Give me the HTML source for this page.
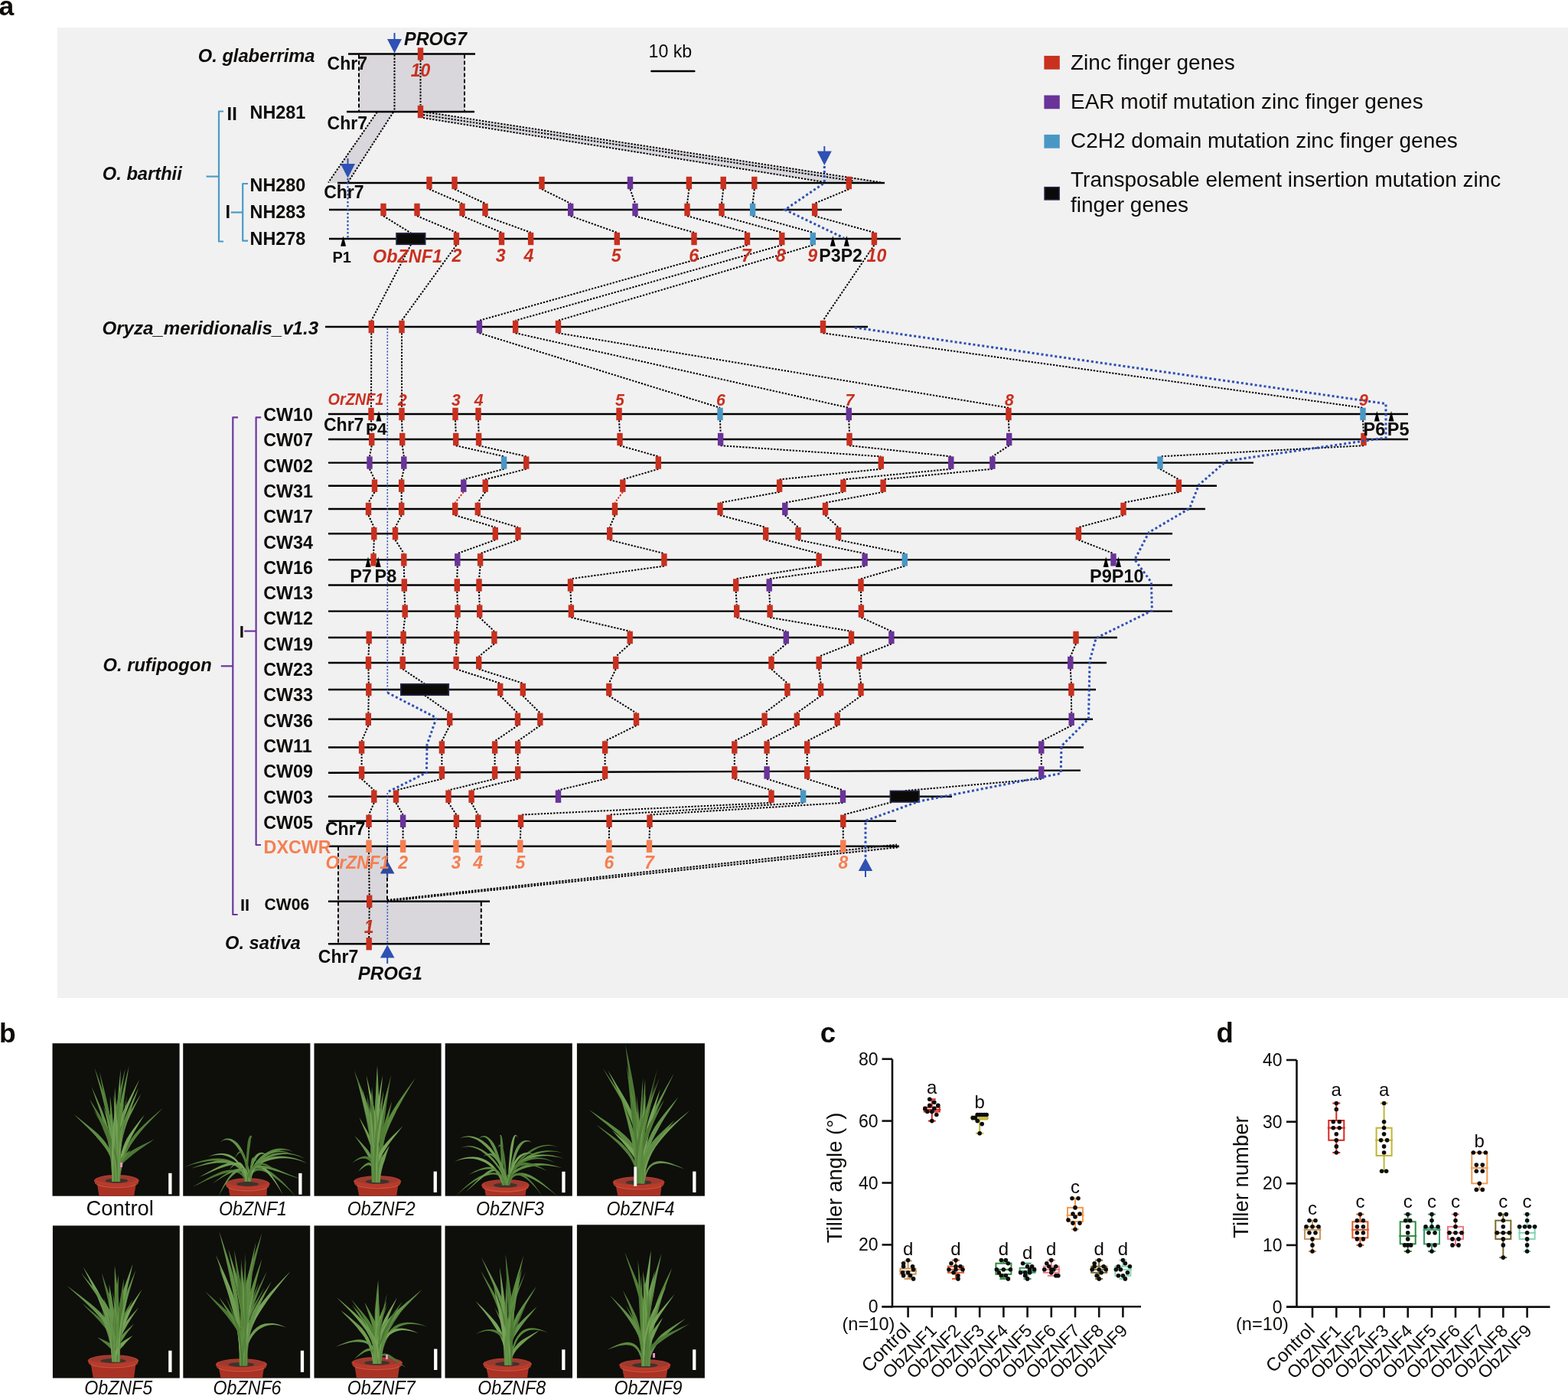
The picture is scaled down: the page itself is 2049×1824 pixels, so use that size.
<!DOCTYPE html>
<html><head><meta charset="utf-8"><title>Figure</title>
<style>
html,body{margin:0;padding:0;background:#fff;}
svg{display:block;}
text{font-family:"Liberation Sans",Arial,sans-serif;}
</style></head>
<body>
<svg width="2049" height="1824" viewBox="0 0 2049 1824">
<rect width="2049" height="1824" fill="#fff"/>
<rect x="75" y="36" width="1974" height="1268" fill="#f1f1f1"/>
<rect x="469" y="71.5" width="138" height="74" fill="#d9d7db"/>
<polygon points="492.7,146 514,146 454.5,239 429,239" fill="#d9d7db"/>
<polygon points="553,146 1150,238 1075,238 553,154" fill="#d9d7db"/>
<rect x="442" y="1106.5" width="64" height="71" fill="#d9d7db"/>
<rect x="442" y="1178.5" width="187" height="54" fill="#d9d7db"/>
<polygon points="506,1176 1172,1103.5 1175,1107 506,1177.5" fill="#d9d7db"/>
<line x1="469" y1="71.5" x2="469" y2="145" stroke="#000" stroke-width="2" stroke-dasharray="5 3"/>
<line x1="607" y1="71.5" x2="607" y2="145" stroke="#000" stroke-width="2" stroke-dasharray="5 3"/>
<line x1="515.5" y1="71.5" x2="515.5" y2="145" stroke="#000" stroke-width="2" stroke-dasharray="2.3 1.8"/>
<line x1="549.5" y1="78.5" x2="549.5" y2="137.5" stroke="#000" stroke-width="2" stroke-dasharray="2.3 1.8"/>
<line x1="442" y1="1106.5" x2="442" y2="1232" stroke="#000" stroke-width="2" stroke-dasharray="5 3"/>
<line x1="506" y1="1106.5" x2="506" y2="1177" stroke="#000" stroke-width="2" stroke-dasharray="5 3"/>
<line x1="628.8" y1="1179" x2="628.8" y2="1232" stroke="#000" stroke-width="2" stroke-dasharray="5 3"/>
<line x1="492.7" y1="146.5" x2="429" y2="238.5" stroke="#000" stroke-width="2" stroke-dasharray="2.3 1.8"/>
<line x1="514" y1="146.5" x2="454.5" y2="238.5" stroke="#000" stroke-width="2" stroke-dasharray="2.3 1.8"/>
<line x1="553" y1="146" x2="1152" y2="238.5" stroke="#000" stroke-width="2" stroke-dasharray="2.3 1.8"/>
<line x1="553" y1="150" x2="1115" y2="236.5" stroke="#000" stroke-width="2" stroke-dasharray="2.3 1.8"/>
<line x1="553" y1="154" x2="1075" y2="237.5" stroke="#000" stroke-width="2" stroke-dasharray="2.3 1.8"/>
<line x1="506" y1="1176" x2="1172" y2="1103.5" stroke="#000" stroke-width="2" stroke-dasharray="2.3 1.8"/>
<line x1="506" y1="1177.5" x2="1175" y2="1107" stroke="#000" stroke-width="2" stroke-dasharray="2.3 1.8"/>
<line x1="561" y1="247.2" x2="604" y2="265.8" stroke="#000" stroke-width="2" stroke-dasharray="2.3 1.8"/>
<line x1="594" y1="247.2" x2="634" y2="265.8" stroke="#000" stroke-width="2" stroke-dasharray="2.3 1.8"/>
<line x1="708" y1="247.2" x2="745.7" y2="265.8" stroke="#000" stroke-width="2" stroke-dasharray="2.3 1.8"/>
<line x1="823.5" y1="247.2" x2="830" y2="265.8" stroke="#000" stroke-width="2" stroke-dasharray="2.3 1.8"/>
<line x1="900.4" y1="247.2" x2="898" y2="265.8" stroke="#000" stroke-width="2" stroke-dasharray="2.3 1.8"/>
<line x1="945.2" y1="247.2" x2="943" y2="265.8" stroke="#000" stroke-width="2" stroke-dasharray="2.3 1.8"/>
<line x1="985.8" y1="247.2" x2="983.6" y2="265.8" stroke="#000" stroke-width="2" stroke-dasharray="2.3 1.8"/>
<line x1="1109.3" y1="247.2" x2="1064.6" y2="265.8" stroke="#000" stroke-width="2" stroke-dasharray="2.3 1.8"/>
<line x1="501" y1="282.2" x2="537" y2="304.5" stroke="#000" stroke-width="2" stroke-dasharray="2.3 1.8"/>
<line x1="545" y1="282.2" x2="596.4" y2="303.8" stroke="#000" stroke-width="2" stroke-dasharray="2.3 1.8"/>
<line x1="604" y1="282.2" x2="655.5" y2="303.8" stroke="#000" stroke-width="2" stroke-dasharray="2.3 1.8"/>
<line x1="634" y1="282.2" x2="693.6" y2="303.8" stroke="#000" stroke-width="2" stroke-dasharray="2.3 1.8"/>
<line x1="745.7" y1="282.2" x2="806.3" y2="303.8" stroke="#000" stroke-width="2" stroke-dasharray="2.3 1.8"/>
<line x1="830" y1="282.2" x2="907" y2="303.8" stroke="#000" stroke-width="2" stroke-dasharray="2.3 1.8"/>
<line x1="898" y1="282.2" x2="976.5" y2="303.8" stroke="#000" stroke-width="2" stroke-dasharray="2.3 1.8"/>
<line x1="943" y1="282.2" x2="1021.8" y2="303.8" stroke="#000" stroke-width="2" stroke-dasharray="2.3 1.8"/>
<line x1="983.6" y1="282.2" x2="1062.3" y2="303.8" stroke="#000" stroke-width="2" stroke-dasharray="2.3 1.8"/>
<line x1="1064.6" y1="282.2" x2="1142.4" y2="303.8" stroke="#000" stroke-width="2" stroke-dasharray="2.3 1.8"/>
<line x1="537" y1="319.5" x2="485.3" y2="418.8" stroke="#000" stroke-width="2" stroke-dasharray="2.3 1.8"/>
<line x1="596.4" y1="320.2" x2="525" y2="418.8" stroke="#000" stroke-width="2" stroke-dasharray="2.3 1.8"/>
<line x1="976.5" y1="320.2" x2="626.4" y2="418.8" stroke="#000" stroke-width="2" stroke-dasharray="2.3 1.8"/>
<line x1="1021.8" y1="320.2" x2="673.6" y2="418.8" stroke="#000" stroke-width="2" stroke-dasharray="2.3 1.8"/>
<line x1="1062.3" y1="320.2" x2="729.5" y2="418.8" stroke="#000" stroke-width="2" stroke-dasharray="2.3 1.8"/>
<line x1="1142.4" y1="320.2" x2="1075.5" y2="418.8" stroke="#000" stroke-width="2" stroke-dasharray="2.3 1.8"/>
<line x1="485.3" y1="435.2" x2="485" y2="532.8" stroke="#000" stroke-width="2" stroke-dasharray="2.3 1.8"/>
<line x1="525" y1="435.2" x2="525" y2="532.8" stroke="#000" stroke-width="2" stroke-dasharray="2.3 1.8"/>
<line x1="626.4" y1="435.2" x2="941" y2="532.8" stroke="#000" stroke-width="2" stroke-dasharray="2.3 1.8"/>
<line x1="673.6" y1="435.2" x2="1109.3" y2="532.8" stroke="#000" stroke-width="2" stroke-dasharray="2.3 1.8"/>
<line x1="729.5" y1="435.2" x2="1318" y2="532.8" stroke="#000" stroke-width="2" stroke-dasharray="2.3 1.8"/>
<line x1="1075.5" y1="435.2" x2="1781" y2="532.8" stroke="#000" stroke-width="2" stroke-dasharray="2.3 1.8"/>
<line x1="485" y1="549.2" x2="485.7" y2="565.8" stroke="#000" stroke-width="2" stroke-dasharray="2.3 1.8"/>
<line x1="525" y1="549.2" x2="525.7" y2="565.8" stroke="#000" stroke-width="2" stroke-dasharray="2.3 1.8"/>
<line x1="595" y1="549.2" x2="595.7" y2="565.8" stroke="#000" stroke-width="2" stroke-dasharray="2.3 1.8"/>
<line x1="625" y1="549.2" x2="625.6" y2="565.8" stroke="#000" stroke-width="2" stroke-dasharray="2.3 1.8"/>
<line x1="809" y1="549.2" x2="810" y2="565.8" stroke="#000" stroke-width="2" stroke-dasharray="2.3 1.8"/>
<line x1="941" y1="549.2" x2="941.6" y2="565.8" stroke="#000" stroke-width="2" stroke-dasharray="2.3 1.8"/>
<line x1="1109.3" y1="549.2" x2="1110" y2="565.8" stroke="#000" stroke-width="2" stroke-dasharray="2.3 1.8"/>
<line x1="1318" y1="549.2" x2="1318.7" y2="565.8" stroke="#000" stroke-width="2" stroke-dasharray="2.3 1.8"/>
<line x1="1781" y1="549.2" x2="1782" y2="565.8" stroke="#000" stroke-width="2" stroke-dasharray="2.3 1.8"/>
<line x1="485.7" y1="582.2" x2="483" y2="596.4" stroke="#000" stroke-width="2" stroke-dasharray="2.3 1.8"/>
<line x1="525.7" y1="582.2" x2="527.8" y2="596.4" stroke="#000" stroke-width="2" stroke-dasharray="2.3 1.8"/>
<line x1="595.7" y1="582.2" x2="658.6" y2="596.4" stroke="#000" stroke-width="2" stroke-dasharray="2.3 1.8"/>
<line x1="625.6" y1="582.2" x2="687.7" y2="596.4" stroke="#000" stroke-width="2" stroke-dasharray="2.3 1.8"/>
<line x1="810" y1="582.2" x2="860.3" y2="596.4" stroke="#000" stroke-width="2" stroke-dasharray="2.3 1.8"/>
<line x1="941.6" y1="582.2" x2="1151.3" y2="596.4" stroke="#000" stroke-width="2" stroke-dasharray="2.3 1.8"/>
<line x1="1110" y1="582.2" x2="1242.8" y2="596.4" stroke="#000" stroke-width="2" stroke-dasharray="2.3 1.8"/>
<line x1="1318.7" y1="582.2" x2="1296.9" y2="596.4" stroke="#000" stroke-width="2" stroke-dasharray="2.3 1.8"/>
<line x1="1782" y1="582.2" x2="1516" y2="596.4" stroke="#000" stroke-width="2" stroke-dasharray="2.3 1.8"/>
<line x1="483" y1="612.8" x2="489.5" y2="626.5" stroke="#000" stroke-width="2" stroke-dasharray="2.3 1.8"/>
<line x1="527.8" y1="612.8" x2="524.7" y2="626.5" stroke="#000" stroke-width="2" stroke-dasharray="2.3 1.8"/>
<line x1="658.6" y1="612.8" x2="605.8" y2="626.5" stroke="#000" stroke-width="2" stroke-dasharray="2.3 1.8"/>
<line x1="687.7" y1="612.8" x2="634.2" y2="626.5" stroke="#000" stroke-width="2" stroke-dasharray="2.3 1.8"/>
<line x1="860.3" y1="612.8" x2="813.8" y2="626.5" stroke="#000" stroke-width="2" stroke-dasharray="2.3 1.8"/>
<line x1="1151.3" y1="612.8" x2="1018.6" y2="626.5" stroke="#000" stroke-width="2" stroke-dasharray="2.3 1.8"/>
<line x1="1242.8" y1="612.8" x2="1101.9" y2="626.5" stroke="#000" stroke-width="2" stroke-dasharray="2.3 1.8"/>
<line x1="1296.9" y1="612.8" x2="1154.1" y2="626.5" stroke="#000" stroke-width="2" stroke-dasharray="2.3 1.8"/>
<line x1="1516" y1="612.8" x2="1540.4" y2="626.5" stroke="#000" stroke-width="2" stroke-dasharray="2.3 1.8"/>
<line x1="489.5" y1="642.9" x2="481.5" y2="656.8" stroke="#000" stroke-width="2" stroke-dasharray="2.3 1.8"/>
<line x1="524.7" y1="642.9" x2="524.7" y2="656.8" stroke="#000" stroke-width="2" stroke-dasharray="2.3 1.8"/>
<line x1="605.8" y1="642.9" x2="594.7" y2="656.8" stroke="#c9301f" stroke-width="2" stroke-dasharray="2.3 1.8"/>
<line x1="634.2" y1="642.9" x2="624.3" y2="656.8" stroke="#000" stroke-width="2" stroke-dasharray="2.3 1.8"/>
<line x1="813.8" y1="642.9" x2="803.5" y2="656.8" stroke="#c9301f" stroke-width="2" stroke-dasharray="2.3 1.8"/>
<line x1="1018.6" y1="642.9" x2="941" y2="656.8" stroke="#000" stroke-width="2" stroke-dasharray="2.3 1.8"/>
<line x1="1101.9" y1="642.9" x2="1025.8" y2="656.8" stroke="#000" stroke-width="2" stroke-dasharray="2.3 1.8"/>
<line x1="1154.1" y1="642.9" x2="1078.5" y2="656.8" stroke="#000" stroke-width="2" stroke-dasharray="2.3 1.8"/>
<line x1="1540.4" y1="642.9" x2="1468" y2="656.8" stroke="#000" stroke-width="2" stroke-dasharray="2.3 1.8"/>
<line x1="481.5" y1="673.2" x2="488.8" y2="689" stroke="#000" stroke-width="2" stroke-dasharray="2.3 1.8"/>
<line x1="524.7" y1="673.2" x2="516.5" y2="689" stroke="#000" stroke-width="2" stroke-dasharray="2.3 1.8"/>
<line x1="594.7" y1="673.2" x2="647.3" y2="689" stroke="#000" stroke-width="2" stroke-dasharray="2.3 1.8"/>
<line x1="624.3" y1="673.2" x2="677" y2="689" stroke="#000" stroke-width="2" stroke-dasharray="2.3 1.8"/>
<line x1="803.5" y1="673.2" x2="796.7" y2="689" stroke="#000" stroke-width="2" stroke-dasharray="2.3 1.8"/>
<line x1="941" y1="673.2" x2="1000.7" y2="689" stroke="#000" stroke-width="2" stroke-dasharray="2.3 1.8"/>
<line x1="1025.8" y1="673.2" x2="1043" y2="689" stroke="#000" stroke-width="2" stroke-dasharray="2.3 1.8"/>
<line x1="1078.5" y1="673.2" x2="1095.6" y2="689" stroke="#000" stroke-width="2" stroke-dasharray="2.3 1.8"/>
<line x1="1468" y1="673.2" x2="1409.4" y2="689" stroke="#000" stroke-width="2" stroke-dasharray="2.3 1.8"/>
<line x1="488.8" y1="705.4" x2="488.1" y2="723.2" stroke="#000" stroke-width="2" stroke-dasharray="2.3 1.8"/>
<line x1="516.5" y1="705.4" x2="527.8" y2="723.2" stroke="#000" stroke-width="2" stroke-dasharray="2.3 1.8"/>
<line x1="647.3" y1="705.4" x2="597.8" y2="723.2" stroke="#000" stroke-width="2" stroke-dasharray="2.3 1.8"/>
<line x1="677" y1="705.4" x2="627.6" y2="723.2" stroke="#000" stroke-width="2" stroke-dasharray="2.3 1.8"/>
<line x1="796.7" y1="705.4" x2="867.9" y2="723.2" stroke="#000" stroke-width="2" stroke-dasharray="2.3 1.8"/>
<line x1="1000.7" y1="705.4" x2="1070.2" y2="723.2" stroke="#000" stroke-width="2" stroke-dasharray="2.3 1.8"/>
<line x1="1043" y1="705.4" x2="1130.1" y2="723.2" stroke="#000" stroke-width="2" stroke-dasharray="2.3 1.8"/>
<line x1="1095.6" y1="705.4" x2="1182.3" y2="723.2" stroke="#000" stroke-width="2" stroke-dasharray="2.3 1.8"/>
<line x1="1409.4" y1="705.4" x2="1455" y2="723.2" stroke="#000" stroke-width="2" stroke-dasharray="2.3 1.8"/>
<line x1="527.8" y1="739.6" x2="528.3" y2="756.3" stroke="#000" stroke-width="2" stroke-dasharray="2.3 1.8"/>
<line x1="597.8" y1="739.6" x2="597.3" y2="756.3" stroke="#000" stroke-width="2" stroke-dasharray="2.3 1.8"/>
<line x1="627.6" y1="739.6" x2="626" y2="756.3" stroke="#000" stroke-width="2" stroke-dasharray="2.3 1.8"/>
<line x1="867.9" y1="739.6" x2="745.5" y2="756.3" stroke="#000" stroke-width="2" stroke-dasharray="2.3 1.8"/>
<line x1="1070.2" y1="739.6" x2="961.7" y2="756.3" stroke="#000" stroke-width="2" stroke-dasharray="2.3 1.8"/>
<line x1="1130.1" y1="739.6" x2="1005.2" y2="756.3" stroke="#000" stroke-width="2" stroke-dasharray="2.3 1.8"/>
<line x1="1182.3" y1="739.6" x2="1125" y2="756.3" stroke="#000" stroke-width="2" stroke-dasharray="2.3 1.8"/>
<line x1="528.3" y1="772.7" x2="529.2" y2="790.4" stroke="#000" stroke-width="2" stroke-dasharray="2.3 1.8"/>
<line x1="597.3" y1="772.7" x2="598" y2="790.4" stroke="#000" stroke-width="2" stroke-dasharray="2.3 1.8"/>
<line x1="626" y1="772.7" x2="626.7" y2="790.4" stroke="#000" stroke-width="2" stroke-dasharray="2.3 1.8"/>
<line x1="745.5" y1="772.7" x2="746.4" y2="790.4" stroke="#000" stroke-width="2" stroke-dasharray="2.3 1.8"/>
<line x1="961.7" y1="772.7" x2="962.7" y2="790.4" stroke="#000" stroke-width="2" stroke-dasharray="2.3 1.8"/>
<line x1="1005.2" y1="772.7" x2="1006.1" y2="790.4" stroke="#000" stroke-width="2" stroke-dasharray="2.3 1.8"/>
<line x1="1125" y1="772.7" x2="1125.4" y2="790.4" stroke="#000" stroke-width="2" stroke-dasharray="2.3 1.8"/>
<line x1="529.2" y1="806.8" x2="527.1" y2="824.8" stroke="#000" stroke-width="2" stroke-dasharray="2.3 1.8"/>
<line x1="598" y1="806.8" x2="596.8" y2="824.8" stroke="#000" stroke-width="2" stroke-dasharray="2.3 1.8"/>
<line x1="626.7" y1="806.8" x2="645.9" y2="824.8" stroke="#000" stroke-width="2" stroke-dasharray="2.3 1.8"/>
<line x1="746.4" y1="806.8" x2="823.2" y2="824.8" stroke="#000" stroke-width="2" stroke-dasharray="2.3 1.8"/>
<line x1="962.7" y1="806.8" x2="1027.3" y2="824.8" stroke="#000" stroke-width="2" stroke-dasharray="2.3 1.8"/>
<line x1="1006.1" y1="806.8" x2="1112.5" y2="824.8" stroke="#000" stroke-width="2" stroke-dasharray="2.3 1.8"/>
<line x1="1125.4" y1="806.8" x2="1164.9" y2="824.8" stroke="#000" stroke-width="2" stroke-dasharray="2.3 1.8"/>
<line x1="482.2" y1="841.2" x2="481.5" y2="857.8" stroke="#000" stroke-width="2" stroke-dasharray="2.3 1.8"/>
<line x1="527.1" y1="841.2" x2="526.2" y2="857.8" stroke="#000" stroke-width="2" stroke-dasharray="2.3 1.8"/>
<line x1="596.8" y1="841.2" x2="596.1" y2="857.8" stroke="#000" stroke-width="2" stroke-dasharray="2.3 1.8"/>
<line x1="645.9" y1="841.2" x2="625.7" y2="857.8" stroke="#000" stroke-width="2" stroke-dasharray="2.3 1.8"/>
<line x1="823.2" y1="841.2" x2="804.7" y2="857.8" stroke="#000" stroke-width="2" stroke-dasharray="2.3 1.8"/>
<line x1="1027.3" y1="841.2" x2="1008" y2="857.8" stroke="#000" stroke-width="2" stroke-dasharray="2.3 1.8"/>
<line x1="1112.5" y1="841.2" x2="1070.2" y2="857.8" stroke="#000" stroke-width="2" stroke-dasharray="2.3 1.8"/>
<line x1="1164.9" y1="841.2" x2="1122.8" y2="857.8" stroke="#000" stroke-width="2" stroke-dasharray="2.3 1.8"/>
<line x1="1406" y1="841.2" x2="1398.8" y2="857.8" stroke="#000" stroke-width="2" stroke-dasharray="2.3 1.8"/>
<line x1="481.5" y1="874.2" x2="481.8" y2="892.8" stroke="#000" stroke-width="2" stroke-dasharray="2.3 1.8"/>
<line x1="526.2" y1="874.2" x2="555" y2="893.5" stroke="#000" stroke-width="2" stroke-dasharray="2.3 1.8"/>
<line x1="596.1" y1="874.2" x2="653.7" y2="892.8" stroke="#000" stroke-width="2" stroke-dasharray="2.3 1.8"/>
<line x1="625.7" y1="874.2" x2="683.3" y2="892.8" stroke="#000" stroke-width="2" stroke-dasharray="2.3 1.8"/>
<line x1="804.7" y1="874.2" x2="795.8" y2="892.8" stroke="#000" stroke-width="2" stroke-dasharray="2.3 1.8"/>
<line x1="1008" y1="874.2" x2="1028.9" y2="892.8" stroke="#000" stroke-width="2" stroke-dasharray="2.3 1.8"/>
<line x1="1070.2" y1="874.2" x2="1072.6" y2="892.8" stroke="#000" stroke-width="2" stroke-dasharray="2.3 1.8"/>
<line x1="1122.8" y1="874.2" x2="1125" y2="892.8" stroke="#000" stroke-width="2" stroke-dasharray="2.3 1.8"/>
<line x1="1398.8" y1="874.2" x2="1399.9" y2="892.8" stroke="#000" stroke-width="2" stroke-dasharray="2.3 1.8"/>
<line x1="481.8" y1="909.2" x2="481.3" y2="931.6" stroke="#000" stroke-width="2" stroke-dasharray="2.3 1.8"/>
<line x1="555" y1="908.5" x2="587.7" y2="931.6" stroke="#000" stroke-width="2" stroke-dasharray="2.3 1.8"/>
<line x1="653.7" y1="909.2" x2="676.5" y2="931.6" stroke="#000" stroke-width="2" stroke-dasharray="2.3 1.8"/>
<line x1="683.3" y1="909.2" x2="705.8" y2="931.6" stroke="#000" stroke-width="2" stroke-dasharray="2.3 1.8"/>
<line x1="795.8" y1="909.2" x2="831.5" y2="931.6" stroke="#000" stroke-width="2" stroke-dasharray="2.3 1.8"/>
<line x1="1028.9" y1="909.2" x2="999.1" y2="931.6" stroke="#000" stroke-width="2" stroke-dasharray="2.3 1.8"/>
<line x1="1072.6" y1="909.2" x2="1041.3" y2="931.6" stroke="#000" stroke-width="2" stroke-dasharray="2.3 1.8"/>
<line x1="1125" y1="909.2" x2="1094.2" y2="931.6" stroke="#000" stroke-width="2" stroke-dasharray="2.3 1.8"/>
<line x1="1399.9" y1="909.2" x2="1400.2" y2="931.6" stroke="#000" stroke-width="2" stroke-dasharray="2.3 1.8"/>
<line x1="481.3" y1="948" x2="472.6" y2="968.3" stroke="#000" stroke-width="2" stroke-dasharray="2.3 1.8"/>
<line x1="587.7" y1="948" x2="577.4" y2="968.3" stroke="#000" stroke-width="2" stroke-dasharray="2.3 1.8"/>
<line x1="676.5" y1="948" x2="646.6" y2="968.3" stroke="#000" stroke-width="2" stroke-dasharray="2.3 1.8"/>
<line x1="705.8" y1="948" x2="676.7" y2="968.3" stroke="#000" stroke-width="2" stroke-dasharray="2.3 1.8"/>
<line x1="831.5" y1="948" x2="790.6" y2="968.3" stroke="#000" stroke-width="2" stroke-dasharray="2.3 1.8"/>
<line x1="999.1" y1="948" x2="959.8" y2="968.3" stroke="#000" stroke-width="2" stroke-dasharray="2.3 1.8"/>
<line x1="1041.3" y1="948" x2="1002.1" y2="968.3" stroke="#000" stroke-width="2" stroke-dasharray="2.3 1.8"/>
<line x1="1094.2" y1="948" x2="1054.7" y2="968.3" stroke="#000" stroke-width="2" stroke-dasharray="2.3 1.8"/>
<line x1="1400.2" y1="948" x2="1360.8" y2="968.3" stroke="#000" stroke-width="2" stroke-dasharray="2.3 1.8"/>
<line x1="472.6" y1="984.7" x2="472.6" y2="1001.3" stroke="#000" stroke-width="2" stroke-dasharray="2.3 1.8"/>
<line x1="577.4" y1="984.7" x2="577.4" y2="1001.3" stroke="#000" stroke-width="2" stroke-dasharray="2.3 1.8"/>
<line x1="646.6" y1="984.7" x2="646.6" y2="1001.3" stroke="#000" stroke-width="2" stroke-dasharray="2.3 1.8"/>
<line x1="676.7" y1="984.7" x2="676.7" y2="1001.3" stroke="#000" stroke-width="2" stroke-dasharray="2.3 1.8"/>
<line x1="790.6" y1="984.7" x2="790.6" y2="1001.3" stroke="#000" stroke-width="2" stroke-dasharray="2.3 1.8"/>
<line x1="959.8" y1="984.7" x2="959.8" y2="1001.3" stroke="#000" stroke-width="2" stroke-dasharray="2.3 1.8"/>
<line x1="1002.1" y1="984.7" x2="1002.1" y2="1001.3" stroke="#000" stroke-width="2" stroke-dasharray="2.3 1.8"/>
<line x1="1054.7" y1="984.7" x2="1054.7" y2="1001.3" stroke="#000" stroke-width="2" stroke-dasharray="2.3 1.8"/>
<line x1="1360.8" y1="984.7" x2="1360.8" y2="1001.3" stroke="#000" stroke-width="2" stroke-dasharray="2.3 1.8"/>
<line x1="472.6" y1="1017.7" x2="488.8" y2="1032.5" stroke="#000" stroke-width="2" stroke-dasharray="2.3 1.8"/>
<line x1="577.4" y1="1017.7" x2="517.5" y2="1032.5" stroke="#000" stroke-width="2" stroke-dasharray="2.3 1.8"/>
<line x1="646.6" y1="1017.7" x2="586" y2="1032.5" stroke="#000" stroke-width="2" stroke-dasharray="2.3 1.8"/>
<line x1="676.7" y1="1017.7" x2="616.1" y2="1032.5" stroke="#000" stroke-width="2" stroke-dasharray="2.3 1.8"/>
<line x1="790.6" y1="1017.7" x2="729.5" y2="1032.5" stroke="#000" stroke-width="2" stroke-dasharray="2.3 1.8"/>
<line x1="959.8" y1="1017.7" x2="1008" y2="1032.5" stroke="#000" stroke-width="2" stroke-dasharray="2.3 1.8"/>
<line x1="1002.1" y1="1017.7" x2="1049.6" y2="1032.5" stroke="#000" stroke-width="2" stroke-dasharray="2.3 1.8"/>
<line x1="1054.7" y1="1017.7" x2="1101.5" y2="1032.5" stroke="#000" stroke-width="2" stroke-dasharray="2.3 1.8"/>
<line x1="1360.8" y1="1017.7" x2="1182" y2="1033.2" stroke="#000" stroke-width="2" stroke-dasharray="2.3 1.8"/>
<line x1="488.8" y1="1048.9" x2="482" y2="1064.6" stroke="#000" stroke-width="2" stroke-dasharray="2.3 1.8"/>
<line x1="517.5" y1="1048.9" x2="526.6" y2="1064.6" stroke="#000" stroke-width="2" stroke-dasharray="2.3 1.8"/>
<line x1="586" y1="1048.9" x2="596.4" y2="1064.6" stroke="#000" stroke-width="2" stroke-dasharray="2.3 1.8"/>
<line x1="616.1" y1="1048.9" x2="624.8" y2="1064.6" stroke="#000" stroke-width="2" stroke-dasharray="2.3 1.8"/>
<line x1="1008" y1="1048.9" x2="680.5" y2="1064.6" stroke="#000" stroke-width="2" stroke-dasharray="2.3 1.8"/>
<line x1="1049.6" y1="1048.9" x2="796.1" y2="1064.6" stroke="#000" stroke-width="2" stroke-dasharray="2.3 1.8"/>
<line x1="1101.5" y1="1048.9" x2="849" y2="1064.6" stroke="#000" stroke-width="2" stroke-dasharray="2.3 1.8"/>
<line x1="1165" y1="1048.2" x2="1101.8" y2="1064.6" stroke="#000" stroke-width="2" stroke-dasharray="2.3 1.8"/>
<line x1="482" y1="1081" x2="482" y2="1097.5" stroke="#000" stroke-width="2" stroke-dasharray="2.3 1.8"/>
<line x1="526.6" y1="1081" x2="526.6" y2="1097.5" stroke="#000" stroke-width="2" stroke-dasharray="2.3 1.8"/>
<line x1="596.4" y1="1081" x2="595.9" y2="1097.5" stroke="#000" stroke-width="2" stroke-dasharray="2.3 1.8"/>
<line x1="624.8" y1="1081" x2="624.6" y2="1097.5" stroke="#000" stroke-width="2" stroke-dasharray="2.3 1.8"/>
<line x1="680.5" y1="1081" x2="679.8" y2="1097.5" stroke="#000" stroke-width="2" stroke-dasharray="2.3 1.8"/>
<line x1="796.1" y1="1081" x2="795.9" y2="1097.5" stroke="#000" stroke-width="2" stroke-dasharray="2.3 1.8"/>
<line x1="849" y1="1081" x2="848.5" y2="1097.5" stroke="#000" stroke-width="2" stroke-dasharray="2.3 1.8"/>
<line x1="1101.8" y1="1081" x2="1101.8" y2="1097.5" stroke="#000" stroke-width="2" stroke-dasharray="2.3 1.8"/>
<line x1="482" y1="1113.9" x2="482.7" y2="1169.6" stroke="#000" stroke-width="2" stroke-dasharray="2.3 1.8"/>
<line x1="482.7" y1="1186" x2="482.2" y2="1225" stroke="#000" stroke-width="2" stroke-dasharray="2.3 1.8"/>
<line x1="455" y1="70.5" x2="621" y2="70.5" stroke="#000" stroke-width="2.4"/>
<line x1="453" y1="146" x2="620" y2="146" stroke="#000" stroke-width="2.4"/>
<line x1="441" y1="239" x2="1156" y2="239" stroke="#000" stroke-width="2.4"/>
<line x1="430" y1="274" x2="1100" y2="274" stroke="#000" stroke-width="2.4"/>
<line x1="430" y1="312" x2="1177" y2="312" stroke="#000" stroke-width="2.4"/>
<line x1="425" y1="427" x2="1134" y2="427" stroke="#000" stroke-width="2.4"/>
<line x1="429" y1="541" x2="1840" y2="541" stroke="#000" stroke-width="2.4"/>
<line x1="429" y1="574" x2="1840" y2="574" stroke="#000" stroke-width="2.4"/>
<line x1="429" y1="604.6" x2="1638" y2="604.6" stroke="#000" stroke-width="2.4"/>
<line x1="429" y1="634.7" x2="1590" y2="634.7" stroke="#000" stroke-width="2.4"/>
<line x1="429" y1="665" x2="1575" y2="665" stroke="#000" stroke-width="2.4"/>
<line x1="429" y1="697.2" x2="1532" y2="697.2" stroke="#000" stroke-width="2.4"/>
<line x1="429" y1="731.4" x2="1529" y2="731.4" stroke="#000" stroke-width="2.4"/>
<line x1="429" y1="764.5" x2="1532" y2="764.5" stroke="#000" stroke-width="2.4"/>
<line x1="429" y1="798.6" x2="1532" y2="798.6" stroke="#000" stroke-width="2.4"/>
<line x1="429" y1="833" x2="1460" y2="833" stroke="#000" stroke-width="2.4"/>
<line x1="429" y1="866" x2="1446" y2="866" stroke="#000" stroke-width="2.4"/>
<line x1="429" y1="901" x2="1432" y2="901" stroke="#000" stroke-width="2.4"/>
<line x1="429" y1="939.8" x2="1428" y2="939.8" stroke="#000" stroke-width="2.4"/>
<line x1="429" y1="976.5" x2="1416" y2="976.5" stroke="#000" stroke-width="2.4"/>
<line x1="429" y1="1009.8" x2="1412" y2="1006.6" stroke="#000" stroke-width="2.4"/>
<line x1="429" y1="1040.7" x2="1244" y2="1040.7" stroke="#000" stroke-width="2.4"/>
<line x1="429" y1="1072.8" x2="1171" y2="1072.8" stroke="#000" stroke-width="2.4"/>
<line x1="429" y1="1105.7" x2="1175" y2="1105.7" stroke="#000" stroke-width="2.4"/>
<line x1="429" y1="1177.8" x2="640" y2="1177.8" stroke="#000" stroke-width="2.4"/>
<line x1="429" y1="1233.2" x2="640" y2="1233.2" stroke="#000" stroke-width="2.4"/>
<rect x="545.8" y="62.3" width="7.4" height="16.4" fill="#c9301f"/>
<rect x="545.8" y="137.8" width="7.4" height="16.4" fill="#c9301f"/>
<rect x="557.3" y="230.8" width="7.4" height="16.4" fill="#c9301f"/>
<rect x="590.3" y="230.8" width="7.4" height="16.4" fill="#c9301f"/>
<rect x="704.3" y="230.8" width="7.4" height="16.4" fill="#c9301f"/>
<rect x="819.8" y="230.8" width="7.4" height="16.4" fill="#6a3399"/>
<rect x="896.7" y="230.8" width="7.4" height="16.4" fill="#c9301f"/>
<rect x="941.5" y="230.8" width="7.4" height="16.4" fill="#c9301f"/>
<rect x="982.1" y="230.8" width="7.4" height="16.4" fill="#c9301f"/>
<rect x="1105.6" y="230.8" width="7.4" height="16.4" fill="#c9301f"/>
<rect x="497.3" y="265.8" width="7.4" height="16.4" fill="#c9301f"/>
<rect x="541.3" y="265.8" width="7.4" height="16.4" fill="#c9301f"/>
<rect x="600.3" y="265.8" width="7.4" height="16.4" fill="#c9301f"/>
<rect x="630.3" y="265.8" width="7.4" height="16.4" fill="#c9301f"/>
<rect x="742" y="265.8" width="7.4" height="16.4" fill="#6a3399"/>
<rect x="826.3" y="265.8" width="7.4" height="16.4" fill="#6a3399"/>
<rect x="894.3" y="265.8" width="7.4" height="16.4" fill="#c9301f"/>
<rect x="939.3" y="265.8" width="7.4" height="16.4" fill="#c9301f"/>
<rect x="979.9" y="265.8" width="7.4" height="16.4" fill="#4a97c5"/>
<rect x="1060.9" y="265.8" width="7.4" height="16.4" fill="#c9301f"/>
<rect x="592.7" y="303.8" width="7.4" height="16.4" fill="#c9301f"/>
<rect x="651.8" y="303.8" width="7.4" height="16.4" fill="#c9301f"/>
<rect x="689.9" y="303.8" width="7.4" height="16.4" fill="#c9301f"/>
<rect x="802.6" y="303.8" width="7.4" height="16.4" fill="#c9301f"/>
<rect x="903.3" y="303.8" width="7.4" height="16.4" fill="#c9301f"/>
<rect x="972.8" y="303.8" width="7.4" height="16.4" fill="#c9301f"/>
<rect x="1018.1" y="303.8" width="7.4" height="16.4" fill="#c9301f"/>
<rect x="1058.6" y="303.8" width="7.4" height="16.4" fill="#4a97c5"/>
<rect x="1138.7" y="303.8" width="7.4" height="16.4" fill="#c9301f"/>
<rect x="481.6" y="418.8" width="7.4" height="16.4" fill="#c9301f"/>
<rect x="521.3" y="418.8" width="7.4" height="16.4" fill="#c9301f"/>
<rect x="622.7" y="418.8" width="7.4" height="16.4" fill="#6a3399"/>
<rect x="669.9" y="418.8" width="7.4" height="16.4" fill="#c9301f"/>
<rect x="725.8" y="418.8" width="7.4" height="16.4" fill="#c9301f"/>
<rect x="1071.8" y="418.8" width="7.4" height="16.4" fill="#c9301f"/>
<rect x="481.3" y="532.8" width="7.4" height="16.4" fill="#c9301f"/>
<rect x="521.3" y="532.8" width="7.4" height="16.4" fill="#c9301f"/>
<rect x="591.3" y="532.8" width="7.4" height="16.4" fill="#c9301f"/>
<rect x="621.3" y="532.8" width="7.4" height="16.4" fill="#c9301f"/>
<rect x="805.3" y="532.8" width="7.4" height="16.4" fill="#c9301f"/>
<rect x="937.3" y="532.8" width="7.4" height="16.4" fill="#4a97c5"/>
<rect x="1105.6" y="532.8" width="7.4" height="16.4" fill="#6a3399"/>
<rect x="1314.3" y="532.8" width="7.4" height="16.4" fill="#c9301f"/>
<rect x="1777.3" y="532.8" width="7.4" height="16.4" fill="#4a97c5"/>
<rect x="482" y="565.8" width="7.4" height="16.4" fill="#c9301f"/>
<rect x="522" y="565.8" width="7.4" height="16.4" fill="#c9301f"/>
<rect x="592" y="565.8" width="7.4" height="16.4" fill="#c9301f"/>
<rect x="621.9" y="565.8" width="7.4" height="16.4" fill="#c9301f"/>
<rect x="806.3" y="565.8" width="7.4" height="16.4" fill="#c9301f"/>
<rect x="937.9" y="565.8" width="7.4" height="16.4" fill="#6a3399"/>
<rect x="1106.3" y="565.8" width="7.4" height="16.4" fill="#c9301f"/>
<rect x="1315" y="565.8" width="7.4" height="16.4" fill="#6a3399"/>
<rect x="1778.3" y="565.8" width="7.4" height="16.4" fill="#c9301f"/>
<rect x="479.3" y="596.4" width="7.4" height="16.4" fill="#6a3399"/>
<rect x="524.1" y="596.4" width="7.4" height="16.4" fill="#6a3399"/>
<rect x="654.9" y="596.4" width="7.4" height="16.4" fill="#4a97c5"/>
<rect x="684" y="596.4" width="7.4" height="16.4" fill="#c9301f"/>
<rect x="856.6" y="596.4" width="7.4" height="16.4" fill="#c9301f"/>
<rect x="1147.6" y="596.4" width="7.4" height="16.4" fill="#c9301f"/>
<rect x="1239.1" y="596.4" width="7.4" height="16.4" fill="#6a3399"/>
<rect x="1293.2" y="596.4" width="7.4" height="16.4" fill="#6a3399"/>
<rect x="1512.3" y="596.4" width="7.4" height="16.4" fill="#4a97c5"/>
<rect x="485.8" y="626.5" width="7.4" height="16.4" fill="#c9301f"/>
<rect x="521" y="626.5" width="7.4" height="16.4" fill="#c9301f"/>
<rect x="602.1" y="626.5" width="7.4" height="16.4" fill="#6a3399"/>
<rect x="630.5" y="626.5" width="7.4" height="16.4" fill="#c9301f"/>
<rect x="810.1" y="626.5" width="7.4" height="16.4" fill="#c9301f"/>
<rect x="1014.9" y="626.5" width="7.4" height="16.4" fill="#c9301f"/>
<rect x="1098.2" y="626.5" width="7.4" height="16.4" fill="#c9301f"/>
<rect x="1150.4" y="626.5" width="7.4" height="16.4" fill="#c9301f"/>
<rect x="1536.7" y="626.5" width="7.4" height="16.4" fill="#c9301f"/>
<rect x="477.8" y="656.8" width="7.4" height="16.4" fill="#c9301f"/>
<rect x="521" y="656.8" width="7.4" height="16.4" fill="#c9301f"/>
<rect x="591" y="656.8" width="7.4" height="16.4" fill="#c9301f"/>
<rect x="620.6" y="656.8" width="7.4" height="16.4" fill="#c9301f"/>
<rect x="799.8" y="656.8" width="7.4" height="16.4" fill="#c9301f"/>
<rect x="937.3" y="656.8" width="7.4" height="16.4" fill="#c9301f"/>
<rect x="1022.1" y="656.8" width="7.4" height="16.4" fill="#6a3399"/>
<rect x="1074.8" y="656.8" width="7.4" height="16.4" fill="#c9301f"/>
<rect x="1464.3" y="656.8" width="7.4" height="16.4" fill="#c9301f"/>
<rect x="485.1" y="689" width="7.4" height="16.4" fill="#c9301f"/>
<rect x="512.8" y="689" width="7.4" height="16.4" fill="#c9301f"/>
<rect x="643.6" y="689" width="7.4" height="16.4" fill="#c9301f"/>
<rect x="673.3" y="689" width="7.4" height="16.4" fill="#c9301f"/>
<rect x="793" y="689" width="7.4" height="16.4" fill="#c9301f"/>
<rect x="997" y="689" width="7.4" height="16.4" fill="#c9301f"/>
<rect x="1039.3" y="689" width="7.4" height="16.4" fill="#c9301f"/>
<rect x="1091.9" y="689" width="7.4" height="16.4" fill="#c9301f"/>
<rect x="1405.7" y="689" width="7.4" height="16.4" fill="#c9301f"/>
<rect x="484.4" y="723.2" width="7.4" height="16.4" fill="#c9301f"/>
<rect x="524.1" y="723.2" width="7.4" height="16.4" fill="#c9301f"/>
<rect x="594.1" y="723.2" width="7.4" height="16.4" fill="#6a3399"/>
<rect x="623.9" y="723.2" width="7.4" height="16.4" fill="#c9301f"/>
<rect x="864.2" y="723.2" width="7.4" height="16.4" fill="#c9301f"/>
<rect x="1066.5" y="723.2" width="7.4" height="16.4" fill="#c9301f"/>
<rect x="1126.4" y="723.2" width="7.4" height="16.4" fill="#6a3399"/>
<rect x="1178.6" y="723.2" width="7.4" height="16.4" fill="#4a97c5"/>
<rect x="1451.3" y="723.2" width="7.4" height="16.4" fill="#6a3399"/>
<rect x="524.6" y="756.3" width="7.4" height="16.4" fill="#c9301f"/>
<rect x="593.6" y="756.3" width="7.4" height="16.4" fill="#c9301f"/>
<rect x="622.3" y="756.3" width="7.4" height="16.4" fill="#c9301f"/>
<rect x="741.8" y="756.3" width="7.4" height="16.4" fill="#c9301f"/>
<rect x="958" y="756.3" width="7.4" height="16.4" fill="#c9301f"/>
<rect x="1001.5" y="756.3" width="7.4" height="16.4" fill="#6a3399"/>
<rect x="1121.3" y="756.3" width="7.4" height="16.4" fill="#c9301f"/>
<rect x="525.5" y="790.4" width="7.4" height="16.4" fill="#c9301f"/>
<rect x="594.3" y="790.4" width="7.4" height="16.4" fill="#c9301f"/>
<rect x="623" y="790.4" width="7.4" height="16.4" fill="#c9301f"/>
<rect x="742.7" y="790.4" width="7.4" height="16.4" fill="#c9301f"/>
<rect x="959" y="790.4" width="7.4" height="16.4" fill="#c9301f"/>
<rect x="1002.4" y="790.4" width="7.4" height="16.4" fill="#c9301f"/>
<rect x="1121.7" y="790.4" width="7.4" height="16.4" fill="#c9301f"/>
<rect x="478.5" y="824.8" width="7.4" height="16.4" fill="#c9301f"/>
<rect x="523.4" y="824.8" width="7.4" height="16.4" fill="#c9301f"/>
<rect x="593.1" y="824.8" width="7.4" height="16.4" fill="#c9301f"/>
<rect x="642.2" y="824.8" width="7.4" height="16.4" fill="#c9301f"/>
<rect x="819.5" y="824.8" width="7.4" height="16.4" fill="#c9301f"/>
<rect x="1023.6" y="824.8" width="7.4" height="16.4" fill="#6a3399"/>
<rect x="1108.8" y="824.8" width="7.4" height="16.4" fill="#c9301f"/>
<rect x="1161.2" y="824.8" width="7.4" height="16.4" fill="#6a3399"/>
<rect x="1402.3" y="824.8" width="7.4" height="16.4" fill="#c9301f"/>
<rect x="477.8" y="857.8" width="7.4" height="16.4" fill="#c9301f"/>
<rect x="522.5" y="857.8" width="7.4" height="16.4" fill="#c9301f"/>
<rect x="592.4" y="857.8" width="7.4" height="16.4" fill="#c9301f"/>
<rect x="622" y="857.8" width="7.4" height="16.4" fill="#c9301f"/>
<rect x="801" y="857.8" width="7.4" height="16.4" fill="#c9301f"/>
<rect x="1004.3" y="857.8" width="7.4" height="16.4" fill="#c9301f"/>
<rect x="1066.5" y="857.8" width="7.4" height="16.4" fill="#c9301f"/>
<rect x="1119.1" y="857.8" width="7.4" height="16.4" fill="#c9301f"/>
<rect x="1395.1" y="857.8" width="7.4" height="16.4" fill="#6a3399"/>
<rect x="478.1" y="892.8" width="7.4" height="16.4" fill="#c9301f"/>
<rect x="650" y="892.8" width="7.4" height="16.4" fill="#c9301f"/>
<rect x="679.6" y="892.8" width="7.4" height="16.4" fill="#c9301f"/>
<rect x="792.1" y="892.8" width="7.4" height="16.4" fill="#c9301f"/>
<rect x="1025.2" y="892.8" width="7.4" height="16.4" fill="#c9301f"/>
<rect x="1068.9" y="892.8" width="7.4" height="16.4" fill="#c9301f"/>
<rect x="1121.3" y="892.8" width="7.4" height="16.4" fill="#c9301f"/>
<rect x="1396.2" y="892.8" width="7.4" height="16.4" fill="#c9301f"/>
<rect x="477.6" y="931.6" width="7.4" height="16.4" fill="#c9301f"/>
<rect x="584" y="931.6" width="7.4" height="16.4" fill="#c9301f"/>
<rect x="672.8" y="931.6" width="7.4" height="16.4" fill="#c9301f"/>
<rect x="702.1" y="931.6" width="7.4" height="16.4" fill="#c9301f"/>
<rect x="827.8" y="931.6" width="7.4" height="16.4" fill="#c9301f"/>
<rect x="995.4" y="931.6" width="7.4" height="16.4" fill="#c9301f"/>
<rect x="1037.6" y="931.6" width="7.4" height="16.4" fill="#c9301f"/>
<rect x="1090.5" y="931.6" width="7.4" height="16.4" fill="#c9301f"/>
<rect x="1396.5" y="931.6" width="7.4" height="16.4" fill="#6a3399"/>
<rect x="468.9" y="968.3" width="7.4" height="16.4" fill="#c9301f"/>
<rect x="573.7" y="968.3" width="7.4" height="16.4" fill="#c9301f"/>
<rect x="642.9" y="968.3" width="7.4" height="16.4" fill="#c9301f"/>
<rect x="673" y="968.3" width="7.4" height="16.4" fill="#c9301f"/>
<rect x="786.9" y="968.3" width="7.4" height="16.4" fill="#c9301f"/>
<rect x="956.1" y="968.3" width="7.4" height="16.4" fill="#c9301f"/>
<rect x="998.4" y="968.3" width="7.4" height="16.4" fill="#c9301f"/>
<rect x="1051" y="968.3" width="7.4" height="16.4" fill="#c9301f"/>
<rect x="1357.1" y="968.3" width="7.4" height="16.4" fill="#6a3399"/>
<rect x="468.9" y="1001.3" width="7.4" height="16.4" fill="#c9301f"/>
<rect x="573.7" y="1001.3" width="7.4" height="16.4" fill="#c9301f"/>
<rect x="642.9" y="1001.3" width="7.4" height="16.4" fill="#c9301f"/>
<rect x="673" y="1001.3" width="7.4" height="16.4" fill="#c9301f"/>
<rect x="786.9" y="1001.3" width="7.4" height="16.4" fill="#c9301f"/>
<rect x="956.1" y="1001.3" width="7.4" height="16.4" fill="#c9301f"/>
<rect x="998.4" y="1001.3" width="7.4" height="16.4" fill="#6a3399"/>
<rect x="1051" y="1001.3" width="7.4" height="16.4" fill="#c9301f"/>
<rect x="1357.1" y="1001.3" width="7.4" height="16.4" fill="#6a3399"/>
<rect x="485.1" y="1032.5" width="7.4" height="16.4" fill="#c9301f"/>
<rect x="513.8" y="1032.5" width="7.4" height="16.4" fill="#c9301f"/>
<rect x="582.3" y="1032.5" width="7.4" height="16.4" fill="#c9301f"/>
<rect x="612.4" y="1032.5" width="7.4" height="16.4" fill="#c9301f"/>
<rect x="725.8" y="1032.5" width="7.4" height="16.4" fill="#6a3399"/>
<rect x="1004.3" y="1032.5" width="7.4" height="16.4" fill="#c9301f"/>
<rect x="1045.9" y="1032.5" width="7.4" height="16.4" fill="#4a97c5"/>
<rect x="1097.8" y="1032.5" width="7.4" height="16.4" fill="#6a3399"/>
<rect x="478.3" y="1064.6" width="7.4" height="16.4" fill="#c9301f"/>
<rect x="522.9" y="1064.6" width="7.4" height="16.4" fill="#6a3399"/>
<rect x="592.7" y="1064.6" width="7.4" height="16.4" fill="#c9301f"/>
<rect x="621.1" y="1064.6" width="7.4" height="16.4" fill="#c9301f"/>
<rect x="676.8" y="1064.6" width="7.4" height="16.4" fill="#c9301f"/>
<rect x="792.4" y="1064.6" width="7.4" height="16.4" fill="#c9301f"/>
<rect x="845.3" y="1064.6" width="7.4" height="16.4" fill="#c9301f"/>
<rect x="1098.1" y="1064.6" width="7.4" height="16.4" fill="#c9301f"/>
<rect x="478.3" y="1097.5" width="7.4" height="16.4" fill="#f57f52"/>
<rect x="522.9" y="1097.5" width="7.4" height="16.4" fill="#f57f52"/>
<rect x="592.2" y="1097.5" width="7.4" height="16.4" fill="#f57f52"/>
<rect x="620.9" y="1097.5" width="7.4" height="16.4" fill="#f57f52"/>
<rect x="676.1" y="1097.5" width="7.4" height="16.4" fill="#f57f52"/>
<rect x="792.2" y="1097.5" width="7.4" height="16.4" fill="#f57f52"/>
<rect x="844.8" y="1097.5" width="7.4" height="16.4" fill="#f57f52"/>
<rect x="1098.1" y="1097.5" width="7.4" height="16.4" fill="#f57f52"/>
<rect x="479" y="1169.6" width="7.4" height="16.4" fill="#c9301f"/>
<rect x="478.5" y="1225" width="7.4" height="16.4" fill="#c9301f"/>
<rect x="518" y="304.7" width="37.7" height="14.6" fill="#0c0a08" stroke="#27284a" stroke-width="1.6"/>
<rect x="523.8" y="893.7" width="62.5" height="14.6" fill="#0c0a08" stroke="#27284a" stroke-width="1.6"/>
<rect x="1163.4" y="1033.4" width="37.7" height="14.6" fill="#0c0a08" stroke="#27284a" stroke-width="1.6"/>
<polyline points="454.5,233 454.5,311" fill="none" stroke="#2f50b4" stroke-width="2.2" stroke-dasharray="2.5 2.5"/>
<polyline points="1077.3,217 1077.3,239 1025.8,274 1102.8,311" fill="none" stroke="#2f50b4" stroke-width="3" stroke-dasharray="3 3"/>
<polyline points="1117,428 1811,527.5 1811,572 1602.6,602.3 1566.5,633.6 1554.5,664.3 1501.3,695.6 1482.8,731.2 1504.4,760.6 1505.4,797.8 1432.2,833.8 1424,863.7 1422.5,939.3 1387,974.9 1386.2,1010.5 1201,1047 1131,1072.4 1131,1121" fill="none" stroke="#2f50b4" stroke-width="3" stroke-dasharray="3 3"/>
<polyline points="506.3,429 506.3,905" fill="none" stroke="#2f50b4" stroke-width="1.6" stroke-dasharray="2 2.2"/>
<polyline points="506.3,905 570.3,937.9 558,973 557.4,1009.5 505.7,1035.3" fill="none" stroke="#2f50b4" stroke-width="3" stroke-dasharray="3 3"/>
<polyline points="506.3,1036 506.3,1124" fill="none" stroke="#2f50b4" stroke-width="1.6" stroke-dasharray="2 2.2"/>
<polyline points="506.3,1179 506.3,1234" fill="none" stroke="#2f50b4" stroke-width="1.6" stroke-dasharray="2 2.2"/>
<polygon points="506,51 525,51 515.5,69.5" fill="#2f50b4"/><line x1="515.5" y1="43" x2="515.5" y2="52" stroke="#2f50b4" stroke-width="2"/>
<polygon points="445,214 464,214 454.5,232.5" fill="#2f50b4"/><line x1="454.5" y1="207" x2="454.5" y2="215" stroke="#2f50b4" stroke-width="2"/>
<polygon points="1067.8,197.5 1086.8,197.5 1077.3,216" fill="#2f50b4"/><line x1="1077.3" y1="191" x2="1077.3" y2="198.5" stroke="#2f50b4" stroke-width="2"/>
<polygon points="496.9,1251.5 515.5,1251.5 506.2,1234.5" fill="#2f50b4"/><line x1="506.2" y1="1250.5" x2="506.2" y2="1259" stroke="#2f50b4" stroke-width="2"/>
<polygon points="496.9,1141.5 515.5,1141.5 506.2,1124.5" fill="#2d4aa0"/><line x1="506.2" y1="1140.5" x2="506.2" y2="1146" stroke="#2d4aa0" stroke-width="2"/>
<polygon points="1121.8,1138 1140.2,1138 1131,1121" fill="#2f50b4"/><line x1="1131" y1="1137" x2="1131" y2="1146" stroke="#2f50b4" stroke-width="2"/>
<polygon points="445.1,321.8 452.1,321.8 448.6,308.5" fill="#000"/>
<polygon points="1084.8,321.8 1091.8,321.8 1088.3,308" fill="#000"/>
<polygon points="1102.8,321.8 1109.8,321.8 1106.3,308" fill="#000"/>
<polygon points="491.5,550.5 498.5,550.5 495,537" fill="#000"/>
<polygon points="1795.8,550.5 1802.8,550.5 1799.3,537" fill="#000"/>
<polygon points="1814.5,550.5 1821.5,550.5 1818,537" fill="#000"/>
<polygon points="477.5,741 484.5,741 481,727.5" fill="#000"/>
<polygon points="490.7,741 497.7,741 494.2,727.5" fill="#000"/>
<polygon points="1441.7,741 1448.7,741 1445.2,727.5" fill="#000"/>
<polygon points="1458,741 1465,741 1461.5,727.5" fill="#000"/>
<path d="M292,145.5 H286 V315.5 H292" fill="none" stroke="#4a9cc6" stroke-width="2.2" stroke-linejoin="round"/>
<line x1="269.6" y1="230.6" x2="286" y2="230.6" stroke="#4a9cc6" stroke-width="2.2"/>
<path d="M324,240 H317.2 V314.7 H324" fill="none" stroke="#4a9cc6" stroke-width="2.2" stroke-linejoin="round"/>
<line x1="301.8" y1="277.5" x2="317.2" y2="277.5" stroke="#4a9cc6" stroke-width="2.2"/>
<path d="M311,545.3 H304.3 V1195 H310.6" fill="none" stroke="#6b36a0" stroke-width="2.2" stroke-linejoin="round"/>
<line x1="288.8" y1="870.3" x2="304.3" y2="870.3" stroke="#6b36a0" stroke-width="2.2"/>
<path d="M341.2,545.3 H334.6 V1104 H341" fill="none" stroke="#6b36a0" stroke-width="2.2" stroke-linejoin="round"/>
<line x1="319.2" y1="824.6" x2="334.6" y2="824.6" stroke="#6b36a0" stroke-width="2.2"/>
<text x="-1.5" y="20.2" font-size="35.5" font-weight="bold" fill="#0d0b09">a</text>
<text x="258.8" y="80.5" font-size="23.7" font-weight="bold" font-style="italic" fill="#0d0b09">O. glaberrima</text>
<text x="133.8" y="234.6" font-size="23.7" font-weight="bold" font-style="italic" fill="#0d0b09">O. barthii</text>
<text x="133.5" y="436.8" font-size="24.1" font-weight="bold" font-style="italic" fill="#0d0b09">Oryza_meridionalis_v1.3</text>
<text x="134.6" y="877" font-size="23.7" font-weight="bold" font-style="italic" fill="#0d0b09">O. rufipogon</text>
<text x="392.8" y="1239.6" font-size="23.7" font-weight="bold" font-style="italic" text-anchor="end" fill="#0d0b09">O. sativa</text>
<text x="528" y="58.6" font-size="23.45" font-weight="bold" font-style="italic" fill="#0d0b09">PROG7</text>
<text x="467.8" y="1279.5" font-size="24.0" font-weight="bold" font-style="italic" fill="#0d0b09">PROG1</text>
<text x="427.6" y="91.4" font-size="23" font-weight="bold" fill="#0d0b09">Chr7</text>
<text x="427.6" y="168.7" font-size="23" font-weight="bold" fill="#0d0b09">Chr7</text>
<text x="423.2" y="259" font-size="23" font-weight="bold" fill="#0d0b09">Chr7</text>
<text x="423" y="563" font-size="23" font-weight="bold" fill="#0d0b09">Chr7</text>
<text x="425" y="1091" font-size="23" font-weight="bold" fill="#0d0b09">Chr7</text>
<text x="415.8" y="1257.7" font-size="23" font-weight="bold" fill="#0d0b09">Chr7</text>
<text x="326.5" y="154.8" font-size="23.4" font-weight="bold" fill="#0d0b09">NH281</text>
<text x="326.5" y="249.7" font-size="23.4" font-weight="bold" fill="#0d0b09">NH280</text>
<text x="326.5" y="285" font-size="23.4" font-weight="bold" fill="#0d0b09">NH283</text>
<text x="326.5" y="319.6" font-size="23.4" font-weight="bold" fill="#0d0b09">NH278</text>
<text x="296.6" y="157" font-size="23.7" font-weight="bold" fill="#0d0b09">II</text>
<text x="294.5" y="285" font-size="23.7" font-weight="bold" fill="#0d0b09">I</text>
<text x="344.2" y="550" font-size="23.3" font-weight="bold" fill="#0d0b09">CW10</text>
<text x="344.2" y="583.3" font-size="23.3" font-weight="bold" fill="#0d0b09">CW07</text>
<text x="344.2" y="616.6" font-size="23.3" font-weight="bold" fill="#0d0b09">CW02</text>
<text x="344.2" y="649.9" font-size="23.3" font-weight="bold" fill="#0d0b09">CW31</text>
<text x="344.2" y="683.2" font-size="23.3" font-weight="bold" fill="#0d0b09">CW17</text>
<text x="344.2" y="716.5" font-size="23.3" font-weight="bold" fill="#0d0b09">CW34</text>
<text x="344.2" y="749.8" font-size="23.3" font-weight="bold" fill="#0d0b09">CW16</text>
<text x="344.2" y="783.1" font-size="23.3" font-weight="bold" fill="#0d0b09">CW13</text>
<text x="344.2" y="816.4" font-size="23.3" font-weight="bold" fill="#0d0b09">CW12</text>
<text x="344.2" y="849.7" font-size="23.3" font-weight="bold" fill="#0d0b09">CW19</text>
<text x="344.2" y="883" font-size="23.3" font-weight="bold" fill="#0d0b09">CW23</text>
<text x="344.2" y="916.3" font-size="23.3" font-weight="bold" fill="#0d0b09">CW33</text>
<text x="344.2" y="949.6" font-size="23.3" font-weight="bold" fill="#0d0b09">CW36</text>
<text x="344.2" y="982.9" font-size="23.3" font-weight="bold" fill="#0d0b09">CW11</text>
<text x="344.2" y="1016.2" font-size="23.3" font-weight="bold" fill="#0d0b09">CW09</text>
<text x="344.2" y="1049.5" font-size="23.3" font-weight="bold" fill="#0d0b09">CW03</text>
<text x="344.2" y="1082.8" font-size="23.3" font-weight="bold" fill="#0d0b09">CW05</text>
<text x="344.6" y="1114.6" font-size="23.3" font-weight="bold" fill="#f57f52">DXCWR</text>
<text x="345.6" y="1188.8" font-size="21.8" font-weight="bold" fill="#0d0b09" textLength="58.5" lengthAdjust="spacingAndGlyphs">CW06</text>
<text x="312.8" y="832.9" font-size="22.5" font-weight="bold" fill="#0d0b09">I</text>
<text x="314" y="1189.5" font-size="22" font-weight="bold" fill="#0d0b09">II</text>
<text x="434.5" y="342.5" font-size="20" font-weight="bold" fill="#0d0b09">P1</text>
<text x="1070.3" y="341.6" font-size="23.2" font-weight="bold" fill="#0d0b09">P3P2</text>
<text x="478" y="568.4" font-size="22.5" font-weight="bold" fill="#0d0b09">P4</text>
<text x="1781.5" y="568.7" font-size="23.5" font-weight="bold" fill="#0d0b09">P6</text>
<text x="1812.8" y="568.7" font-size="23.5" font-weight="bold" fill="#0d0b09">P5</text>
<text x="457.2" y="761" font-size="23.5" font-weight="bold" fill="#0d0b09">P7</text>
<text x="489.5" y="761" font-size="23.5" font-weight="bold" fill="#0d0b09">P8</text>
<text x="1424" y="761" font-size="23.5" font-weight="bold" fill="#0d0b09">P9P10</text>
<text x="487" y="342.5" font-size="23.4" font-weight="bold" font-style="italic" fill="#c9301f">ObZNF1</text>
<text x="597" y="342" font-size="23.2" font-weight="bold" font-style="italic" text-anchor="middle" fill="#c9301f">2</text>
<text x="654.3" y="342" font-size="23.2" font-weight="bold" font-style="italic" text-anchor="middle" fill="#c9301f">3</text>
<text x="691" y="342" font-size="23.2" font-weight="bold" font-style="italic" text-anchor="middle" fill="#c9301f">4</text>
<text x="805.3" y="342" font-size="23.2" font-weight="bold" font-style="italic" text-anchor="middle" fill="#c9301f">5</text>
<text x="906.6" y="342" font-size="23.2" font-weight="bold" font-style="italic" text-anchor="middle" fill="#c9301f">6</text>
<text x="975.3" y="342" font-size="23.2" font-weight="bold" font-style="italic" text-anchor="middle" fill="#c9301f">7</text>
<text x="1020.3" y="342" font-size="23.2" font-weight="bold" font-style="italic" text-anchor="middle" fill="#c9301f">8</text>
<text x="1061.6" y="342" font-size="23.2" font-weight="bold" font-style="italic" text-anchor="middle" fill="#c9301f">9</text>
<text x="1132.5" y="342" font-size="23.2" font-weight="bold" font-style="italic" fill="#c9301f">10</text>
<text x="549.5" y="100" font-size="23" font-weight="bold" font-style="italic" text-anchor="middle" fill="#c9301f">10</text>
<text x="428.5" y="528.8" font-size="21.8" font-weight="bold" font-style="italic" fill="#c9301f" textLength="72.8" lengthAdjust="spacingAndGlyphs">OrZNF1</text>
<text x="526" y="529.6" font-size="21.2" font-weight="bold" font-style="italic" text-anchor="middle" fill="#c9301f">2</text>
<text x="595.8" y="529.6" font-size="21.2" font-weight="bold" font-style="italic" text-anchor="middle" fill="#c9301f">3</text>
<text x="625.7" y="529.6" font-size="21.2" font-weight="bold" font-style="italic" text-anchor="middle" fill="#c9301f">4</text>
<text x="810" y="529.6" font-size="21.2" font-weight="bold" font-style="italic" text-anchor="middle" fill="#c9301f">5</text>
<text x="942" y="529.6" font-size="21.2" font-weight="bold" font-style="italic" text-anchor="middle" fill="#c9301f">6</text>
<text x="1110.3" y="529.6" font-size="21.2" font-weight="bold" font-style="italic" text-anchor="middle" fill="#c9301f">7</text>
<text x="1319" y="529.6" font-size="21.2" font-weight="bold" font-style="italic" text-anchor="middle" fill="#c9301f">8</text>
<text x="1782" y="529.6" font-size="21.2" font-weight="bold" font-style="italic" text-anchor="middle" fill="#c9301f">9</text>
<text x="425.6" y="1135" font-size="23" font-weight="bold" font-style="italic" fill="#f57f52" textLength="83.4" lengthAdjust="spacingAndGlyphs">OrZNF1</text>
<text x="526.6" y="1135.3" font-size="23" font-weight="bold" font-style="italic" text-anchor="middle" fill="#f57f52">2</text>
<text x="595.9" y="1135.3" font-size="23" font-weight="bold" font-style="italic" text-anchor="middle" fill="#f57f52">3</text>
<text x="624.6" y="1135.3" font-size="23" font-weight="bold" font-style="italic" text-anchor="middle" fill="#f57f52">4</text>
<text x="679.8" y="1135.3" font-size="23" font-weight="bold" font-style="italic" text-anchor="middle" fill="#f57f52">5</text>
<text x="795.9" y="1135.3" font-size="23" font-weight="bold" font-style="italic" text-anchor="middle" fill="#f57f52">6</text>
<text x="848.5" y="1135.3" font-size="23" font-weight="bold" font-style="italic" text-anchor="middle" fill="#f57f52">7</text>
<text x="1101.8" y="1135.3" font-size="23" font-weight="bold" font-style="italic" text-anchor="middle" fill="#f57f52">8</text>
<text x="482.2" y="1218.5" font-size="23" font-weight="bold" font-style="italic" text-anchor="middle" fill="#c9301f">1</text>
<text x="847.5" y="75" font-size="23.2" fill="#0d0b09">10 kb</text>
<line x1="851.4" y1="93" x2="907.3" y2="93" stroke="#000" stroke-width="2.6" stroke-linecap="round"/>
<rect x="1364.4" y="72.9" width="20.4" height="17.8" fill="#c9301f"/>
<text x="1399" y="91.3" font-size="28" fill="#0d0b09">Zinc finger genes</text>
<rect x="1364.4" y="124.5" width="20.4" height="17.8" fill="#6a3399"/>
<text x="1399" y="142.4" font-size="28" fill="#0d0b09">EAR motif mutation zinc finger genes</text>
<rect x="1364.4" y="175.9" width="20.4" height="17.8" fill="#4a97c5"/>
<text x="1399" y="193.4" font-size="28" fill="#0d0b09">C2H2 domain mutation zinc finger genes</text>
<rect x="1365" y="244.6" width="19.2" height="16.4" fill="#0c0a08" stroke="#2a2a55" stroke-width="1.4"/>
<text x="1399" y="243.5" font-size="28" fill="#0d0b09">Transposable element insertion mutation zinc</text>
<text x="1399" y="277" font-size="28" fill="#0d0b09">finger genes</text>
<defs>
<clipPath id="cp0"><rect x="68.5" y="1363.2" width="166.1" height="199.5"/></clipPath>
<clipPath id="cp1"><rect x="239.2" y="1363.2" width="166.2" height="199.5"/></clipPath>
<clipPath id="cp2"><rect x="410.5" y="1363.2" width="166.1" height="199.5"/></clipPath>
<clipPath id="cp3"><rect x="581.7" y="1363.2" width="166.1" height="199.5"/></clipPath>
<clipPath id="cp4"><rect x="753.9" y="1363.2" width="167" height="199.5"/></clipPath>
<clipPath id="cp5"><rect x="68.9" y="1601.4" width="165.9" height="199.2"/></clipPath>
<clipPath id="cp6"><rect x="239.3" y="1601.4" width="165.9" height="199.2"/></clipPath>
<clipPath id="cp7"><rect x="410.5" y="1601.4" width="166.2" height="199.2"/></clipPath>
<clipPath id="cp8"><rect x="581.5" y="1601.6" width="166.5" height="199"/></clipPath>
<clipPath id="cp9"><rect x="753.9" y="1600.3" width="167" height="200.3"/></clipPath>
</defs>
<rect x="68.5" y="1363.2" width="166.1" height="199.5" fill="#0e0e0b"/>
<g clip-path="url(#cp0)">
<path d="M126.5,1544.5 L129.5,1562.7 L175.1,1562.7 L178.2,1544.5 Z" fill="#aa3224"/>
<ellipse cx="152.3" cy="1542.5" rx="29.3" ry="7.5" fill="#bb3b2b"/>
<ellipse cx="152.3" cy="1541.1" rx="25.8" ry="5" fill="#9d3a30"/>
<ellipse cx="152.3" cy="1542.7" rx="14.7" ry="3" fill="#3f332b"/>
<path d="M151,1544 L150.8,1528.5 L150.3,1514.3 L149.5,1501.4 L148.5,1489.4 L147.2,1478.4 L145.7,1468.1 L143.9,1458.3 L141.8,1449.1 L139.2,1440.1 L136.4,1431.4 L133.4,1422.7 L130.3,1413.8 L127,1404.6 L123.5,1394.9 L123.5,1394.9 L126.1,1404.8 L128.7,1414.3 L131.2,1423.4 L133.5,1432.3 L135.6,1441.1 L137.6,1450.1 L139.7,1459.2 L141.7,1468.8 L143.5,1478.9 L145.1,1489.8 L146.4,1501.6 L147.5,1514.5 L148.3,1528.6 L148.8,1544Z" fill="#5a8a3c"/>
<path d="M153.9,1544 L154.2,1528.8 L154.5,1514.9 L154.8,1502.1 L155.2,1490.4 L155.6,1479.6 L156,1469.5 L156.5,1460 L156.9,1451 L156.9,1442.2 L157.1,1433.5 L157.2,1424.8 L157.3,1415.9 L157.5,1406.7 L157.6,1397 L157.6,1397 L156.6,1406.6 L155.7,1415.8 L154.9,1424.6 L154.1,1433.3 L153.4,1442 L152.7,1450.8 L152.4,1459.9 L152.2,1469.4 L152,1479.5 L151.9,1490.4 L151.8,1502.1 L151.8,1514.8 L151.8,1528.7 L151.8,1544Z" fill="#6e9d50"/>
<path d="M153.1,1544 L153.4,1528.3 L154,1514 L154.7,1501 L155.6,1489 L156.6,1477.9 L157.9,1467.6 L159.2,1457.8 L160.6,1448.5 L161.7,1439.4 L162.9,1430.5 L164.2,1421.5 L165.6,1412.3 L167.1,1402.7 L168.5,1392.7 L168.5,1392.7 L166.1,1402.5 L163.8,1411.9 L161.6,1421 L159.6,1429.9 L157.7,1438.8 L155.9,1447.8 L154.5,1457.2 L153.5,1467.1 L152.6,1477.5 L151.8,1488.7 L151.3,1500.8 L150.8,1513.9 L150.6,1528.3 L150.6,1544Z" fill="#5f8e44"/>
<path d="M148.8,1544 L148.9,1528.7 L149.3,1514.7 L149.9,1501.9 L150.8,1490.2 L151.8,1479.3 L153,1469.2 L154.4,1459.7 L155.8,1450.6 L157,1441.8 L158.2,1433 L159.5,1424.2 L160.9,1415.2 L162.3,1405.8 L163.6,1396 L163.6,1396 L161.2,1405.6 L159,1414.8 L156.8,1423.6 L154.7,1432.3 L152.7,1441 L150.9,1449.9 L149.5,1459.1 L148.4,1468.7 L147.5,1478.9 L146.8,1489.9 L146.3,1501.7 L146,1514.6 L146,1528.6 L146.2,1544Z" fill="#527f38"/>
<path d="M148.6,1544 L148.9,1530.2 L149.7,1517.6 L150.9,1506.1 L152.6,1495.5 L154.6,1485.8 L157,1476.8 L159.7,1468.3 L162.6,1460.1 L165.5,1452 L168.5,1444.1 L171.8,1436 L175.2,1427.8 L178.7,1419.3 L182.3,1410.3 L182.3,1410.3 L177.8,1418.8 L173.5,1427 L169.3,1434.9 L165.4,1442.7 L161.6,1450.5 L158.1,1458.4 L155.1,1466.8 L152.7,1475.6 L150.5,1484.9 L148.8,1494.9 L147.4,1505.6 L146.5,1517.3 L146,1530.1 L146.1,1544Z" fill="#77a458"/>
<path d="M148.7,1544 L148.3,1531 L147.7,1519.2 L146.8,1508.4 L145.7,1498.5 L144.3,1489.2 L142.7,1480.6 L140.8,1472.5 L138.6,1464.8 L135.9,1457.4 L133.1,1450.1 L130,1442.9 L126.7,1435.5 L123.3,1428 L119.6,1420 L119.6,1420 L122.4,1428.3 L125.2,1436.2 L127.8,1443.7 L130.3,1451.1 L132.5,1458.5 L134.6,1466 L136.8,1473.5 L138.9,1481.5 L140.7,1489.9 L142.4,1498.9 L143.8,1508.8 L145,1519.5 L145.9,1531.2 L146.5,1544Z" fill="#64934a"/>
<path d="M152.3,1543.9 L152.1,1532.7 L151.5,1522.3 L150.5,1512.8 L149.2,1504 L147.5,1495.9 L145.5,1488.3 L143.1,1481.1 L140.4,1474.3 L137,1467.9 L133.4,1461.7 L129.6,1455.5 L125.6,1449.2 L121.4,1442.8 L116.9,1436 L116.9,1436 L120.3,1443.4 L123.7,1450.3 L126.9,1457 L129.9,1463.5 L132.7,1470 L135.2,1476.5 L137.9,1483.1 L140.5,1489.9 L142.8,1497.1 L144.8,1504.9 L146.5,1513.4 L147.8,1522.7 L148.8,1532.8 L149.4,1544.1Z" fill="#4c7834"/>
<path d="M149.3,1544 L149.2,1532.3 L149.1,1521.6 L149,1511.8 L149,1502.9 L148.9,1494.6 L148.8,1486.9 L148.7,1479.6 L148.4,1472.6 L147.8,1465.9 L147.1,1459.3 L146.4,1452.7 L145.7,1446 L144.8,1439 L143.8,1431.7 L143.8,1431.7 L143.8,1439.1 L143.9,1446.1 L144,1452.9 L144,1459.5 L144,1466.1 L144,1472.8 L144.3,1479.7 L144.7,1487 L145,1494.7 L145.4,1503 L145.8,1511.9 L146.2,1521.7 L146.6,1532.3 L147,1544Z" fill="#5a8a3c"/>
<path d="M154.2,1544 L154.3,1532.9 L154.1,1522.7 L153.8,1513.4 L153.3,1504.9 L152.6,1496.9 L151.7,1489.5 L150.6,1482.5 L149.3,1475.9 L147.4,1469.6 L145.3,1463.4 L143.2,1457.2 L141,1450.9 L138.6,1444.5 L136.1,1437.7 L136.1,1437.7 L137.4,1444.8 L138.8,1451.6 L140.1,1458.1 L141.3,1464.4 L142.5,1470.7 L143.6,1477.1 L144.9,1483.6 L146.3,1490.4 L147.6,1497.6 L148.7,1505.3 L149.6,1513.7 L150.3,1522.9 L150.8,1533 L151.1,1544Z" fill="#6e9d50"/>
<path d="M153.4,1543.9 L153.1,1534.6 L152,1526.1 L150.2,1518.2 L147.9,1510.9 L144.9,1504.2 L141.4,1497.9 L137.4,1491.9 L132.8,1486.4 L127.6,1481.3 L122,1476.3 L116.1,1471.4 L109.9,1466.4 L103.4,1461.2 L96.6,1455.9 L96.6,1455.9 L102.7,1462 L108.6,1467.8 L114.3,1473.3 L119.7,1478.8 L124.6,1484.1 L129.2,1489.5 L133.6,1494.8 L137.7,1500.3 L141.3,1506.1 L144.4,1512.4 L146.9,1519.2 L148.9,1526.7 L150.2,1534.9 L150.9,1544.1Z" fill="#5f8e44"/>
<path d="M156.9,1544.1 L157.8,1534.1 L159.4,1525 L161.5,1516.8 L164.2,1509.2 L167.4,1502.3 L171,1495.9 L175.1,1489.9 L179.6,1484 L184.2,1478.2 L189.3,1472.3 L194.7,1466.5 L200.5,1460.5 L206.7,1454.2 L213,1447.6 L213,1447.6 L206,1453.6 L199.4,1459.3 L193.1,1464.8 L187.2,1470.3 L181.6,1475.8 L176.4,1481.4 L171.8,1487.5 L167.7,1493.9 L164.2,1500.8 L161.2,1508.1 L158.7,1516 L156.8,1524.5 L155.4,1533.8 L154.7,1543.9Z" fill="#527f38"/>
<path d="M155.9,1544.1 L156.6,1534.9 L157.7,1526.7 L159,1519.2 L160.7,1512.3 L162.7,1506 L164.9,1500.1 L167.4,1494.6 L170.1,1489.3 L172.7,1484 L175.5,1478.8 L178.6,1473.5 L181.9,1468 L185.3,1462.4 L188.9,1456.4 L188.9,1456.4 L184.5,1461.8 L180.4,1467 L176.5,1472.1 L172.8,1477 L169.3,1482.1 L166,1487.2 L163.3,1492.7 L160.9,1498.6 L158.9,1504.8 L157.2,1511.4 L155.8,1518.5 L154.7,1526.3 L153.9,1534.7 L153.5,1543.9Z" fill="#77a458"/>
<path d="M149.4,1544 L149.7,1532.1 L150.6,1521.2 L151.8,1511.3 L153.5,1502.3 L155.6,1493.9 L158.1,1486.2 L160.9,1478.9 L163.8,1471.9 L166.8,1465 L170,1458.1 L173.4,1451.2 L177,1444.1 L180.7,1436.8 L184.5,1429 L184.5,1429 L179.9,1436.3 L175.5,1443.3 L171.3,1450 L167.3,1456.7 L163.5,1463.3 L159.9,1470.2 L156.9,1477.4 L154.3,1485 L152.1,1493 L150.2,1501.6 L148.8,1510.9 L147.8,1521 L147.2,1532 L147.2,1544Z" fill="#64934a"/>
<path d="M151.2,1544.1 L151.9,1538.3 L153.1,1533.2 L154.9,1528.6 L157.2,1524.5 L160.1,1520.7 L163.4,1517.2 L167.2,1513.9 L171.3,1510.6 L175.6,1507 L180.3,1503.5 L185.3,1499.9 L190.7,1496.2 L196.3,1492.4 L202,1488.3 L202,1488.3 L195.6,1491.4 L189.6,1494.3 L183.7,1497.2 L178.2,1500.1 L172.9,1503.1 L167.9,1506.1 L163.5,1509.7 L159.7,1513.6 L156.3,1517.7 L153.4,1522.2 L151.2,1527 L149.6,1532.2 L148.6,1537.9 L148.3,1543.9Z" fill="#4c7834"/>
<path d="M150,1544 L150.2,1539.6 L150.7,1535.8 L151.6,1532.3 L152.6,1529.2 L153.9,1526.3 L155.4,1523.7 L157.1,1521.3 L158.9,1518.9 L160.5,1516.4 L162.3,1513.8 L164.3,1511.1 L166.4,1508.4 L168.6,1505.6 L170.7,1502.6 L170.7,1502.6 L167.8,1504.8 L165,1507 L162.3,1509.1 L159.7,1511.3 L157.2,1513.5 L154.8,1515.8 L152.9,1518.5 L151.3,1521.4 L149.9,1524.5 L148.8,1527.9 L147.9,1531.4 L147.4,1535.3 L147.2,1539.5 L147.3,1544Z" fill="#5a8a3c"/>
<path d="M154,1544 L154.5,1531.3 L155.4,1519.7 L156.5,1509.1 L157.9,1499.4 L159.6,1490.5 L161.5,1482.1 L163.7,1474.3 L166,1466.8 L168.1,1459.4 L170.4,1452.1 L172.9,1444.8 L175.6,1437.3 L178.4,1429.4 L181.2,1421.2 L181.2,1421.2 L177.4,1429 L173.9,1436.5 L170.5,1443.8 L167.3,1450.9 L164.3,1458.1 L161.5,1465.4 L159.2,1473.1 L157.3,1481.1 L155.6,1489.7 L154.2,1498.9 L153.1,1508.7 L152.3,1519.5 L151.7,1531.2 L151.5,1544Z" fill="#6e9d50"/>
<path d="M153,1544 L153.2,1531.1 L153.3,1519.3 L153.4,1508.6 L153.4,1498.7 L153.5,1489.5 L153.5,1481 L153.5,1473 L153.3,1465.3 L152.8,1457.9 L152.3,1450.6 L151.8,1443.3 L151.3,1435.8 L150.7,1428.1 L150,1420 L150,1420 L149.8,1428.1 L149.6,1435.9 L149.5,1443.3 L149.4,1450.7 L149.3,1458 L149.2,1465.4 L149.3,1473.1 L149.6,1481.1 L149.9,1489.6 L150.1,1498.7 L150.4,1508.6 L150.5,1519.3 L150.7,1531.1 L150.8,1544Z" fill="#5f8e44"/>
<path d="M148.7,1544 L148.4,1529 L148,1515.4 L147.5,1502.8 L146.8,1491.3 L146,1480.7 L145.1,1470.7 L144,1461.4 L142.7,1452.4 L140.9,1443.8 L139,1435.4 L137,1426.9 L134.8,1418.3 L132.5,1409.4 L130,1400 L130,1400 L131.6,1409.6 L133.1,1418.6 L134.6,1427.4 L136,1435.9 L137.2,1444.5 L138.3,1453.1 L139.7,1462 L141,1471.2 L142.2,1481.1 L143.3,1491.6 L144.3,1503 L145.1,1515.5 L145.8,1529.1 L146.4,1544Z" fill="#527f38"/>
<path d="M150.7,1544 L150.8,1532.9 L151.1,1522.8 L151.6,1513.6 L152.2,1505.1 L153,1497.3 L154,1490 L155.1,1483.2 L156.2,1476.6 L157.2,1470.2 L158.3,1463.9 L159.4,1457.6 L160.6,1451.2 L161.9,1444.5 L163,1437.4 L163,1437.4 L161.2,1444.3 L159.4,1450.9 L157.7,1457.2 L156.1,1463.5 L154.6,1469.7 L153.1,1476.1 L152,1482.7 L151.1,1489.6 L150.3,1497 L149.7,1504.9 L149.3,1513.4 L149,1522.7 L148.9,1532.9 L149,1544Z" fill="#5a8a3c" fill-opacity="0.85"/>
<path d="M155,1544 L155.2,1532.2 L155.3,1521.4 L155.3,1511.6 L155.2,1502.5 L155,1494.2 L154.7,1486.4 L154.4,1479 L153.9,1472 L153.1,1465.2 L152.2,1458.6 L151.3,1451.9 L150.4,1445.2 L149.5,1438.1 L148.5,1430.8 L148.5,1430.8 L148.8,1438.2 L149.1,1445.3 L149.5,1452.1 L149.9,1458.8 L150.3,1465.5 L150.6,1472.3 L151.1,1479.2 L151.7,1486.5 L152.2,1494.3 L152.6,1502.6 L152.9,1511.6 L153.2,1521.5 L153.3,1532.2 L153.3,1544Z" fill="#77a458" fill-opacity="0.85"/>
<path d="M152.6,1544 L152.7,1533.7 L152.5,1524.2 L152,1515.6 L151.4,1507.6 L150.6,1500.3 L149.7,1493.4 L148.6,1486.9 L147.2,1480.8 L145.5,1474.9 L143.6,1469.1 L141.6,1463.4 L139.6,1457.5 L137.4,1451.5 L135.1,1445.1 L135.1,1445.1 L136.7,1451.7 L138.3,1457.9 L139.8,1463.9 L141.2,1469.8 L142.6,1475.6 L143.8,1481.6 L145.2,1487.6 L146.5,1493.9 L147.7,1500.7 L148.7,1507.9 L149.5,1515.8 L150.2,1524.3 L150.6,1533.7 L150.8,1544Z" fill="#6e9d50" fill-opacity="0.85"/>
<path d="M156.5,1544 L156.9,1532.2 L157.4,1521.4 L157.9,1511.5 L158.4,1502.4 L159.1,1494 L159.8,1486.2 L160.6,1478.9 L161.3,1471.9 L162,1465.1 L162.7,1458.4 L163.5,1451.6 L164.3,1444.8 L165.2,1437.6 L166.2,1430.1 L166.2,1430.1 L164.7,1437.5 L163.3,1444.6 L162,1451.4 L160.8,1458.1 L159.7,1464.8 L158.7,1471.6 L158,1478.6 L157.4,1486 L156.8,1493.9 L156.4,1502.3 L156,1511.4 L155.6,1521.3 L155.4,1532.1 L155.1,1544Z" fill="#64934a" fill-opacity="0.85"/>
<path d="M149.2,1544 L149.1,1534.6 L149,1526.1 L149,1518.3 L149,1511.2 L149,1504.6 L149,1498.4 L149,1492.7 L148.9,1487.1 L148.5,1481.8 L148.2,1476.6 L147.8,1471.3 L147.3,1466 L146.9,1460.5 L146.3,1454.7 L146.3,1454.7 L146.2,1460.5 L146.1,1466 L146.1,1471.4 L146,1476.6 L145.9,1481.9 L145.8,1487.2 L145.9,1492.7 L146.1,1498.5 L146.3,1504.6 L146.6,1511.2 L146.8,1518.4 L147,1526.2 L147.3,1534.7 L147.6,1544Z" fill="#5f8e44" fill-opacity="0.85"/>
<path d="M154.7,1544 L154.7,1534.1 L154.3,1525.1 L153.4,1516.9 L152.1,1509.3 L150.5,1502.2 L148.5,1495.6 L146.2,1489.4 L143.5,1483.6 L140.4,1478 L137,1472.6 L133.5,1467.1 L129.8,1461.6 L126,1456 L122,1450 L122,1450 L125.4,1456.3 L128.8,1462.3 L132,1468.1 L135.1,1473.7 L138,1479.3 L140.7,1484.9 L143.3,1490.7 L145.7,1496.6 L147.9,1503 L149.7,1509.8 L151.2,1517.2 L152.2,1525.3 L152.9,1534.2 L153.1,1544Z" fill="#4c7834" fill-opacity="0.85"/>
<path d="M154.1,1544 L154.4,1532.3 L155.1,1521.7 L155.9,1511.9 L157,1503 L158.3,1494.8 L159.8,1487.1 L161.5,1479.9 L163.3,1473 L165,1466.3 L166.9,1459.6 L168.9,1452.9 L171,1446.1 L173.3,1439 L175.5,1431.5 L175.5,1431.5 L172.6,1438.7 L169.9,1445.6 L167.2,1452.3 L164.7,1458.9 L162.4,1465.5 L160.2,1472.2 L158.4,1479.2 L156.9,1486.5 L155.6,1494.3 L154.5,1502.7 L153.6,1511.7 L153,1521.5 L152.6,1532.3 L152.4,1544Z" fill="#527f38" fill-opacity="0.85"/>
<path d="M155.5,1544 L155.8,1533.1 L156.1,1523.1 L156.3,1513.9 L156.6,1505.5 L156.8,1497.8 L157,1490.6 L157.2,1483.8 L157.3,1477.3 L157.2,1471 L157.1,1464.9 L157,1458.7 L156.8,1452.4 L156.8,1445.8 L156.6,1438.9 L156.6,1438.9 L156,1445.8 L155.4,1452.3 L155,1458.6 L154.5,1464.8 L154.1,1471 L153.8,1477.2 L153.7,1483.7 L153.7,1490.5 L153.7,1497.8 L153.7,1505.5 L153.7,1513.9 L153.7,1523 L153.7,1533 L153.6,1544Z" fill="#5a8a3c" fill-opacity="0.85"/>
<path d="M148.4,1544 L148.3,1534.1 L148.3,1525.2 L148.4,1517 L148.6,1509.5 L148.8,1502.5 L149.1,1496.1 L149.5,1490 L149.8,1484.2 L149.8,1478.6 L149.9,1473 L149.9,1467.5 L150,1461.8 L150,1456 L149.8,1449.8 L149.8,1449.8 L149.2,1455.9 L148.7,1461.8 L148.1,1467.4 L147.5,1472.9 L147,1478.4 L146.5,1484 L146.2,1489.9 L146.1,1496 L146,1502.5 L146,1509.4 L146,1517 L146.2,1525.2 L146.4,1534.2 L146.7,1544Z" fill="#77a458" fill-opacity="0.85"/>
<path d="M155.1,1544 L155.4,1535.9 L155.8,1528.6 L156.1,1521.9 L156.5,1515.7 L157,1510 L157.5,1504.8 L158,1499.8 L158.5,1495.1 L158.8,1490.5 L159.1,1486 L159.5,1481.4 L160,1476.8 L160.5,1472 L160.9,1467 L160.9,1467 L159.8,1471.9 L158.9,1476.7 L158,1481.2 L157.2,1485.7 L156.4,1490.2 L155.7,1494.8 L155.2,1499.6 L154.8,1504.6 L154.6,1509.9 L154.3,1515.6 L154.1,1521.8 L153.9,1528.5 L153.8,1535.9 L153.7,1544Z" fill="#6e9d50" fill-opacity="0.85"/>
<path d="M124.8,1542.5 A27.5 5.8 0 0 0 179.9,1542.5" fill="none" stroke="#bb3b2b" stroke-width="3.4"/>
<path d="M124.5,1545 A27.8 6.5 0 0 0 180.2,1545" fill="none" stroke="#d4604c" stroke-width="1.3" stroke-opacity="0.75"/>
<rect x="157" y="1519" width="3" height="6" fill="#e890c8"/>
</g>
<rect x="220.2" y="1532.8" width="4.3" height="27.5" fill="#fff"/>
<rect x="239.2" y="1363.2" width="166.2" height="199.5" fill="#0e0e0b"/>
<g clip-path="url(#cp1)">
<path d="M298.1,1548.8 L300.3,1562.7 L348.5,1562.7 L349.1,1548.8 Z" fill="#aa3224"/>
<ellipse cx="323.6" cy="1546.8" rx="29" ry="7.5" fill="#bb3b2b"/>
<ellipse cx="323.6" cy="1545.4" rx="25.5" ry="5" fill="#9d3a30"/>
<ellipse cx="323.6" cy="1547" rx="14.5" ry="3" fill="#3f332b"/>
<path d="M296.4,1546.8 A27.2 5.8 0 0 0 350.8,1546.8" fill="none" stroke="#bb3b2b" stroke-width="3.4"/>
<path d="M296.1,1549.3 A27.5 6.5 0 0 0 351.1,1549.3" fill="none" stroke="#d4604c" stroke-width="1.3" stroke-opacity="0.75"/>
<path d="M328.2,1543.3 L327.2,1535.7 L325.8,1528.4 L323.9,1521.3 L321.8,1514.7 L319.3,1508.5 L316.6,1502.8 L313.6,1497.8 L310.3,1493.6 L306.5,1490.4 L302.7,1488.3 L298.7,1487.4 L294.9,1487.7 L291.3,1489.4 L288,1492.4 L288,1492.4 L291.7,1490.1 L295.2,1489.2 L298.4,1489.4 L301.5,1490.7 L304.6,1492.9 L307.5,1496.1 L310.6,1499.9 L313.6,1504.5 L316.4,1509.8 L319,1515.7 L321.4,1522.1 L323.4,1529 L325,1536.1 L326.3,1543.5Z" fill="#64934a"/>
<path d="M323,1543.4 L323.4,1536.1 L323.8,1528.7 L324.3,1521.5 L324.8,1514.6 L325.5,1508.1 L326.1,1502.1 L326.9,1496.8 L327.5,1492.3 L327.8,1488.7 L328.2,1486.2 L328.4,1485 L327.7,1484.7 L328.4,1485.6 L329.3,1488.3 L329.3,1488.3 L329.2,1485.4 L328.7,1483.7 L326.8,1483.7 L325.7,1485.4 L324.7,1488.1 L323.8,1491.8 L323.2,1496.4 L322.7,1501.8 L322.3,1507.8 L321.9,1514.4 L321.6,1521.4 L321.3,1528.6 L321.2,1536 L321.1,1543.4Z" fill="#4c7834"/>
<path d="M325.5,1543.7 L327.4,1538.2 L329.8,1532.8 L332.6,1527.7 L335.8,1522.9 L339.4,1518.5 L343.4,1514.5 L347.6,1511.1 L352,1508.2 L356.5,1505.6 L361.2,1503.8 L366.3,1502.7 L371.5,1502.4 L377.1,1503.1 L382.8,1504.7 L382.8,1504.7 L377.3,1502.2 L371.7,1500.9 L366.1,1500.5 L360.6,1501.1 L355.2,1502.6 L350,1504.9 L345.3,1508.1 L340.9,1512 L336.9,1516.4 L333.3,1521.2 L330.2,1526.3 L327.5,1531.8 L325.3,1537.4 L323.6,1543.1Z" fill="#5a8a3c"/>
<path d="M321.6,1543.7 L324.1,1537.9 L327.3,1532.7 L331.1,1528.1 L335.6,1524.1 L340.6,1520.7 L346.1,1518 L352.1,1515.9 L358.4,1514.4 L365,1513.5 L371.9,1513.2 L379.1,1513.7 L386.5,1515.1 L394,1517.2 L401.6,1520.2 L401.6,1520.2 L394.2,1516.6 L386.8,1513.8 L379.4,1512 L372,1510.9 L364.8,1510.7 L357.8,1511.3 L351.2,1512.8 L344.9,1515.2 L339.2,1518.3 L334,1522.1 L329.4,1526.5 L325.5,1531.5 L322.4,1537 L320.1,1543.1Z" fill="#6e9d50"/>
<path d="M322.4,1543.7 L324.8,1537.8 L327.8,1532.3 L331.5,1527.3 L335.8,1522.7 L340.5,1518.8 L345.8,1515.4 L351.4,1512.7 L357.3,1510.6 L363.6,1509 L370.1,1508.1 L376.9,1508.1 L383.9,1509 L391,1510.9 L398.3,1513.7 L398.3,1513.7 L391.2,1510.3 L384.1,1507.9 L377,1506.4 L370,1506 L363.1,1506.4 L356.5,1507.6 L350.2,1509.9 L344.3,1513 L338.9,1516.7 L334.1,1521 L329.8,1525.9 L326.1,1531.2 L323.1,1537 L320.9,1543.1Z" fill="#5f8e44"/>
<path d="M324.2,1543.1 L321.7,1536.2 L318.5,1530.2 L314.5,1525.2 L309.8,1521.1 L304.5,1517.8 L298.6,1515.5 L292.3,1514 L285.5,1513.4 L278.4,1513.8 L271,1514.9 L263.4,1516.7 L255.6,1519 L247.8,1522 L239.8,1525.5 L239.8,1525.5 L248,1522.6 L256,1520.3 L263.8,1518.4 L271.4,1517.2 L278.6,1516.6 L285.4,1516.7 L291.8,1517.2 L297.8,1518.4 L303.3,1520.4 L308.3,1523.2 L312.8,1526.8 L316.7,1531.4 L320,1537 L322.6,1543.7Z" fill="#527f38"/>
<path d="M321.4,1543.2 L319.9,1536.5 L318.1,1530.4 L315.8,1525.1 L313.2,1520.4 L310.3,1516.4 L307,1513.1 L303.3,1510.5 L299.4,1508.6 L295.1,1507.5 L290.7,1507.1 L286.1,1507.3 L281.4,1508.1 L276.6,1509.4 L271.7,1511.2 L271.7,1511.2 L276.8,1509.9 L281.6,1509.2 L286.2,1508.9 L290.5,1509.1 L294.6,1509.9 L298.4,1511.2 L301.9,1512.9 L305.3,1515.1 L308.5,1518 L311.4,1521.6 L314,1526 L316.3,1531 L318.3,1536.9 L319.9,1543.6Z" fill="#77a458"/>
<path d="M322.4,1543.1 L320.3,1536.1 L317.5,1530.2 L314,1525.4 L310,1521.7 L305.5,1518.9 L300.4,1517.1 L294.9,1516 L289.1,1515.9 L283,1516.6 L276.7,1517.9 L270.2,1519.6 L263.5,1521.7 L256.6,1524.1 L249.6,1526.7 L249.6,1526.7 L256.8,1524.8 L263.8,1523 L270.6,1521.5 L277.2,1520.3 L283.4,1519.6 L289.2,1519.4 L294.6,1519.5 L299.6,1520.2 L304.2,1521.6 L308.4,1523.9 L312.2,1527.1 L315.5,1531.4 L318.3,1536.9 L320.7,1543.7Z" fill="#64934a"/>
<path d="M322.1,1543 L320.1,1538 L317.3,1534 L313.9,1531.1 L309.8,1529.3 L305.3,1528.4 L300.4,1528.4 L295.2,1529.2 L289.6,1530.8 L283.9,1533.2 L277.9,1536 L271.7,1539.3 L265.3,1542.9 L258.7,1546.7 L252,1550.8 L252,1550.8 L259.1,1547.4 L265.9,1544.1 L272.5,1541 L278.9,1538.3 L285,1535.9 L290.7,1534.1 L296,1532.6 L300.8,1531.6 L305.1,1531.4 L309.1,1531.9 L312.5,1533.3 L315.6,1535.6 L318.3,1539 L320.5,1543.8Z" fill="#4c7834"/>
<path d="M327.6,1543.2 L326.2,1537.9 L324.3,1533.7 L321.8,1530.5 L318.9,1528.4 L315.5,1527.3 L311.8,1527 L307.9,1527.6 L303.8,1528.9 L299.7,1530.9 L295.4,1533.4 L291.1,1536.3 L286.8,1539.5 L282.5,1542.8 L278.2,1546.3 L278.2,1546.3 L282.8,1543.3 L287.4,1540.3 L291.9,1537.6 L296.4,1535.1 L300.7,1533 L304.8,1531.4 L308.5,1530.2 L312,1529.5 L315.1,1529.5 L318,1530.3 L320.5,1532 L322.8,1534.6 L324.7,1538.5 L326.2,1543.6Z" fill="#5a8a3c"/>
<path d="M326,1543.5 L326.9,1537.6 L328,1532.2 L329.2,1527.3 L330.6,1523 L332.1,1519.1 L333.8,1515.9 L335.5,1513.2 L337.2,1511.1 L338.8,1509.5 L340.5,1508.3 L342.3,1507.7 L344.4,1507.7 L346.7,1508.3 L349.3,1509.6 L349.3,1509.6 L347.1,1507.6 L344.7,1506.4 L342.2,1505.8 L339.7,1506 L337.1,1507 L334.7,1508.8 L332.7,1511.3 L330.9,1514.4 L329.4,1518 L328,1522.1 L326.8,1526.7 L325.7,1531.8 L324.9,1537.3 L324.3,1543.3Z" fill="#6e9d50"/>
<path d="M325.7,1543.6 L327.4,1537.3 L329.6,1531.5 L332.3,1526.3 L335.3,1521.7 L338.6,1517.7 L342.3,1514.2 L346.2,1511.4 L350.3,1509.1 L354.6,1507.2 L359.1,1505.9 L363.9,1505.2 L368.9,1505.1 L374.1,1505.8 L379.5,1507.1 L379.5,1507.1 L374.3,1505.1 L369,1503.8 L363.8,1503.3 L358.7,1503.5 L353.7,1504.4 L348.8,1506 L344.3,1508.6 L340.2,1511.8 L336.5,1515.7 L333.1,1520.1 L330.1,1525.1 L327.6,1530.7 L325.5,1536.7 L323.9,1543.2Z" fill="#5f8e44"/>
<path d="M325.4,1543.7 L327.3,1538 L329.7,1533.8 L332.5,1531.2 L335.5,1529.7 L338.8,1529.4 L342.6,1530 L346.8,1531.6 L351.4,1534 L356.6,1537.1 L362.1,1541 L367.8,1545.6 L373.7,1550.8 L379.8,1556.5 L386,1562.7 L386,1562.7 L380.4,1556 L374.7,1549.7 L369.2,1544 L363.7,1538.9 L358.5,1534.5 L353.4,1530.8 L348.3,1528.2 L343.4,1526.6 L338.8,1526.1 L334.6,1526.9 L330.8,1529 L327.7,1532.4 L325.3,1537.1 L323.5,1543.1Z" fill="#527f38"/>
<path d="M327.8,1543.6 L329.2,1536.9 L330.9,1531.7 L332.9,1528.1 L335,1526 L337.1,1525.1 L339.3,1525.3 L341.8,1526.4 L344.9,1528.5 L348.4,1531.6 L352.2,1535.7 L356.3,1540.7 L360.6,1546.7 L365,1553.5 L369.7,1561 L369.7,1561 L365.7,1553.1 L361.7,1546 L357.8,1539.7 L354.1,1534.2 L350.5,1529.6 L347,1525.9 L343.4,1523.5 L339.9,1522.2 L336.4,1522.3 L333.4,1523.9 L330.9,1526.8 L328.9,1530.9 L327.3,1536.4 L326,1543.2Z" fill="#77a458"/>
<path d="M323.6,1543.2 L322.5,1538.2 L321.1,1534.1 L319.3,1531 L317.1,1528.8 L314.4,1527.6 L311.3,1527.6 L308.1,1528.8 L305,1530.9 L301.9,1534.2 L298.8,1538.2 L295.6,1543.1 L292.3,1548.8 L289,1555.3 L285.6,1562.7 L285.6,1562.7 L289.6,1555.7 L293.4,1549.5 L297.1,1544.1 L300.6,1539.6 L304,1536.1 L307.1,1533.5 L309.7,1531.6 L312,1530.6 L313.9,1530.4 L315.7,1531 L317.5,1532.5 L319.2,1535 L320.7,1538.7 L321.9,1543.6Z" fill="#64934a"/>
<path d="M324.2,1543.4 L323.8,1535.2 L323.2,1528.1 L322.5,1522 L321.7,1516.8 L320.8,1512.5 L319.7,1509.1 L318.4,1506.5 L316.8,1504.7 L314.8,1504 L312.8,1504.4 L311.1,1505.8 L309.6,1507.7 L308.2,1510.4 L306.8,1513.7 L306.8,1513.7 L308.7,1510.7 L310.5,1508.4 L312.1,1506.9 L313.5,1506.3 L314.4,1506.4 L315.1,1506.9 L316.1,1508.1 L317.3,1510.1 L318.5,1513.2 L319.5,1517.3 L320.5,1522.3 L321.4,1528.3 L322.1,1535.4 L322.8,1543.4Z" fill="#4c7834"/>
<path d="M327.9,1543.4 L328.3,1538.5 L328.7,1533.9 L329.1,1529.6 L329.6,1525.7 L330.1,1522.3 L330.7,1519.4 L331.3,1517.1 L331.8,1515.4 L332.1,1514.4 L332,1514.1 L332.1,1513.9 L332.9,1514.5 L334,1516.1 L335.4,1518.6 L335.4,1518.6 L334.7,1515.8 L333.9,1513.8 L333,1512.5 L331.5,1512 L330,1512.8 L329,1514.3 L328.4,1516.3 L327.9,1518.9 L327.5,1522 L327.2,1525.5 L326.9,1529.4 L326.7,1533.7 L326.5,1538.4 L326.3,1543.4Z" fill="#5a8a3c"/>
<path d="M326.7,1543.2 L324.9,1535.5 L322.3,1529.4 L319.1,1524.7 L315.2,1521.5 L310.7,1519.5 L305.8,1518.8 L300.6,1519.1 L295.1,1520.4 L289.5,1522.5 L283.8,1525.2 L277.9,1528.2 L272,1531.4 L266,1534.7 L260,1538 L260,1538 L266.3,1535.4 L272.6,1532.7 L278.8,1530 L284.8,1527.5 L290.6,1525.4 L296.1,1523.8 L301.1,1522.6 L305.7,1522.1 L309.9,1522.5 L313.7,1523.9 L317.2,1526.5 L320.3,1530.5 L322.9,1536.2 L324.9,1543.6Z" fill="#6e9d50"/>
<path d="M321.2,1543.7 L323.4,1537.2 L326.2,1532.4 L329.5,1529.1 L333.3,1527.1 L337.6,1526.1 L342.3,1526 L347.5,1526.8 L353.1,1528.1 L359.2,1529.7 L365.5,1531.6 L372,1533.8 L378.6,1536.1 L385.3,1538.2 L392,1540 L392,1540 L385.5,1537.5 L379,1534.9 L372.6,1532.2 L366.2,1529.5 L360,1527.1 L354,1525 L348.1,1523.6 L342.5,1523.1 L337.2,1523.4 L332.4,1524.7 L328.1,1527.3 L324.5,1531.1 L321.7,1536.4 L319.6,1543.1Z" fill="#5f8e44"/>
<path d="M323.4,1543.6 L324.6,1538.6 L326.1,1534.4 L327.9,1530.8 L330,1527.9 L332.3,1525.6 L334.7,1524 L337.3,1522.9 L340,1522.4 L342.9,1522.1 L346,1522.5 L349.3,1523.5 L352.8,1525 L356.3,1527.2 L360,1530 L360,1530 L356.7,1526.7 L353.3,1524.1 L349.9,1522 L346.5,1520.6 L343.1,1519.8 L339.7,1519.6 L336.5,1520.3 L333.4,1521.7 L330.7,1523.8 L328.3,1526.5 L326.2,1529.8 L324.4,1533.7 L323,1538.2 L322,1543.2Z" fill="#527f38"/>
<path d="M322.8,1543.3 L322.2,1538.2 L321.5,1533.7 L320.5,1529.7 L319.4,1526.4 L318.1,1523.6 L316.6,1521.3 L314.8,1519.6 L312.7,1518.6 L310.4,1518.6 L308.2,1519.3 L306.1,1520.6 L304.1,1522.5 L302,1524.9 L300,1528 L300,1528 L302.5,1525.4 L304.9,1523.4 L307,1522 L309,1521.3 L310.6,1521.2 L311.9,1521.5 L313.2,1522.1 L314.5,1523.2 L315.9,1524.9 L317.2,1527.3 L318.4,1530.4 L319.5,1534.1 L320.5,1538.5 L321.3,1543.5Z" fill="#77a458"/>
</g>
<rect x="390.2" y="1532.9" width="4.3" height="27.8" fill="#fff"/>
<rect x="410.5" y="1363.2" width="166.1" height="199.5" fill="#0e0e0b"/>
<g clip-path="url(#cp2)">
<path d="M465.7,1545.6 L469.3,1562.7 L518.2,1562.7 L520.8,1545.6 Z" fill="#aa3224"/>
<ellipse cx="493.2" cy="1543.6" rx="31" ry="7.5" fill="#bb3b2b"/>
<ellipse cx="493.2" cy="1542.2" rx="27.5" ry="5" fill="#9d3a30"/>
<ellipse cx="493.2" cy="1543.8" rx="15.5" ry="3" fill="#3f332b"/>
<path d="M493.3,1545.1 L493.2,1529.8 L492.8,1515.9 L492,1503.1 L490.8,1491.3 L489.4,1480.3 L487.7,1470.1 L485.7,1460.5 L483.3,1451.3 L480.4,1442.6 L477.2,1434 L473.9,1425.4 L470.3,1416.7 L466.6,1407.7 L462.7,1398.2 L462.7,1398.2 L465.5,1408 L468.4,1417.4 L471.1,1426.4 L473.7,1435.2 L476.1,1443.9 L478.3,1452.7 L480.7,1461.7 L482.9,1471.1 L485,1481.1 L486.7,1491.8 L488.2,1503.4 L489.3,1516.1 L490.1,1529.9 L490.6,1545.1Z" fill="#527f38"/>
<path d="M495.3,1545.1 L495.5,1530.5 L495.4,1517.2 L495.1,1505 L494.6,1493.8 L493.9,1483.4 L493.1,1473.7 L492,1464.6 L490.7,1455.8 L489,1447.5 L487.1,1439.2 L485.1,1431 L483.1,1422.6 L481,1413.9 L478.7,1404.8 L478.7,1404.8 L480,1414.1 L481.3,1422.9 L482.7,1431.5 L483.9,1439.8 L485.1,1448.1 L486.2,1456.6 L487.5,1465.2 L488.9,1474.2 L490,1483.8 L491,1494 L491.8,1505.2 L492.4,1517.3 L492.8,1530.5 L493,1545.1Z" fill="#77a458"/>
<path d="M494.2,1545.1 L494.4,1529.2 L494.7,1514.8 L494.9,1501.5 L495.2,1489.3 L495.4,1478.1 L495.6,1467.6 L495.8,1457.7 L495.8,1448.2 L495.4,1439 L494.9,1430 L494.5,1421 L494.1,1411.7 L493.6,1402.2 L493,1392.1 L493,1392.1 L492.3,1402.2 L491.8,1411.7 L491.3,1421 L490.9,1430 L490.4,1439 L490,1448.2 L490.1,1457.7 L490.2,1467.6 L490.4,1478.1 L490.6,1489.3 L490.8,1501.5 L490.9,1514.8 L491.1,1529.2 L491.2,1545.1Z" fill="#64934a"/>
<path d="M496.1,1545.1 L496.7,1530.5 L497.3,1517.2 L498.1,1505 L499,1493.8 L500,1483.5 L501.1,1473.9 L502.4,1464.8 L503.6,1456.1 L504.6,1447.7 L505.7,1439.3 L507,1431 L508.3,1422.4 L509.7,1413.5 L511.1,1404.2 L511.1,1404.2 L508.7,1413.4 L506.6,1422.1 L504.6,1430.5 L502.7,1438.8 L500.9,1447.1 L499.3,1455.5 L498,1464.2 L497.1,1473.4 L496.2,1483.1 L495.5,1493.6 L494.9,1504.8 L494.4,1517.1 L494.1,1530.4 L493.8,1545.1Z" fill="#4c7834"/>
<path d="M494,1545.2 L494.8,1531 L496.2,1518.1 L498,1506.3 L500.4,1495.5 L503.3,1485.6 L506.6,1476.4 L510.3,1467.7 L514.3,1459.4 L518.3,1451.1 L522.7,1442.9 L527.4,1434.6 L532.4,1426.1 L537.6,1417.3 L543,1408 L543,1408 L536.7,1416.7 L530.7,1425 L525,1433 L519.6,1441 L514.4,1448.9 L509.7,1457 L505.6,1465.6 L502.1,1474.7 L499,1484.3 L496.4,1494.6 L494.3,1505.7 L492.8,1517.7 L491.7,1530.8 L491.3,1545Z" fill="#5a8a3c"/>
<path d="M492.9,1545.1 L492.8,1531.5 L492.5,1519.1 L491.9,1507.7 L491,1497.2 L489.9,1487.5 L488.6,1478.4 L487.1,1469.8 L485.2,1461.6 L482.7,1453.9 L480,1446.3 L477.2,1438.7 L474.2,1430.9 L471,1423 L467.7,1414.6 L467.7,1414.6 L469.8,1423.4 L472,1431.7 L474,1439.6 L476,1447.5 L477.8,1455.2 L479.5,1463.1 L481.4,1471.1 L483.2,1479.4 L484.9,1488.2 L486.4,1497.7 L487.6,1508 L488.6,1519.3 L489.4,1531.6 L489.8,1545.1Z" fill="#6e9d50"/>
<path d="M492.8,1545.1 L493.1,1532.6 L493.5,1521.2 L494,1510.7 L494.6,1501.1 L495.3,1492.3 L496,1484 L496.9,1476.3 L497.7,1468.9 L498.2,1461.6 L498.7,1454.5 L499.3,1447.4 L500,1440 L500.6,1432.5 L501.2,1424.5 L501.2,1424.5 L499.6,1432.3 L498.1,1439.8 L496.6,1447 L495.3,1454.1 L494,1461.1 L492.8,1468.3 L492.1,1475.8 L491.5,1483.7 L491.1,1492 L490.7,1500.9 L490.5,1510.6 L490.3,1521.1 L490.2,1532.5 L490.3,1545.1Z" fill="#5f8e44"/>
<path d="M496.7,1545.2 L497.2,1534.1 L498,1524 L498.8,1514.8 L499.8,1506.4 L500.8,1498.6 L502,1491.4 L503.4,1484.6 L504.6,1478.1 L505.7,1471.8 L506.8,1465.5 L508,1459.1 L509.4,1452.6 L510.8,1445.9 L512.2,1438.8 L512.2,1438.8 L509.7,1445.6 L507.4,1452.1 L505.2,1458.4 L503.2,1464.5 L501.3,1470.7 L499.5,1477.1 L498.2,1483.7 L497.2,1490.7 L496.4,1498.1 L495.6,1506 L495,1514.5 L494.5,1523.8 L494.2,1534 L493.9,1545Z" fill="#527f38"/>
<path d="M490.7,1545.1 L491.2,1537.4 L492.1,1530.5 L493.4,1524.2 L495.1,1518.4 L497.2,1513.2 L499.7,1508.3 L502.4,1503.8 L505.4,1499.3 L508.3,1494.8 L511.6,1490.3 L515.1,1485.8 L518.8,1481.2 L522.6,1476.3 L526.5,1471.2 L526.5,1471.2 L521.8,1475.7 L517.4,1479.9 L513.2,1484.1 L509.1,1488.2 L505.2,1492.4 L501.6,1496.7 L498.5,1501.3 L495.9,1506.3 L493.6,1511.6 L491.6,1517.3 L490.1,1523.4 L489,1530 L488.4,1537.2 L488.3,1545.1Z" fill="#77a458"/>
<path d="M492.3,1545.1 L492.2,1538.5 L491.7,1532.6 L490.9,1527.1 L489.7,1522 L488.3,1517.3 L486.6,1512.9 L484.6,1508.8 L482.3,1504.9 L479.6,1501.3 L476.6,1497.9 L473.5,1494.5 L470.3,1491.1 L466.9,1487.6 L463.3,1483.9 L463.3,1483.9 L466.2,1488.1 L469,1492.1 L471.8,1495.9 L474.3,1499.7 L476.7,1503.4 L478.8,1507.1 L481,1510.7 L483.1,1514.5 L485,1518.6 L486.6,1522.9 L487.9,1527.7 L489,1532.9 L489.8,1538.7 L490.2,1545.1Z" fill="#64934a"/>
<path d="M493.2,1545 L492.6,1537.3 L491.7,1530.6 L490.4,1525 L488.8,1520.4 L486.9,1516.7 L484.6,1513.8 L481.9,1511.8 L478.8,1510.7 L475.7,1510.7 L472.5,1511.4 L469.4,1512.7 L466.2,1514.6 L463.1,1516.9 L460,1519.6 L460,1519.6 L463.5,1517.5 L466.9,1515.8 L470.1,1514.6 L473.1,1513.8 L475.8,1513.7 L478.1,1514.1 L480.2,1514.9 L482.3,1516.2 L484.3,1518.4 L486.2,1521.6 L487.9,1525.8 L489.4,1531.1 L490.5,1537.5 L491.4,1545.2Z" fill="#4c7834"/>
<path d="M491.6,1545 L491.2,1538.5 L490.6,1533 L489.8,1528.6 L488.7,1525 L487.4,1522.3 L485.7,1520.3 L483.5,1519.1 L481.1,1519 L478.8,1519.9 L476.7,1521.3 L474.6,1523.2 L472.5,1525.3 L470.4,1527.8 L468.2,1530.6 L468.2,1530.6 L470.9,1528.4 L473.5,1526.4 L475.9,1524.7 L478.1,1523.5 L480,1522.8 L481.5,1522.6 L482.6,1522.6 L483.6,1523 L484.8,1524.1 L486.1,1526.1 L487.2,1529.2 L488.2,1533.4 L489.1,1538.7 L489.7,1545.2Z" fill="#5a8a3c"/>
<path d="M496.5,1545.2 L497,1540.1 L497.6,1535.5 L498.4,1531.3 L499.2,1527.6 L500.1,1524.1 L501,1520.9 L502.1,1518 L503.1,1515.1 L503.8,1512.2 L504.7,1509.4 L505.6,1506.4 L506.7,1503.4 L507.8,1500.3 L508.9,1497 L508.9,1497 L506.8,1499.8 L504.9,1502.5 L503.1,1505.2 L501.4,1507.9 L499.8,1510.6 L498.3,1513.4 L497.3,1516.4 L496.5,1519.7 L495.8,1523.1 L495.2,1526.8 L494.7,1530.8 L494.3,1535.1 L494,1539.9 L493.8,1545Z" fill="#6e9d50"/>
<path d="M494,1545.1 L494,1536.1 L493.7,1527.9 L493.1,1520.4 L492.2,1513.4 L491,1507 L489.6,1501 L488,1495.3 L486,1490 L483.6,1484.9 L481,1480 L478.3,1475.1 L475.4,1470.2 L472.4,1465 L469.3,1459.7 L469.3,1459.7 L471.6,1465.5 L473.9,1470.9 L476.2,1476.2 L478.3,1481.3 L480.3,1486.4 L482.1,1491.5 L484,1496.7 L485.8,1502.1 L487.5,1507.8 L488.9,1514 L490,1520.8 L490.9,1528.1 L491.5,1536.2 L491.8,1545.1Z" fill="#5f8e44"/>
<path d="M488.8,1545.1 L488.8,1532.1 L488.8,1520.2 L488.9,1509.3 L489,1499.4 L489.1,1490.2 L489.3,1481.6 L489.4,1473.5 L489.4,1465.8 L489,1458.3 L488.5,1450.9 L488,1443.5 L487.5,1436 L486.8,1428.2 L486,1420 L486,1420 L485.5,1428.2 L485.1,1436 L484.7,1443.5 L484.3,1450.9 L483.9,1458.3 L483.5,1465.8 L483.6,1473.5 L483.8,1481.6 L484,1490.2 L484.3,1499.4 L484.6,1509.4 L484.9,1520.3 L485.3,1532.1 L485.8,1545.1Z" fill="#527f38"/>
<path d="M490.5,1545.1 L490.7,1530.6 L491,1517.3 L491.4,1505.2 L492,1494.1 L492.8,1483.8 L493.6,1474.2 L494.6,1465.2 L495.5,1456.6 L496.1,1448.2 L496.9,1439.9 L497.6,1431.6 L498.4,1423.1 L499.3,1414.3 L500,1405 L500,1405 L498.3,1414.1 L496.7,1422.8 L495.2,1431.2 L493.7,1439.5 L492.4,1447.7 L491.1,1456.1 L490.2,1464.8 L489.5,1473.9 L489,1483.5 L488.5,1493.9 L488.2,1505.1 L488.1,1517.3 L488.1,1530.6 L488.2,1545.1Z" fill="#77a458"/>
<path d="M488.7,1545.1 L488.7,1535.6 L489.1,1527 L489.8,1519.2 L490.8,1512 L492.1,1505.3 L493.6,1499.2 L495.3,1493.4 L497.1,1487.9 L498.9,1482.4 L500.8,1477.1 L502.9,1471.7 L505,1466.1 L507.2,1460.4 L509.4,1454.4 L509.4,1454.4 L506.6,1460.2 L504,1465.7 L501.4,1471 L498.9,1476.3 L496.6,1481.6 L494.4,1486.9 L492.5,1492.6 L491,1498.5 L489.7,1504.9 L488.6,1511.6 L487.7,1519 L487.2,1526.9 L487,1535.6 L487.2,1545.1Z" fill="#527f38" fill-opacity="0.85"/>
<path d="M487.7,1545.1 L487.5,1533 L487.3,1522 L487,1511.9 L486.8,1502.7 L486.5,1494.1 L486.2,1486.1 L485.8,1478.6 L485.3,1471.4 L484.6,1464.5 L483.7,1457.7 L482.8,1450.9 L481.8,1443.9 L480.8,1436.7 L479.6,1429.2 L479.6,1429.2 L480.1,1436.8 L480.6,1444 L481.1,1451 L481.5,1457.9 L481.9,1464.7 L482.2,1471.6 L482.8,1478.8 L483.3,1486.3 L483.9,1494.2 L484.3,1502.8 L484.8,1512 L485.2,1522.1 L485.7,1533.1 L486.1,1545.1Z" fill="#5a8a3c" fill-opacity="0.85"/>
<path d="M489.2,1545.1 L489,1533.7 L488.9,1523.3 L488.7,1513.7 L488.5,1505 L488.3,1496.9 L488,1489.4 L487.7,1482.3 L487.3,1475.5 L486.6,1468.9 L485.9,1462.5 L485.1,1456.1 L484.3,1449.5 L483.4,1442.7 L482.4,1435.6 L482.4,1435.6 L482.8,1442.8 L483.2,1449.6 L483.7,1456.2 L484,1462.7 L484.4,1469.1 L484.7,1475.7 L485.1,1482.4 L485.6,1489.5 L486,1497 L486.5,1505.1 L486.8,1513.8 L487.2,1523.3 L487.5,1533.7 L487.8,1545.1Z" fill="#77a458" fill-opacity="0.85"/>
<path d="M494.3,1545.1 L494.4,1536.3 L494.1,1528.2 L493.5,1520.8 L492.6,1513.9 L491.4,1507.6 L490,1501.7 L488.3,1496.2 L486.3,1490.9 L483.9,1485.9 L481.4,1481.1 L478.7,1476.2 L475.9,1471.3 L473,1466.2 L470,1460.9 L470,1460.9 L472.4,1466.5 L474.8,1471.8 L477.1,1477 L479.4,1482 L481.5,1487 L483.4,1492.1 L485.3,1497.2 L487.2,1502.5 L488.8,1508.2 L490.2,1514.4 L491.3,1521 L492.1,1528.3 L492.6,1536.3 L492.7,1545.1Z" fill="#6e9d50" fill-opacity="0.85"/>
<path d="M488.6,1545.1 L488.4,1532.3 L488.1,1520.7 L487.7,1510.1 L487.2,1500.3 L486.5,1491.2 L485.8,1482.8 L484.9,1474.8 L483.9,1467.2 L482.5,1459.9 L481.1,1452.7 L479.5,1445.5 L477.8,1438.2 L476,1430.6 L474.1,1422.6 L474.1,1422.6 L475.4,1430.7 L476.7,1438.4 L477.9,1445.8 L479.1,1453.1 L480.1,1460.3 L481,1467.6 L482.1,1475.2 L483.2,1483 L484.1,1491.4 L484.9,1500.4 L485.6,1510.2 L486.3,1520.8 L486.8,1532.4 L487.1,1545.1Z" fill="#64934a" fill-opacity="0.85"/>
<path d="M489.3,1545.1 L489.2,1533 L488.8,1522 L488.3,1511.9 L487.6,1502.7 L486.7,1494.1 L485.7,1486.1 L484.6,1478.5 L483.2,1471.4 L481.5,1464.4 L479.6,1457.7 L477.7,1450.9 L475.6,1444 L473.4,1436.8 L471.1,1429.3 L471.1,1429.3 L472.9,1437 L474.6,1444.2 L476.2,1451.2 L477.8,1458.1 L479.2,1465 L480.5,1471.9 L481.9,1479 L483.2,1486.5 L484.4,1494.4 L485.4,1502.9 L486.3,1512.1 L487,1522.1 L487.6,1533.1 L487.9,1545.1Z" fill="#5f8e44" fill-opacity="0.85"/>
<path d="M491.8,1545.1 L492,1534 L492.2,1524 L492.5,1514.7 L492.9,1506.3 L493.4,1498.5 L494,1491.2 L494.6,1484.4 L495.2,1477.8 L495.7,1471.5 L496.1,1465.2 L496.7,1459 L497.2,1452.6 L497.8,1445.9 L498.3,1438.9 L498.3,1438.9 L497.2,1445.8 L496.1,1452.4 L495.1,1458.8 L494.1,1465 L493.2,1471.2 L492.3,1477.6 L491.7,1484.1 L491.3,1491 L490.9,1498.3 L490.6,1506.2 L490.4,1514.7 L490.3,1523.9 L490.2,1534 L490.3,1545.1Z" fill="#4c7834" fill-opacity="0.85"/>
<path d="M490.2,1545.1 L490.3,1535.8 L490.4,1527.3 L490.5,1519.6 L490.7,1512.5 L491,1506 L491.3,1499.9 L491.7,1494.1 L492,1488.7 L492.2,1483.4 L492.4,1478.1 L492.6,1472.9 L492.8,1467.6 L493,1462.1 L493.1,1456.2 L493.1,1456.2 L492.4,1462 L491.8,1467.5 L491.2,1472.8 L490.6,1478 L490,1483.2 L489.5,1488.5 L489.2,1494 L489,1499.8 L488.8,1505.9 L488.7,1512.5 L488.6,1519.6 L488.7,1527.3 L488.7,1535.8 L488.9,1545.1Z" fill="#527f38" fill-opacity="0.85"/>
<path d="M494.5,1545.1 L494.7,1533.6 L494.8,1523.1 L494.9,1513.5 L494.8,1504.7 L494.7,1496.6 L494.6,1489 L494.4,1481.8 L494,1475 L493.5,1468.4 L492.9,1461.9 L492.3,1455.4 L491.7,1448.8 L491.1,1442 L490.4,1434.8 L490.4,1434.8 L490.5,1442 L490.7,1448.9 L490.9,1455.5 L491.1,1462 L491.3,1468.5 L491.4,1475.1 L491.8,1481.9 L492.1,1489.1 L492.5,1496.6 L492.8,1504.8 L493,1513.5 L493.1,1523.1 L493.2,1533.6 L493.1,1545.1Z" fill="#5a8a3c" fill-opacity="0.85"/>
<path d="M492.5,1545.1 L492.7,1531.7 L493.1,1519.4 L493.8,1508.2 L494.6,1497.9 L495.6,1488.4 L496.8,1479.5 L498.1,1471.2 L499.4,1463.2 L500.7,1455.5 L502.1,1447.8 L503.5,1440.1 L505.1,1432.2 L506.7,1424.1 L508.3,1415.5 L508.3,1415.5 L506.1,1424 L503.9,1432 L501.9,1439.7 L500,1447.3 L498.2,1454.9 L496.5,1462.7 L495.1,1470.7 L494,1479.2 L493,1488.1 L492.2,1497.7 L491.6,1508 L491.2,1519.3 L490.9,1531.6 L490.9,1545.1Z" fill="#77a458" fill-opacity="0.85"/>
<path d="M464,1543.6 A29.2 5.8 0 0 0 522.5,1543.6" fill="none" stroke="#bb3b2b" stroke-width="3.4"/>
<path d="M463.7,1546.1 A29.5 6.5 0 0 0 522.8,1546.1" fill="none" stroke="#d4604c" stroke-width="1.3" stroke-opacity="0.75"/>
</g>
<rect x="566.6" y="1530.6" width="4.3" height="27.4" fill="#fff"/>
<rect x="581.7" y="1363.2" width="166.1" height="199.5" fill="#0e0e0b"/>
<g clip-path="url(#cp3)">
<path d="M632.7,1550.4 L634.9,1562.7 L686.4,1562.7 L688.2,1550.4 Z" fill="#aa3224"/>
<ellipse cx="660.5" cy="1548.4" rx="31.2" ry="7.5" fill="#bb3b2b"/>
<ellipse cx="660.5" cy="1547" rx="27.8" ry="5" fill="#9d3a30"/>
<ellipse cx="660.5" cy="1548.6" rx="15.6" ry="3" fill="#3f332b"/>
<path d="M631,1548.4 A29.4 5.8 0 0 0 689.9,1548.4" fill="none" stroke="#bb3b2b" stroke-width="3.4"/>
<path d="M630.7,1550.9 A29.8 6.5 0 0 0 690.2,1550.9" fill="none" stroke="#d4604c" stroke-width="1.3" stroke-opacity="0.75"/>
<path d="M665.5,1548 L663.7,1541.3 L661.3,1534.2 L658.3,1527 L654.8,1519.9 L650.7,1512.9 L646.3,1506.2 L641.4,1500.1 L636.2,1494.7 L630.4,1490.3 L624.5,1487 L618.5,1484.9 L612.4,1484.2 L606.4,1485 L600.6,1487.5 L600.6,1487.5 L606.5,1485.8 L612.3,1485.6 L617.9,1486.9 L623.3,1489.3 L628.6,1492.9 L633.7,1497.4 L638.7,1502.5 L643.6,1508.3 L648.1,1514.6 L652.2,1521.3 L655.9,1528.2 L659.1,1535.1 L661.7,1541.9 L663.7,1548.6Z" fill="#6e9d50"/>
<path d="M659.6,1548.2 L658.7,1541.1 L657.5,1533.8 L656.1,1526.5 L654.5,1519.3 L652.6,1512.4 L650.5,1505.9 L648.2,1499.8 L645.6,1494.5 L642.5,1490.2 L639.2,1486.9 L635.8,1484.8 L632.2,1484.1 L628.7,1485 L625.5,1487.5 L625.5,1487.5 L629,1485.8 L632.1,1485.6 L634.8,1486.6 L637.4,1488.8 L639.9,1492.1 L642.3,1496.4 L644.8,1501.4 L647.2,1507.1 L649.5,1513.4 L651.6,1520.1 L653.4,1527.1 L655.1,1534.3 L656.5,1541.4 L657.7,1548.4Z" fill="#5f8e44"/>
<path d="M657.8,1548.3 L657.8,1542.6 L657.7,1536.4 L657.7,1529.7 L657.8,1522.9 L657.8,1516 L657.8,1509.3 L657.7,1503 L657.5,1497.2 L657,1492.1 L656.4,1487.9 L655.7,1484.9 L654.8,1483 L653.3,1482.9 L652.9,1484.7 L652.9,1484.7 L653.9,1483.5 L653.6,1483.8 L653.7,1485.3 L653.9,1488.2 L653.9,1492.3 L653.9,1497.3 L654.1,1503.1 L654.4,1509.4 L654.6,1516.1 L654.9,1522.9 L655.1,1529.8 L655.4,1536.4 L655.6,1542.7 L655.9,1548.3Z" fill="#527f38"/>
<path d="M665,1548.4 L665.6,1542.4 L666.2,1535.9 L666.8,1529 L667.5,1521.9 L668.3,1514.8 L669.2,1508 L670.1,1501.6 L671,1495.9 L671.7,1491 L672.5,1487.3 L673.3,1484.9 L673.9,1484 L674.9,1484.3 L676.6,1486.7 L676.6,1486.7 L675.4,1483.8 L673.7,1482.7 L671.8,1483.8 L670.3,1486.5 L669,1490.4 L667.8,1495.3 L666.9,1501.1 L666.1,1507.6 L665.5,1514.5 L664.9,1521.6 L664.4,1528.8 L664,1535.8 L663.6,1542.3 L663.3,1548.2Z" fill="#77a458"/>
<path d="M666.3,1548.4 L667.4,1540.2 L668.6,1532.6 L670.1,1525.4 L671.7,1518.8 L673.5,1512.9 L675.4,1507.6 L677.5,1503.1 L679.6,1499.3 L681.6,1496.2 L683.7,1493.8 L686,1492.2 L688.5,1491.4 L691.3,1491.4 L694.6,1492.4 L694.6,1492.4 L691.6,1490.6 L688.4,1489.9 L685.2,1490.2 L682.1,1491.6 L679.1,1494 L676.4,1497.3 L674.1,1501.4 L672.1,1506.4 L670.4,1511.9 L668.8,1518.1 L667.4,1524.9 L666.2,1532.2 L665.2,1540 L664.3,1548.2Z" fill="#64934a"/>
<path d="M661.6,1548.5 L663.7,1542.9 L666.5,1537.1 L669.8,1531.2 L673.6,1525.5 L677.9,1520 L682.6,1514.8 L687.7,1510.1 L693,1506 L698.6,1502.4 L704.3,1499.6 L710.4,1497.7 L716.6,1496.9 L723.1,1497.3 L729.7,1499 L729.7,1499 L723.2,1496.7 L716.6,1495.8 L710.1,1496.2 L703.7,1497.7 L697.4,1500.3 L691.5,1503.7 L685.9,1508 L680.8,1513 L676.1,1518.4 L671.8,1524.2 L668.1,1530.2 L664.9,1536.2 L662.2,1542.2 L660.2,1548.1Z" fill="#4c7834"/>
<path d="M664.1,1548.5 L666.4,1541.8 L669.2,1535.6 L672.7,1529.9 L676.6,1524.8 L681,1520.2 L685.7,1516.2 L690.9,1512.9 L696.4,1510 L702.2,1507.7 L708.2,1505.9 L714.6,1504.9 L721.3,1504.6 L728.2,1505.1 L735.4,1506.3 L735.4,1506.3 L728.3,1504.4 L721.4,1503.5 L714.5,1503.3 L707.9,1503.9 L701.4,1505.3 L695.2,1507.4 L689.4,1510.3 L684.1,1514.1 L679.2,1518.4 L674.8,1523.3 L670.9,1528.8 L667.5,1534.7 L664.8,1541.2 L662.6,1548.1Z" fill="#5a8a3c"/>
<path d="M661.9,1548.5 L664.2,1541.2 L667.3,1534.7 L670.9,1529.1 L675,1524.3 L679.6,1520.3 L684.7,1517 L690.2,1514.5 L696,1512.6 L702.2,1511.2 L708.7,1510.4 L715.4,1510.3 L722.4,1510.9 L729.6,1512 L737,1513.7 L737,1513.7 L729.8,1511.4 L722.6,1509.8 L715.5,1508.8 L708.6,1508.4 L701.8,1508.8 L695.3,1509.9 L689.2,1511.9 L683.4,1514.8 L678.2,1518.4 L673.4,1522.7 L669.2,1527.9 L665.6,1533.8 L662.7,1540.6 L660.5,1548.1Z" fill="#6e9d50"/>
<path d="M660.7,1548.7 L663,1543.8 L665.9,1539.4 L669.5,1535.6 L673.6,1532.3 L678.1,1529.5 L683.2,1527.3 L688.6,1525.5 L694.4,1524.2 L700.4,1523.2 L706.8,1522.7 L713.5,1522.7 L720.4,1523.4 L727.4,1524.6 L734.6,1526.3 L734.6,1526.3 L727.6,1523.8 L720.6,1521.9 L713.7,1520.7 L706.9,1520.1 L700.2,1520 L693.7,1520.6 L687.6,1522 L681.9,1524.1 L676.6,1526.7 L671.8,1529.9 L667.6,1533.7 L664,1538 L661.1,1542.7 L658.9,1547.9Z" fill="#5f8e44"/>
<path d="M659,1548.5 L661,1542.7 L663.7,1537.3 L667,1532.4 L670.8,1528.1 L675,1524.3 L679.6,1521.1 L684.5,1518.5 L689.8,1516.5 L695.2,1515 L700.9,1514.3 L706.9,1514.3 L713,1515.1 L719.2,1516.8 L725.6,1519.4 L725.6,1519.4 L719.5,1516.2 L713.3,1514 L707.1,1512.7 L700.9,1512.2 L694.8,1512.6 L688.9,1513.7 L683.3,1515.9 L678.2,1518.8 L673.4,1522.3 L669.1,1526.5 L665.3,1531.2 L662.1,1536.4 L659.5,1542 L657.5,1548.1Z" fill="#527f38"/>
<path d="M658.5,1548 L656.6,1542.1 L654.2,1536.6 L651.3,1531.4 L647.9,1526.7 L644,1522.5 L639.7,1518.8 L635,1515.8 L629.8,1513.4 L624.3,1512.1 L618.6,1511.5 L612.6,1511.7 L606.6,1512.8 L600.4,1514.8 L594.1,1517.7 L594.1,1517.7 L600.6,1515.5 L606.8,1514.2 L612.8,1513.7 L618.4,1514 L623.7,1515 L628.6,1516.7 L633.3,1518.8 L637.8,1521.5 L641.9,1524.7 L645.7,1528.5 L649.1,1532.8 L652.1,1537.7 L654.7,1542.9 L656.8,1548.6Z" fill="#77a458"/>
<path d="M663.4,1548.1 L661.6,1542.6 L659.3,1536.9 L656.4,1531.1 L653,1525.4 L649.2,1519.8 L645,1514.6 L640.4,1509.7 L635.4,1505.4 L630,1502 L624.4,1499.4 L618.7,1497.8 L612.9,1497.2 L607.1,1497.9 L601.4,1499.8 L601.4,1499.8 L607.2,1498.5 L612.9,1498.3 L618.3,1499.3 L623.7,1501.3 L628.8,1504.1 L633.7,1507.7 L638.5,1511.8 L643,1516.3 L647.3,1521.3 L651.2,1526.6 L654.6,1532.1 L657.6,1537.7 L660.1,1543.2 L662,1548.5Z" fill="#64934a"/>
<path d="M662.5,1548.3 L662.3,1541.8 L662,1535.4 L661.5,1529 L661,1522.9 L660.4,1517.1 L659.7,1511.7 L659,1507 L658.1,1502.8 L656.8,1499.6 L655.5,1497.2 L654,1495.7 L652.2,1495.8 L651.1,1497.4 L650.4,1500.2 L650.4,1500.2 L651.8,1497.8 L652.8,1497 L653,1497.3 L653.5,1498.3 L654.1,1500.5 L654.8,1503.7 L655.7,1507.6 L656.7,1512.2 L657.6,1517.5 L658.4,1523.2 L659.1,1529.3 L659.8,1535.5 L660.3,1541.9 L660.8,1548.3Z" fill="#4c7834"/>
<path d="M662.5,1548 L660.6,1542.8 L657.9,1538.6 L654.7,1535.4 L650.8,1533.3 L646.4,1532.3 L641.7,1532.2 L636.5,1533.1 L631.1,1534.9 L625.5,1537.7 L619.8,1541.3 L613.9,1545.7 L607.9,1550.7 L601.8,1556.4 L595.7,1562.7 L595.7,1562.7 L602.2,1556.8 L608.6,1551.5 L614.8,1546.9 L620.8,1543 L626.6,1539.8 L632.1,1537.5 L637.2,1535.7 L641.9,1534.7 L646.2,1534.6 L650.1,1535.4 L653.5,1537.1 L656.6,1539.8 L659.1,1543.6 L661.2,1548.6Z" fill="#5a8a3c"/>
<path d="M658.2,1548.2 L656.7,1540.9 L654.9,1535.4 L652.6,1531.4 L649.7,1528.9 L646.4,1527.8 L642.8,1528.1 L639,1529.5 L635.1,1531.9 L631.2,1535.2 L627,1539 L622.7,1543.2 L618.2,1547.7 L613.6,1552.3 L608.8,1557 L608.8,1557 L614,1552.8 L618.9,1548.5 L623.7,1544.3 L628.3,1540.4 L632.6,1537 L636.6,1534.1 L640.2,1531.9 L643.4,1530.5 L646.2,1530.1 L648.7,1530.8 L651.1,1532.6 L653.3,1536.1 L655.2,1541.3 L656.8,1548.4Z" fill="#6e9d50"/>
<path d="M663.9,1548.6 L665.9,1543.6 L668.4,1539.9 L671.3,1537.4 L674.6,1535.9 L678.2,1535.4 L682.3,1535.7 L686.8,1536.8 L691.7,1538.6 L697,1541 L702.7,1544.2 L708.7,1548 L714.9,1552.4 L721.4,1557.3 L728,1562.7 L728,1562.7 L721.8,1556.8 L715.8,1551.4 L709.8,1546.5 L704,1542.2 L698.4,1538.5 L693,1535.6 L687.7,1533.6 L682.7,1532.6 L678,1532.5 L673.7,1533.4 L669.9,1535.4 L666.7,1538.5 L664.2,1542.7 L662.2,1548Z" fill="#5f8e44"/>
<path d="M665.7,1548.5 L667.2,1543.9 L668.9,1540.4 L670.9,1537.8 L673,1536.2 L675.2,1535.4 L677.7,1535.4 L680.4,1536.2 L683.6,1537.7 L687.1,1539.8 L690.9,1542.8 L695,1546.7 L699.3,1551.3 L703.8,1556.6 L708.5,1562.7 L708.5,1562.7 L704.2,1556.3 L700.1,1550.6 L696.1,1545.6 L692.2,1541.4 L688.5,1538 L684.9,1535.3 L681.4,1533.6 L678,1532.9 L674.8,1533.1 L671.9,1534.3 L669.4,1536.5 L667.4,1539.5 L665.7,1543.4 L664.4,1548.1Z" fill="#527f38"/>
<path d="M664.4,1548.4 L665.6,1542.3 L667,1536.5 L668.7,1531.2 L670.7,1526.4 L672.8,1522.1 L675.2,1518.3 L677.6,1515.1 L680.2,1512.4 L682.7,1510.2 L685.5,1508.6 L688.4,1507.6 L691.5,1507.3 L694.9,1507.6 L698.6,1508.8 L698.6,1508.8 L695.1,1507 L691.6,1506 L688.1,1505.9 L684.7,1506.5 L681.3,1507.9 L678.1,1510.1 L675.3,1513.1 L672.7,1516.7 L670.4,1520.8 L668.4,1525.4 L666.6,1530.5 L665.1,1536 L663.8,1541.9 L662.8,1548.2Z" fill="#77a458"/>
<path d="M663.4,1548.1 L662.6,1542.6 L661.5,1537.2 L660.1,1532 L658.4,1527 L656.6,1522.4 L654.5,1518.3 L652.1,1514.5 L649.5,1511.4 L646.6,1509.2 L643.5,1507.7 L640.3,1507.1 L637.2,1507.5 L634.4,1508.8 L631.7,1511.2 L631.7,1511.2 L634.7,1509.5 L637.5,1508.9 L640.1,1509.1 L642.5,1510 L644.8,1511.7 L647,1513.9 L649.3,1516.7 L651.6,1520 L653.8,1523.8 L655.8,1528.1 L657.6,1532.8 L659.2,1537.8 L660.5,1543 L661.5,1548.5Z" fill="#64934a"/>
<path d="M664.9,1548.5 L666.6,1541.5 L668.6,1535.8 L671,1531.2 L673.7,1527.7 L676.6,1525.2 L679.8,1523.5 L683.1,1522.7 L686.8,1522.3 L690.8,1522.4 L695.1,1523 L699.7,1524.2 L704.6,1525.8 L709.7,1527.8 L715,1530 L715,1530 L710,1527.1 L705.1,1524.5 L700.4,1522.3 L695.7,1520.6 L691.2,1519.4 L686.8,1518.8 L682.5,1519.2 L678.5,1520.6 L674.9,1522.8 L671.6,1525.9 L668.9,1529.9 L666.5,1534.9 L664.6,1541 L663.1,1548.1Z" fill="#4c7834"/>
<path d="M658.7,1548.1 L657.3,1542.2 L655.6,1537.1 L653.4,1533 L650.9,1529.8 L648,1527.4 L644.8,1525.7 L641.2,1524.8 L637.4,1524.7 L633.5,1525.4 L629.5,1526.6 L625.3,1528.2 L621,1530.1 L616.5,1532.4 L612,1535 L612,1535 L616.8,1533 L621.4,1531.2 L625.8,1529.6 L630,1528.5 L633.9,1527.8 L637.6,1527.5 L640.9,1527.6 L643.9,1528.2 L646.7,1529.4 L649.3,1531.4 L651.7,1534.2 L653.8,1537.9 L655.7,1542.6 L657.2,1548.5Z" fill="#5a8a3c"/>
</g>
<rect x="734.3" y="1530.8" width="4.3" height="27.4" fill="#fff"/>
<rect x="753.9" y="1363.2" width="167" height="199.5" fill="#0e0e0b"/>
<g clip-path="url(#cp4)">
<path d="M804.3,1546.7 L807.4,1562.7 L862.9,1562.7 L864.9,1546.7 Z" fill="#aa3224"/>
<ellipse cx="834.6" cy="1544.7" rx="33.8" ry="7.5" fill="#bb3b2b"/>
<ellipse cx="834.6" cy="1543.3" rx="30.3" ry="5" fill="#9d3a30"/>
<ellipse cx="834.6" cy="1544.9" rx="16.9" ry="3" fill="#3f332b"/>
<path d="M835.3,1546.2 L835.1,1527.4 L834.8,1510.3 L834.4,1494.6 L833.9,1480.2 L833.2,1466.8 L832.3,1454.3 L831.4,1442.6 L830.1,1431.3 L828.3,1420.5 L826.4,1409.8 L824.3,1399.2 L822.2,1388.3 L819.8,1377 L817.3,1365.2 L817.3,1365.2 L818.6,1377.2 L819.9,1388.6 L821.2,1399.6 L822.3,1410.4 L823.4,1421.2 L824.4,1432 L825.6,1443.2 L827,1454.8 L828.2,1467.2 L829.3,1480.5 L830.2,1494.8 L831,1510.4 L831.7,1527.5 L832.2,1546.2Z" fill="#4c7834"/>
<path d="M842,1546.2 L841.9,1530.5 L841,1516.2 L839.4,1503 L837.2,1490.9 L834.4,1479.6 L831.1,1469.1 L827.2,1459.2 L822.8,1449.8 L817.7,1440.8 L812.2,1432 L806.5,1423.2 L800.4,1414.3 L794.1,1405.1 L787.6,1395.4 L787.6,1395.4 L793.4,1405.5 L799.1,1415.2 L804.5,1424.4 L809.7,1433.5 L814.6,1442.5 L819.1,1451.6 L823.5,1460.8 L827.5,1470.4 L831,1480.6 L834.1,1491.6 L836.5,1503.5 L838.3,1516.4 L839.5,1530.6 L839.9,1546.2Z" fill="#5a8a3c"/>
<path d="M841.4,1546.2 L841.3,1530.8 L840.6,1516.7 L839.3,1503.7 L837.5,1491.8 L835.1,1480.8 L832.3,1470.4 L829,1460.6 L825.2,1451.4 L820.7,1442.6 L815.9,1434 L810.9,1425.4 L805.5,1416.7 L800,1407.6 L794.2,1398.2 L794.2,1398.2 L799,1408.2 L803.7,1417.7 L808.2,1426.8 L812.5,1435.7 L816.6,1444.6 L820.3,1453.5 L824,1462.6 L827.5,1471.9 L830.6,1481.9 L833.3,1492.6 L835.4,1504.3 L837,1517 L838.1,1530.9 L838.6,1546.2Z" fill="#6e9d50"/>
<path d="M839.4,1546.2 L840,1531.3 L841.2,1517.7 L842.8,1505.3 L844.8,1493.9 L847.3,1483.4 L850.1,1473.6 L853.2,1464.4 L856.6,1455.6 L860,1446.9 L863.8,1438.3 L867.8,1429.7 L872,1420.8 L876.4,1411.7 L881,1402 L881,1402 L875.7,1411.3 L870.6,1420.1 L865.8,1428.7 L861.2,1437.1 L856.9,1445.5 L852.9,1454.1 L849.4,1463.1 L846.5,1472.5 L843.9,1482.6 L841.7,1493.3 L839.9,1504.9 L838.6,1517.5 L837.7,1531.2 L837.2,1546.2Z" fill="#5f8e44"/>
<path d="M841,1546.2 L841.4,1532 L841.8,1519.1 L842.1,1507.3 L842.5,1496.4 L842.8,1486.4 L843.1,1477 L843.5,1468.2 L843.7,1459.7 L843.6,1451.6 L843.5,1443.5 L843.4,1435.5 L843.3,1427.2 L843.2,1418.7 L843.1,1409.7 L843.1,1409.7 L842.2,1418.6 L841.4,1427.1 L840.7,1435.4 L840.1,1443.4 L839.5,1451.5 L838.9,1459.6 L838.7,1468.1 L838.7,1476.9 L838.7,1486.3 L838.7,1496.4 L838.7,1507.2 L838.7,1519.1 L838.6,1532 L838.5,1546.2Z" fill="#527f38"/>
<path d="M840.9,1546.2 L841.5,1533.4 L842.3,1521.8 L843.3,1511.1 L844.5,1501.4 L846,1492.4 L847.6,1484 L849.4,1476.2 L851.2,1468.6 L852.8,1461.2 L854.6,1453.9 L856.5,1446.5 L858.5,1439 L860.7,1431.2 L862.9,1422.9 L862.9,1422.9 L859.7,1430.8 L856.7,1438.3 L853.8,1445.7 L851.1,1452.8 L848.6,1460 L846.3,1467.4 L844.4,1475.1 L843,1483.2 L841.7,1491.7 L840.6,1500.9 L839.7,1510.8 L839,1521.6 L838.5,1533.3 L838.2,1546.2Z" fill="#77a458"/>
<path d="M840.5,1546.3 L841.4,1534.6 L842.7,1524 L844.5,1514.3 L846.8,1505.5 L849.5,1497.3 L852.6,1489.8 L856.1,1482.7 L859.8,1475.9 L863.5,1469 L867.5,1462.2 L871.9,1455.4 L876.6,1448.4 L881.5,1441 L886.5,1433.3 L886.5,1433.3 L880.5,1440.3 L874.9,1447.1 L869.5,1453.6 L864.4,1460.1 L859.6,1466.5 L855.1,1473.2 L851.2,1480.3 L847.9,1487.8 L845.1,1495.8 L842.6,1504.3 L840.7,1513.5 L839.2,1523.5 L838.2,1534.3 L837.7,1546.1Z" fill="#64934a"/>
<path d="M836.3,1546.2 L836.7,1534.8 L837.6,1524.4 L838.8,1515 L840.5,1506.3 L842.4,1498.4 L844.7,1491 L847.3,1484 L850,1477.4 L852.6,1470.7 L855.4,1464.1 L858.5,1457.5 L861.7,1450.6 L865,1443.6 L868.4,1436.1 L868.4,1436.1 L864,1443 L859.9,1449.6 L855.9,1456.1 L852.1,1462.4 L848.5,1468.8 L845.1,1475.3 L842.3,1482.2 L840,1489.5 L838,1497.2 L836.3,1505.5 L835,1514.4 L834.1,1524.1 L833.6,1534.7 L833.5,1546.2Z" fill="#4c7834"/>
<path d="M842.7,1546.1 L842.4,1536 L841.1,1526.6 L839,1517.9 L835.9,1509.9 L832.1,1502.4 L827.5,1495.5 L822.2,1488.9 L816.2,1482.9 L809.4,1477.3 L802.1,1471.9 L794.5,1466.6 L786.5,1461.2 L778.2,1455.6 L769.5,1449.8 L769.5,1449.8 L777.4,1456.6 L785.1,1463 L792.6,1469.1 L799.6,1475.1 L806.2,1481 L812.2,1487 L818,1492.8 L823.2,1498.7 L827.9,1505 L831.8,1511.8 L835,1519.2 L837.5,1527.3 L839,1536.3 L839.7,1546.3Z" fill="#5a8a3c"/>
<path d="M841.7,1546.3 L842.7,1536.4 L844.3,1527.5 L846.6,1519.3 L849.4,1511.9 L852.8,1505.1 L856.6,1498.7 L861,1492.8 L865.7,1487 L870.7,1481.2 L876.1,1475.4 L881.9,1469.6 L888.1,1463.6 L894.6,1457.5 L901.4,1450.9 L901.4,1450.9 L894,1456.8 L887,1462.4 L880.3,1467.9 L874,1473.3 L868.1,1478.7 L862.5,1484.2 L857.6,1490.2 L853.3,1496.6 L849.5,1503.4 L846.3,1510.6 L843.7,1518.4 L841.6,1526.9 L840.2,1536.1 L839.5,1546.1Z" fill="#6e9d50"/>
<path d="M839.4,1546.3 L840.1,1537.7 L841.3,1529.9 L843,1522.9 L845.1,1516.5 L847.5,1510.7 L850.4,1505.2 L853.6,1500.2 L857,1495.2 L860.4,1490.2 L864.1,1485.1 L868.2,1480 L872.5,1474.8 L877,1469.3 L881.6,1463.5 L881.6,1463.5 L876.1,1468.5 L870.9,1473.2 L865.9,1477.9 L861.1,1482.5 L856.6,1487.1 L852.4,1491.9 L848.8,1497.1 L845.8,1502.8 L843.1,1508.7 L840.8,1515.1 L839,1521.9 L837.6,1529.3 L836.8,1537.4 L836.4,1546.1Z" fill="#5f8e44"/>
<path d="M835.6,1546.1 L835.1,1538 L833.9,1530.5 L832.1,1523.7 L829.7,1517.3 L826.7,1511.4 L823.2,1505.9 L819.3,1500.8 L814.8,1495.9 L809.7,1491.5 L804.3,1487.2 L798.5,1483 L792.4,1478.7 L786.1,1474.2 L779.4,1469.6 L779.4,1469.6 L785.5,1474.9 L791.5,1479.9 L797.1,1484.8 L802.4,1489.5 L807.3,1494.1 L811.9,1498.8 L816.2,1503.5 L820.2,1508.2 L823.7,1513.2 L826.7,1518.7 L829.2,1524.6 L831.2,1531.1 L832.7,1538.3 L833.5,1546.3Z" fill="#527f38"/>
<path d="M840.3,1546.2 L840.2,1538.8 L839.6,1532 L838.5,1525.7 L836.9,1519.9 L834.8,1514.5 L832.3,1509.4 L829.5,1504.7 L826.2,1500.3 L822.3,1496.3 L818.2,1492.4 L813.9,1488.6 L809.3,1484.8 L804.6,1480.8 L799.7,1476.7 L799.7,1476.7 L803.9,1481.6 L807.9,1486.2 L811.9,1490.6 L815.6,1494.9 L819,1499.2 L822.2,1503.5 L825.3,1507.6 L828.2,1511.8 L830.8,1516.4 L833.1,1521.3 L834.9,1526.6 L836.3,1532.5 L837.2,1539 L837.7,1546.2Z" fill="#77a458"/>
<path d="M841.9,1546.3 L843.2,1539.4 L845,1533.7 L847.1,1529.1 L849.6,1525.6 L852.3,1523.1 L855.4,1521.4 L858.9,1520.4 L862.7,1520 L867,1520 L871.7,1520.6 L876.8,1521.7 L882.2,1523.3 L888,1525.2 L894.2,1527.3 L894.2,1527.3 L888.3,1524.6 L882.6,1522.2 L877.2,1520.1 L872.1,1518.6 L867.2,1517.5 L862.6,1517.1 L858.3,1517.5 L854.3,1518.8 L850.8,1521 L847.7,1524.1 L845.2,1528.1 L843.1,1533 L841.5,1539 L840.4,1546.1Z" fill="#64934a"/>
<path d="M833.7,1546.2 L833.5,1530.2 L833.2,1515.7 L832.9,1502.4 L832.4,1490.1 L831.9,1478.8 L831.2,1468.2 L830.5,1458.2 L829.5,1448.7 L828,1439.5 L826.5,1430.5 L824.8,1421.4 L823,1412.2 L821.1,1402.7 L819,1392.7 L819,1392.7 L820,1402.9 L821,1412.5 L822,1421.9 L822.9,1431 L823.7,1440.1 L824.4,1449.3 L825.4,1458.7 L826.5,1468.6 L827.4,1479.1 L828.3,1490.4 L829.1,1502.6 L829.9,1515.8 L830.5,1530.3 L831.1,1546.2Z" fill="#4c7834"/>
<path d="M841.3,1546.2 L841.5,1533.3 L841.5,1521.5 L841.2,1510.7 L840.6,1500.8 L839.9,1491.5 L839,1482.9 L837.9,1474.8 L836.5,1467.1 L834.5,1459.7 L832.5,1452.5 L830.3,1445.3 L828.1,1437.9 L825.8,1430.3 L823.3,1422.3 L823.3,1422.3 L824.7,1430.6 L826.1,1438.4 L827.5,1445.9 L828.8,1453.3 L830.1,1460.7 L831.3,1468.1 L832.7,1475.7 L834.1,1483.6 L835.4,1492.1 L836.5,1501.1 L837.4,1510.9 L838,1521.6 L838.4,1533.3 L838.6,1546.2Z" fill="#5a8a3c"/>
<path d="M833.8,1546.2 L833.9,1535.1 L834.3,1525.1 L834.9,1515.9 L835.8,1507.5 L836.9,1499.8 L838.2,1492.6 L839.7,1485.8 L841.2,1479.3 L842.5,1472.9 L843.9,1466.6 L845.4,1460.3 L846.9,1453.8 L848.5,1447.1 L850,1440 L850,1440 L847.5,1446.8 L845.1,1453.3 L842.9,1459.5 L840.7,1465.7 L838.6,1471.9 L836.6,1478.2 L835.1,1484.8 L833.9,1491.8 L832.9,1499.2 L832.1,1507.1 L831.5,1515.7 L831.2,1525 L831.1,1535.1 L831.3,1546.2Z" fill="#6e9d50"/>
<path d="M834,1546.2 L833.7,1534 L833.2,1523 L832.5,1512.8 L831.7,1503.5 L830.6,1494.8 L829.3,1486.7 L827.9,1479.1 L826.1,1471.9 L823.8,1464.9 L821.4,1458.2 L818.8,1451.4 L816.1,1444.5 L813.2,1437.4 L810,1430 L810,1430 L812.2,1437.8 L814.3,1445.1 L816.3,1452.2 L818.2,1459.2 L819.9,1466.1 L821.5,1473.1 L823.2,1480.2 L824.9,1487.6 L826.5,1495.5 L827.9,1504 L829.1,1513.2 L830.1,1523.2 L830.9,1534.2 L831.5,1546.2Z" fill="#5f8e44"/>
<path d="M837.6,1546.2 L837.8,1533.1 L838.3,1521.2 L839.1,1510.3 L840,1500.4 L841.2,1491.1 L842.5,1482.5 L844.1,1474.4 L845.7,1466.7 L847.2,1459.2 L848.9,1451.7 L850.8,1444.3 L852.7,1436.6 L854.7,1428.7 L856.7,1420.4 L856.7,1420.4 L854.1,1428.6 L851.6,1436.3 L849.3,1443.9 L847.1,1451.2 L845,1458.6 L843,1466.1 L841.4,1473.9 L840,1482.1 L838.8,1490.8 L837.8,1500.1 L837.1,1510.2 L836.5,1521.1 L836.2,1533.1 L836.1,1546.2Z" fill="#4c7834" fill-opacity="0.85"/>
<path d="M836.2,1546.2 L836.3,1536.6 L836.4,1527.8 L836.5,1519.8 L836.7,1512.4 L837,1505.6 L837.2,1499.3 L837.5,1493.3 L837.7,1487.7 L837.7,1482.2 L837.7,1476.8 L837.8,1471.3 L837.8,1465.8 L837.8,1460.1 L837.8,1454.1 L837.8,1454.1 L837.2,1460.1 L836.7,1465.8 L836.2,1471.3 L835.7,1476.7 L835.3,1482.1 L834.9,1487.6 L834.7,1493.3 L834.6,1499.2 L834.5,1505.6 L834.5,1512.4 L834.5,1519.8 L834.5,1527.8 L834.6,1536.6 L834.8,1546.2Z" fill="#527f38" fill-opacity="0.85"/>
<path d="M832.9,1546.2 L832.9,1535.9 L833.2,1526.5 L833.8,1518 L834.7,1510.2 L835.8,1503 L837.1,1496.3 L838.6,1490 L840.2,1483.9 L841.7,1478 L843.3,1472.2 L845,1466.3 L846.8,1460.3 L848.6,1454.1 L850.3,1447.5 L850.3,1447.5 L847.9,1453.8 L845.6,1459.9 L843.3,1465.7 L841.1,1471.4 L839,1477.2 L837,1483.1 L835.5,1489.2 L834.1,1495.7 L833,1502.5 L832.1,1509.9 L831.5,1517.8 L831.1,1526.5 L831,1535.9 L831.2,1546.2Z" fill="#5a8a3c" fill-opacity="0.85"/>
<path d="M837.5,1546.2 L837.7,1534.1 L837.9,1523.1 L838.3,1513 L838.7,1503.7 L839.2,1495.2 L839.8,1487.2 L840.4,1479.7 L841,1472.6 L841.4,1465.6 L841.8,1458.8 L842.3,1451.9 L842.9,1444.9 L843.4,1437.6 L843.9,1430 L843.9,1430 L842.7,1437.5 L841.6,1444.7 L840.5,1451.7 L839.5,1458.5 L838.6,1465.4 L837.7,1472.3 L837.1,1479.5 L836.7,1487 L836.4,1495.1 L836.1,1503.6 L835.9,1512.9 L835.8,1523 L835.7,1534.1 L835.8,1546.2Z" fill="#77a458" fill-opacity="0.85"/>
<path d="M833.7,1546.2 L833.8,1531.9 L834.3,1518.8 L835.2,1506.9 L836.5,1495.9 L838.2,1485.8 L840.1,1476.3 L842.4,1467.5 L844.8,1459 L847.3,1450.7 L849.9,1442.5 L852.8,1434.3 L855.7,1425.9 L858.8,1417.1 L861.8,1408 L861.8,1408 L858.2,1416.9 L854.7,1425.5 L851.4,1433.7 L848.2,1441.8 L845.1,1450 L842.3,1458.2 L839.8,1466.8 L837.7,1475.8 L835.9,1485.4 L834.4,1495.6 L833.3,1506.7 L832.5,1518.7 L832.2,1531.8 L832.3,1546.2Z" fill="#6e9d50" fill-opacity="0.85"/>
<path d="M837,1546.2 L837.1,1531.8 L837.3,1518.6 L837.5,1506.6 L837.8,1495.5 L838.2,1485.3 L838.5,1475.8 L838.9,1466.8 L839.3,1458.2 L839.4,1449.9 L839.6,1441.7 L839.8,1433.5 L840,1425.1 L840.1,1416.4 L840.3,1407.3 L840.3,1407.3 L839.5,1416.4 L838.7,1425 L838.1,1433.4 L837.4,1441.6 L836.8,1449.8 L836.2,1458.1 L835.8,1466.7 L835.6,1475.7 L835.5,1485.2 L835.4,1495.5 L835.3,1506.6 L835.3,1518.6 L835.3,1531.8 L835.4,1546.2Z" fill="#64934a" fill-opacity="0.85"/>
<path d="M837.6,1546.2 L837.7,1534.2 L837.7,1523.3 L837.6,1513.3 L837.5,1504.1 L837.4,1495.6 L837.2,1487.7 L836.9,1480.3 L836.5,1473.2 L835.9,1466.3 L835.2,1459.6 L834.4,1452.8 L833.6,1445.9 L832.8,1438.8 L831.9,1431.3 L831.9,1431.3 L832.2,1438.8 L832.4,1446 L832.7,1452.9 L833,1459.7 L833.2,1466.5 L833.4,1473.4 L833.8,1480.4 L834.3,1487.9 L834.7,1495.7 L835.1,1504.2 L835.4,1513.4 L835.6,1523.3 L835.8,1534.2 L835.9,1546.2Z" fill="#5f8e44" fill-opacity="0.85"/>
<path d="M832.7,1546.2 L832.7,1532.6 L833.2,1520.2 L834,1508.9 L835.1,1498.6 L836.6,1489 L838.4,1480.1 L840.4,1471.7 L842.5,1463.7 L844.6,1455.8 L846.9,1448.1 L849.3,1440.2 L851.7,1432.3 L854.3,1424 L856.8,1415.3 L856.8,1415.3 L853.6,1423.7 L850.4,1431.8 L847.4,1439.6 L844.5,1447.3 L841.7,1454.9 L839.1,1462.7 L837,1470.9 L835.2,1479.4 L833.6,1488.5 L832.3,1498.2 L831.4,1508.7 L830.8,1520.1 L830.6,1532.6 L830.8,1546.2Z" fill="#4c7834" fill-opacity="0.85"/>
<path d="M833.5,1546.2 L833.4,1532.7 L833.2,1520.5 L833,1509.2 L832.8,1498.9 L832.6,1489.4 L832.3,1480.5 L832,1472.1 L831.6,1464.1 L830.9,1456.4 L830.1,1448.7 L829.3,1441.1 L828.4,1433.4 L827.4,1425.3 L826.3,1416.9 L826.3,1416.9 L826.7,1425.4 L827.1,1433.5 L827.5,1441.3 L827.9,1448.9 L828.2,1456.5 L828.4,1464.3 L828.9,1472.3 L829.4,1480.6 L829.9,1489.5 L830.3,1499 L830.7,1509.3 L831.1,1520.5 L831.5,1532.8 L831.9,1546.2Z" fill="#527f38" fill-opacity="0.85"/>
<path d="M837.8,1546.2 L838.1,1530.7 L838.6,1516.6 L839.4,1503.7 L840.5,1491.8 L841.7,1480.8 L843.2,1470.6 L844.9,1461 L846.6,1451.8 L848.4,1442.8 L850.3,1434 L852.3,1425.1 L854.5,1416 L856.7,1406.6 L859,1396.8 L859,1396.8 L856.2,1406.5 L853.5,1415.8 L851,1424.8 L848.5,1433.6 L846.3,1442.3 L844.1,1451.3 L842.4,1460.6 L840.9,1470.3 L839.5,1480.6 L838.4,1491.6 L837.6,1503.5 L836.9,1516.5 L836.6,1530.7 L836.5,1546.2Z" fill="#5a8a3c" fill-opacity="0.85"/>
<path d="M802.6,1544.7 A32 5.8 0 0 0 866.6,1544.7" fill="none" stroke="#bb3b2b" stroke-width="3.4"/>
<path d="M802.3,1547.2 A32.3 6.5 0 0 0 866.9,1547.2" fill="none" stroke="#d4604c" stroke-width="1.3" stroke-opacity="0.75"/>
<rect x="828.3" y="1524.5" width="3.8" height="25.3" fill="#f4f4f0"/>
</g>
<rect x="905.2" y="1530.6" width="4.3" height="27.4" fill="#fff"/>
<rect x="68.9" y="1601.4" width="165.9" height="199.2" fill="#0e0e0b"/>
<g clip-path="url(#cp5)">
<path d="M118.2,1779.8 L121.8,1800.6 L175.1,1800.6 L177.7,1779.8 Z" fill="#aa3224"/>
<ellipse cx="147.9" cy="1777.8" rx="33.2" ry="7.5" fill="#bb3b2b"/>
<ellipse cx="147.9" cy="1776.4" rx="29.7" ry="5" fill="#9d3a30"/>
<ellipse cx="147.9" cy="1778" rx="16.6" ry="3" fill="#3f332b"/>
<path d="M149,1779.2 L148.5,1766.3 L147.7,1754.5 L146.5,1743.6 L144.8,1733.6 L142.9,1724.3 L140.6,1715.7 L137.9,1707.5 L134.9,1699.7 L131.1,1692.4 L127.2,1685.2 L122.9,1678 L118.4,1670.7 L113.7,1663.2 L108.7,1655.4 L108.7,1655.4 L112.7,1663.8 L116.7,1671.7 L120.4,1679.4 L123.9,1686.8 L127.1,1694.3 L130.1,1701.7 L133.1,1709.3 L136,1717.1 L138.6,1725.5 L140.8,1734.4 L142.8,1744.2 L144.3,1754.8 L145.5,1766.5 L146.3,1779.4Z" fill="#77a458"/>
<path d="M157.1,1779.3 L157,1767.1 L156.2,1756 L154.8,1745.8 L152.7,1736.3 L150.1,1727.6 L147,1719.4 L143.3,1711.6 L139.2,1704.3 L134.3,1697.5 L129.2,1690.8 L123.7,1684.1 L118,1677.4 L112.1,1670.4 L105.9,1663.1 L105.9,1663.1 L111.3,1671 L116.6,1678.5 L121.6,1685.7 L126.5,1692.8 L131,1699.7 L135.2,1706.8 L139.2,1713.8 L143,1721.1 L146.3,1728.9 L149.2,1737.3 L151.4,1746.4 L153.2,1756.4 L154.3,1767.3 L154.7,1779.3Z" fill="#64934a"/>
<path d="M153.1,1779.3 L153.1,1767.2 L152.9,1756.1 L152.4,1745.9 L151.7,1736.6 L150.8,1728 L149.7,1719.9 L148.5,1712.3 L147,1705 L144.9,1698.1 L142.7,1691.3 L140.5,1684.6 L138,1677.7 L135.5,1670.6 L132.8,1663.1 L132.8,1663.1 L134.5,1670.9 L136.2,1678.2 L137.9,1685.3 L139.5,1692.2 L141,1699.1 L142.3,1706.1 L143.9,1713.2 L145.4,1720.6 L146.8,1728.5 L148,1737 L149,1746.2 L149.8,1756.2 L150.3,1767.2 L150.7,1779.3Z" fill="#4c7834"/>
<path d="M155,1779.3 L155.3,1766.2 L155.5,1754.2 L155.6,1743.3 L155.6,1733.2 L155.6,1723.9 L155.5,1715.2 L155.4,1707 L155.1,1699.2 L154.3,1691.7 L153.5,1684.3 L152.7,1676.8 L151.8,1669.3 L150.9,1661.4 L149.9,1653.2 L149.9,1653.2 L149.7,1661.5 L149.7,1669.4 L149.7,1677 L149.7,1684.5 L149.7,1691.9 L149.7,1699.5 L150.1,1707.2 L150.6,1715.4 L151,1724 L151.4,1733.3 L151.7,1743.3 L152,1754.2 L152.2,1766.2 L152.3,1779.3Z" fill="#5a8a3c"/>
<path d="M153.9,1779.3 L154.4,1766.1 L155.1,1754 L156,1743 L157.2,1732.9 L158.5,1723.5 L160,1714.9 L161.7,1706.7 L163.4,1698.9 L164.8,1691.2 L166.4,1683.6 L168,1676 L169.8,1668.2 L171.7,1660.1 L173.5,1651.5 L173.5,1651.5 L170.4,1659.7 L167.6,1667.5 L164.9,1675.1 L162.3,1682.5 L159.9,1690 L157.6,1697.6 L156,1705.6 L154.6,1714 L153.5,1722.9 L152.5,1732.4 L151.8,1742.6 L151.2,1753.8 L150.9,1766 L150.9,1779.3Z" fill="#6e9d50"/>
<path d="M154.5,1779.3 L155.1,1766.9 L155.8,1755.6 L156.8,1745.3 L158.1,1735.9 L159.5,1727.1 L161.2,1719 L163,1711.4 L164.9,1704.1 L166.6,1696.9 L168.5,1689.8 L170.5,1682.7 L172.7,1675.4 L175,1667.8 L177.3,1659.8 L177.3,1659.8 L174,1667.5 L171,1674.8 L168.1,1681.8 L165.3,1688.8 L162.8,1695.8 L160.4,1702.9 L158.5,1710.3 L156.9,1718.2 L155.5,1726.5 L154.4,1735.4 L153.5,1745 L152.8,1755.4 L152.3,1766.8 L152.1,1779.3Z" fill="#5f8e44"/>
<path d="M151.8,1779.3 L151.9,1767.4 L152.2,1756.6 L152.5,1746.7 L152.8,1737.7 L153.3,1729.3 L153.7,1721.5 L154.2,1714.1 L154.6,1707.1 L154.7,1700.3 L154.7,1693.6 L154.8,1686.8 L154.8,1679.9 L154.9,1672.8 L154.8,1665.3 L154.8,1665.3 L153.7,1672.7 L152.8,1679.8 L151.9,1686.6 L151,1693.3 L150.2,1700 L149.4,1706.8 L149,1713.9 L148.9,1721.3 L148.7,1729.1 L148.7,1737.6 L148.7,1746.7 L148.7,1756.6 L148.9,1767.4 L149.1,1779.3Z" fill="#527f38"/>
<path d="M154.4,1779.4 L155,1769.5 L155.9,1760.5 L157.2,1752.4 L158.8,1744.9 L160.6,1738.1 L162.8,1731.7 L165.2,1725.7 L167.7,1720 L170.2,1714.3 L172.9,1708.6 L175.9,1702.9 L179,1697 L182.3,1690.9 L185.6,1684.5 L185.6,1684.5 L181.4,1690.4 L177.5,1696.1 L173.7,1701.6 L170.2,1707 L166.8,1712.5 L163.7,1718.1 L161.1,1724 L158.9,1730.3 L157,1737 L155.3,1744.2 L154,1751.9 L153,1760.2 L152.4,1769.3 L152.1,1779.2Z" fill="#77a458"/>
<path d="M155.6,1779.2 L155.2,1768.8 L153.9,1759.1 L151.9,1750.2 L149,1742 L145.4,1734.4 L141.1,1727.3 L136.2,1720.6 L130.7,1714.3 L124.4,1708.5 L117.6,1702.8 L110.5,1697.2 L103.1,1691.6 L95.3,1685.7 L87.2,1679.6 L87.2,1679.6 L94.6,1686.5 L101.9,1693 L108.8,1699.3 L115.3,1705.4 L121.5,1711.5 L127.1,1717.6 L132.5,1723.7 L137.4,1729.8 L141.7,1736.4 L145.4,1743.5 L148.5,1751.3 L150.8,1759.7 L152.3,1769 L153,1779.4Z" fill="#64934a"/>
<path d="M155,1779.3 L154.8,1771.1 L154,1763.7 L152.6,1756.8 L150.6,1750.5 L148.1,1744.6 L145.1,1739.1 L141.7,1733.9 L137.8,1729.1 L133.3,1724.6 L128.6,1720.3 L123.5,1716 L118.2,1711.7 L112.7,1707.2 L107,1702.6 L107,1702.6 L112.1,1707.9 L117.1,1712.9 L121.9,1717.7 L126.5,1722.4 L130.7,1727.1 L134.6,1731.8 L138.4,1736.4 L141.9,1741.2 L144.9,1746.2 L147.5,1751.7 L149.7,1757.6 L151.3,1764.2 L152.4,1771.4 L152.9,1779.3Z" fill="#4c7834"/>
<path d="M150.9,1779.3 L151.2,1770.8 L151.8,1763.1 L152.7,1756 L153.8,1749.6 L155.2,1743.7 L156.9,1738.2 L158.7,1733.1 L160.6,1728.1 L162.5,1723.2 L164.4,1718.3 L166.6,1713.4 L168.8,1708.4 L171.2,1703.2 L173.5,1697.7 L173.5,1697.7 L170.4,1702.8 L167.4,1707.7 L164.6,1712.4 L161.9,1717.1 L159.3,1721.8 L156.9,1726.6 L154.9,1731.7 L153.3,1737.1 L151.9,1742.9 L150.7,1749 L149.8,1755.6 L149.1,1762.8 L148.8,1770.7 L148.8,1779.3Z" fill="#5a8a3c"/>
<path d="M151.9,1779.3 L152.4,1771.9 L153.1,1765.2 L154.3,1759.1 L155.8,1753.5 L157.5,1748.4 L159.5,1743.7 L161.8,1739.3 L164.3,1735.1 L166.6,1730.7 L169.2,1726.4 L172,1722.1 L175,1717.6 L178.1,1713 L181.2,1708.1 L181.2,1708.1 L177.3,1712.4 L173.6,1716.6 L170,1720.6 L166.6,1724.6 L163.4,1728.6 L160.4,1732.7 L157.9,1737.2 L155.7,1742 L153.9,1747.1 L152.3,1752.6 L151.1,1758.4 L150.2,1764.8 L149.7,1771.7 L149.6,1779.3Z" fill="#6e9d50"/>
<path d="M151.3,1779.3 L151.6,1774.1 L152.3,1769.4 L153.2,1765.2 L154.4,1761.3 L155.8,1757.9 L157.5,1754.6 L159.4,1751.6 L161.4,1748.7 L163.3,1745.7 L165.4,1742.6 L167.6,1739.6 L170.1,1736.4 L172.6,1733.1 L175.1,1729.6 L175.1,1729.6 L171.9,1732.4 L168.8,1735.2 L165.8,1737.9 L163,1740.6 L160.3,1743.3 L157.7,1746.1 L155.6,1749.3 L153.8,1752.7 L152.3,1756.4 L151,1760.3 L150,1764.5 L149.4,1769 L149,1773.9 L149,1779.3Z" fill="#5f8e44"/>
<path d="M156,1779.3 L156.1,1775.7 L155.8,1772.3 L155,1769.1 L153.9,1766.2 L152.4,1763.5 L150.6,1760.9 L148.5,1758.6 L146.1,1756.5 L143.3,1754.8 L140.4,1753.2 L137.3,1751.7 L134.1,1750.2 L130.8,1748.7 L127.3,1747.2 L127.3,1747.2 L130.2,1749.7 L133,1752 L135.7,1754.2 L138.3,1756.3 L140.7,1758.5 L142.8,1760.6 L145,1762.4 L147,1764.2 L148.7,1766.1 L150.2,1768.1 L151.4,1770.4 L152.4,1773 L153,1776 L153.3,1779.3Z" fill="#527f38"/>
<path d="M151.4,1779.4 L151.8,1775.7 L152.4,1772.5 L153.3,1769.7 L154.4,1767.1 L155.7,1764.9 L157.2,1762.8 L158.9,1760.8 L160.7,1758.9 L162.5,1756.7 L164.4,1754.5 L166.5,1752.3 L168.8,1750 L171.1,1747.6 L173.5,1745 L173.5,1745 L170.5,1746.7 L167.6,1748.4 L164.8,1750.1 L162.1,1751.8 L159.6,1753.5 L157.2,1755.4 L155.1,1757.6 L153.4,1760.1 L152,1762.8 L150.7,1765.6 L149.8,1768.6 L149.2,1771.9 L148.9,1775.5 L148.9,1779.2Z" fill="#77a458"/>
<path d="M150.2,1779.3 L150.2,1768.7 L150.1,1759 L150,1750.2 L149.9,1742.1 L149.8,1734.6 L149.7,1727.6 L149.5,1721 L149.1,1714.7 L148.2,1708.7 L147.3,1702.8 L146.3,1696.8 L145.2,1690.8 L144,1684.5 L142.7,1678 L142.7,1678 L142.8,1684.7 L142.9,1691 L143,1697.1 L143.1,1703.1 L143.2,1709.1 L143.2,1715.2 L143.7,1721.4 L144.3,1727.9 L144.8,1734.8 L145.3,1742.3 L145.8,1750.3 L146.3,1759.1 L146.7,1768.8 L147.1,1779.3Z" fill="#64934a"/>
<path d="M156.5,1779.3 L156.9,1768 L157.4,1757.6 L157.9,1748.1 L158.4,1739.4 L159,1731.3 L159.5,1723.9 L160.1,1716.8 L160.6,1710.1 L160.8,1703.6 L161,1697.1 L161.2,1690.7 L161.4,1684.1 L161.7,1677.2 L162,1670 L162,1670 L160.6,1677.1 L159.4,1683.8 L158.3,1690.4 L157.3,1696.8 L156.4,1703.2 L155.5,1709.7 L155,1716.5 L154.8,1723.6 L154.6,1731.1 L154.4,1739.2 L154.2,1748 L154.1,1757.5 L153.9,1767.9 L153.8,1779.3Z" fill="#4c7834"/>
<path d="M149.6,1779.3 L149.5,1772.2 L149.1,1765.8 L148.6,1759.9 L148,1754.4 L147.2,1749.4 L146.2,1744.7 L145.2,1740.3 L143.9,1736.2 L142.3,1732.2 L140.6,1728.3 L138.8,1724.5 L136.9,1720.6 L134.9,1716.6 L132.7,1712.3 L132.7,1712.3 L134.4,1716.8 L136,1721 L137.5,1725 L138.9,1729 L140.3,1733 L141.5,1737 L142.7,1741 L143.9,1745.3 L145,1749.8 L146,1754.7 L146.8,1760.1 L147.4,1765.9 L147.9,1772.3 L148.3,1779.3Z" fill="#77a458" fill-opacity="0.85"/>
<path d="M155.3,1779.3 L155.6,1769.7 L155.6,1760.8 L155.5,1752.8 L155.3,1745.4 L155,1738.5 L154.6,1732.2 L154,1726.2 L153.4,1720.4 L152.4,1714.9 L151.4,1709.5 L150.4,1704.1 L149.3,1698.6 L148.2,1693 L147.1,1687 L147.1,1687 L147.7,1693 L148.3,1698.8 L148.9,1704.4 L149.6,1709.8 L150.2,1715.3 L150.7,1720.8 L151.4,1726.4 L152.1,1732.4 L152.7,1738.7 L153.2,1745.5 L153.6,1752.8 L153.9,1760.9 L154,1769.6 L154,1779.3Z" fill="#6e9d50" fill-opacity="0.85"/>
<path d="M148.2,1779.3 L148,1769.9 L147.5,1761.3 L146.9,1753.5 L146.1,1746.3 L145.2,1739.6 L144.1,1733.4 L142.8,1727.5 L141.3,1721.9 L139.4,1716.6 L137.3,1711.4 L135.1,1706.2 L132.8,1700.9 L130.4,1695.5 L127.7,1689.8 L127.7,1689.8 L129.7,1695.8 L131.6,1701.4 L133.4,1706.9 L135.1,1712.2 L136.7,1717.5 L138.1,1722.8 L139.6,1728.3 L141.1,1734 L142.4,1740.1 L143.6,1746.6 L144.6,1753.7 L145.4,1761.5 L146.1,1770 L146.5,1779.3Z" fill="#64934a" fill-opacity="0.85"/>
<path d="M156.1,1779.3 L156.4,1771.9 L156.6,1765.1 L156.6,1759 L156.5,1753.3 L156.4,1748 L156.1,1743.2 L155.8,1738.6 L155.4,1734.2 L154.7,1730 L153.9,1725.9 L153.2,1721.8 L152.4,1717.7 L151.7,1713.4 L150.8,1708.9 L150.8,1708.9 L151.1,1713.5 L151.4,1717.8 L151.7,1722 L152,1726.2 L152.3,1730.3 L152.6,1734.5 L153.1,1738.8 L153.6,1743.4 L154,1748.2 L154.3,1753.4 L154.6,1759 L154.7,1765.1 L154.8,1771.9 L154.7,1779.3Z" fill="#5f8e44" fill-opacity="0.85"/>
<path d="M156.2,1779.3 L156.6,1770.2 L157.1,1762 L157.6,1754.4 L158.2,1747.5 L158.9,1741.1 L159.7,1735.1 L160.6,1729.5 L161.4,1724.2 L162.2,1719 L163,1713.9 L163.9,1708.8 L164.9,1703.5 L165.9,1698.1 L167,1692.4 L167,1692.4 L165.4,1698 L163.9,1703.3 L162.5,1708.4 L161.2,1713.5 L160,1718.6 L158.9,1723.8 L158,1729.2 L157.3,1734.8 L156.7,1740.8 L156.2,1747.3 L155.8,1754.3 L155.4,1761.9 L155.1,1770.2 L154.9,1779.3Z" fill="#4c7834" fill-opacity="0.85"/>
<path d="M148.2,1779.3 L148.1,1772.4 L148.1,1766 L148.2,1760.3 L148.3,1755 L148.5,1750.2 L148.7,1745.7 L149,1741.4 L149.2,1737.4 L149.3,1733.5 L149.3,1729.6 L149.3,1725.8 L149.3,1721.9 L149.3,1717.8 L149.1,1713.5 L149.1,1713.5 L148.7,1717.8 L148.2,1721.8 L147.8,1725.7 L147.3,1729.5 L146.8,1733.3 L146.4,1737.2 L146.2,1741.3 L146.1,1745.6 L146.1,1750.1 L146.1,1755 L146.1,1760.3 L146.2,1766.1 L146.5,1772.4 L146.8,1779.3Z" fill="#527f38" fill-opacity="0.85"/>
<path d="M156.6,1779.3 L156.9,1769.6 L156.8,1760.7 L156.6,1752.6 L156,1745.1 L155.3,1738.2 L154.4,1731.7 L153.3,1725.6 L152,1719.9 L150.4,1714.3 L148.7,1708.9 L146.9,1703.5 L145.1,1698 L143.2,1692.3 L141.2,1686.3 L141.2,1686.3 L142.6,1692.4 L144.1,1698.3 L145.5,1703.9 L146.9,1709.4 L148.2,1714.9 L149.4,1720.5 L150.7,1726.2 L151.9,1732.1 L153,1738.5 L153.9,1745.3 L154.6,1752.7 L155.1,1760.7 L155.3,1769.6 L155.2,1779.3Z" fill="#5a8a3c" fill-opacity="0.85"/>
<path d="M155.6,1779.3 L155.9,1769.2 L156.4,1759.9 L157,1751.5 L157.8,1743.8 L158.6,1736.6 L159.6,1730 L160.6,1723.8 L161.7,1717.8 L162.7,1712 L163.8,1706.2 L165,1700.5 L166.3,1694.6 L167.6,1688.5 L169,1682.1 L169,1682.1 L167.1,1688.4 L165.3,1694.4 L163.6,1700.1 L162,1705.8 L160.5,1711.5 L159.1,1717.3 L158,1723.3 L157.1,1729.6 L156.4,1736.4 L155.7,1743.6 L155.1,1751.4 L154.7,1759.9 L154.4,1769.1 L154.2,1779.3Z" fill="#77a458" fill-opacity="0.85"/>
<path d="M148,1779.3 L147.7,1772.3 L147.3,1766 L146.8,1760.2 L146.1,1754.9 L145.3,1750 L144.3,1745.4 L143.2,1741 L141.8,1736.9 L140.2,1733.1 L138.4,1729.3 L136.4,1725.6 L134.4,1721.8 L132.2,1717.9 L129.9,1713.8 L129.9,1713.8 L131.6,1718.2 L133.2,1722.3 L134.8,1726.3 L136.3,1730.2 L137.6,1734.1 L138.8,1738 L140.1,1742 L141.4,1746.1 L142.5,1750.5 L143.6,1755.3 L144.5,1760.5 L145.2,1766.2 L145.8,1772.5 L146.3,1779.3Z" fill="#6e9d50" fill-opacity="0.85"/>
<path d="M150.7,1779.3 L150.6,1770.5 L150.4,1762.5 L150,1755.2 L149.5,1748.5 L148.8,1742.3 L148,1736.5 L147,1731 L145.9,1725.8 L144.4,1720.9 L142.8,1716 L141.1,1711.2 L139.4,1706.2 L137.5,1701.2 L135.5,1695.8 L135.5,1695.8 L136.8,1701.4 L138.2,1706.6 L139.4,1711.7 L140.6,1716.6 L141.8,1721.6 L142.8,1726.6 L143.9,1731.6 L145,1737 L146,1742.7 L146.9,1748.8 L147.7,1755.4 L148.3,1762.6 L148.7,1770.6 L149,1779.3Z" fill="#64934a" fill-opacity="0.85"/>
<path d="M116.5,1777.8 A31.4 5.8 0 0 0 179.4,1777.8" fill="none" stroke="#bb3b2b" stroke-width="3.4"/>
<path d="M116.2,1780.3 A31.7 6.5 0 0 0 179.7,1780.3" fill="none" stroke="#d4604c" stroke-width="1.3" stroke-opacity="0.75"/>
</g>
<rect x="220.2" y="1764.7" width="4.3" height="28.1" fill="#fff"/>
<rect x="239.3" y="1601.4" width="165.9" height="199.2" fill="#0e0e0b"/>
<g clip-path="url(#cp6)">
<path d="M285.4,1784.7 L288.5,1800.6 L342.8,1800.6 L345.4,1784.7 Z" fill="#aa3224"/>
<ellipse cx="315.4" cy="1782.7" rx="33.5" ry="7.5" fill="#bb3b2b"/>
<ellipse cx="315.4" cy="1781.3" rx="30" ry="5" fill="#9d3a30"/>
<ellipse cx="315.4" cy="1782.9" rx="16.8" ry="3" fill="#3f332b"/>
<path d="M316.5,1784.2 L316.2,1766 L315.6,1749.4 L314.7,1734.1 L313.6,1720.1 L312.2,1707.1 L310.5,1695 L308.7,1683.5 L306.4,1672.6 L303.6,1662.1 L300.5,1651.8 L297.3,1641.5 L293.8,1631 L290.2,1620.1 L286.3,1608.7 L286.3,1608.7 L289.1,1620.4 L291.9,1631.5 L294.5,1642.2 L296.9,1652.7 L299.2,1663.1 L301.3,1673.7 L303.6,1684.5 L305.8,1695.7 L307.7,1707.7 L309.5,1720.5 L310.9,1734.4 L312.1,1749.5 L313.1,1766.1 L313.7,1784.2Z" fill="#5f8e44"/>
<path d="M315.7,1784.2 L315.9,1766.3 L316.6,1750 L317.6,1735 L319,1721.3 L320.8,1708.7 L322.8,1696.9 L325.1,1685.8 L327.4,1675.2 L329.6,1664.8 L331.9,1654.4 L334.4,1644.1 L337,1633.5 L339.7,1622.5 L342.3,1610.9 L342.3,1610.9 L338.5,1622.1 L334.8,1632.8 L331.3,1643.2 L328,1653.4 L324.8,1663.5 L321.8,1673.9 L319.4,1684.7 L317.5,1696 L315.9,1708 L314.5,1720.9 L313.5,1734.7 L312.8,1749.8 L312.5,1766.2 L312.7,1784.2Z" fill="#527f38"/>
<path d="M316.3,1784.2 L315.9,1769.1 L315.2,1755.4 L314.2,1742.7 L312.9,1731.1 L311.2,1720.4 L309.3,1710.3 L307.1,1700.8 L304.5,1691.8 L301.3,1683.2 L297.8,1674.7 L294.2,1666.3 L290.3,1657.7 L286.3,1648.8 L281.9,1639.5 L281.9,1639.5 L285.3,1649.2 L288.5,1658.4 L291.7,1667.3 L294.6,1675.9 L297.3,1684.5 L299.8,1693.3 L302.4,1702.1 L304.9,1711.3 L307.1,1721.2 L309,1731.7 L310.7,1743.1 L312,1755.6 L313,1769.3 L313.7,1784.2Z" fill="#77a458"/>
<path d="M322.3,1784.2 L322.4,1768.4 L322.2,1753.9 L321.7,1740.6 L320.9,1728.4 L319.9,1717.1 L318.6,1706.6 L317.1,1696.6 L315.3,1687.1 L312.8,1678 L310.2,1669.1 L307.4,1660.1 L304.5,1651.1 L301.5,1641.7 L298.3,1631.8 L298.3,1631.8 L300.3,1642 L302.3,1651.6 L304.3,1660.9 L306.2,1670.1 L308,1679.1 L309.6,1688.3 L311.5,1697.6 L313.3,1707.4 L315,1717.7 L316.4,1728.9 L317.6,1740.9 L318.4,1754.1 L319,1768.4 L319.3,1784.2Z" fill="#64934a"/>
<path d="M320.3,1784.2 L320.4,1768.5 L320.3,1754.1 L320.1,1741 L319.7,1728.9 L319.2,1717.7 L318.5,1707.3 L317.8,1697.4 L316.7,1688.1 L315.2,1679 L313.5,1670.1 L311.8,1661.2 L310,1652.1 L308.1,1642.8 L306,1632.9 L306,1632.9 L306.9,1642.9 L307.9,1652.5 L308.9,1661.6 L309.8,1670.6 L310.6,1679.6 L311.4,1688.7 L312.5,1698 L313.6,1707.7 L314.6,1718.1 L315.5,1729.2 L316.2,1741.2 L316.8,1754.2 L317.3,1768.5 L317.5,1784.2Z" fill="#4c7834"/>
<path d="M319.9,1784.2 L320.4,1769.8 L321.1,1756.7 L322.1,1744.7 L323.4,1733.7 L324.9,1723.5 L326.5,1714 L328.4,1705.2 L330.3,1696.6 L332,1688.3 L333.9,1680 L335.8,1671.7 L337.9,1663.2 L340.1,1654.3 L342.3,1645 L342.3,1645 L338.9,1654 L335.8,1662.5 L332.8,1670.8 L330,1678.9 L327.3,1687 L324.8,1695.3 L322.9,1704 L321.4,1713.1 L320,1722.8 L318.9,1733.2 L318.1,1744.3 L317.4,1756.5 L317.1,1769.7 L317,1784.2Z" fill="#5a8a3c"/>
<path d="M316.7,1784.2 L316.5,1770.7 L315.9,1758.4 L315,1747 L313.9,1736.6 L312.5,1727 L310.8,1718 L308.9,1709.5 L306.6,1701.4 L303.7,1693.7 L300.6,1686.1 L297.3,1678.6 L293.9,1671 L290.2,1663.1 L286.3,1654.8 L286.3,1654.8 L289.1,1663.5 L291.9,1671.7 L294.6,1679.7 L297.1,1687.4 L299.4,1695.1 L301.5,1702.9 L303.7,1710.8 L306,1719.1 L307.9,1727.8 L309.7,1737.3 L311.2,1747.5 L312.4,1758.6 L313.3,1770.8 L314,1784.2Z" fill="#6e9d50"/>
<path d="M320.4,1784.2 L320.7,1771.6 L321.2,1760 L321.7,1749.5 L322.4,1739.8 L323.1,1730.9 L323.9,1722.6 L324.8,1714.8 L325.7,1707.3 L326.2,1700 L326.9,1692.8 L327.5,1685.6 L328.2,1678.2 L329,1670.6 L329.7,1662.5 L329.7,1662.5 L327.9,1670.4 L326.3,1677.9 L324.8,1685.2 L323.4,1692.3 L322.1,1699.5 L320.8,1706.7 L320,1714.3 L319.4,1722.2 L318.9,1730.6 L318.5,1739.6 L318.2,1749.4 L317.9,1759.9 L317.8,1771.5 L317.8,1784.2Z" fill="#5f8e44"/>
<path d="M318.5,1784.2 L318.9,1771.4 L319.7,1759.8 L320.9,1749.2 L322.4,1739.4 L324.2,1730.4 L326.3,1722.1 L328.7,1714.2 L331.3,1706.7 L333.8,1699.3 L336.5,1691.9 L339.4,1684.5 L342.5,1677 L345.7,1669.2 L348.9,1660.9 L348.9,1660.9 L344.9,1668.8 L341,1676.3 L337.3,1683.6 L333.9,1690.8 L330.6,1698 L327.5,1705.3 L324.9,1713 L322.7,1721.1 L320.8,1729.7 L319.2,1738.9 L318,1748.8 L317.1,1759.6 L316.5,1771.3 L316.4,1784.2Z" fill="#527f38"/>
<path d="M320,1784.3 L320.8,1771.5 L322.4,1759.9 L324.6,1749.4 L327.4,1739.7 L330.8,1730.9 L334.8,1722.6 L339.2,1714.9 L344.1,1707.4 L349.1,1699.9 L354.5,1692.5 L360.4,1685 L366.5,1677.3 L373,1669.3 L379.7,1660.9 L379.7,1660.9 L372.2,1668.6 L365.1,1676 L358.3,1683.2 L351.8,1690.3 L345.8,1697.4 L340.1,1704.6 L335.1,1712.4 L330.7,1720.6 L326.9,1729.3 L323.7,1738.6 L321.1,1748.6 L319.2,1759.4 L318,1771.3 L317.5,1784.1Z" fill="#77a458"/>
<path d="M320.6,1784.2 L321.2,1772.8 L322.2,1762.4 L323.6,1753 L325.3,1744.3 L327.4,1736.3 L329.7,1728.9 L332.4,1722 L335.2,1715.3 L338,1708.7 L341,1702.1 L344.2,1695.4 L347.6,1688.6 L351.2,1681.6 L354.9,1674.1 L354.9,1674.1 L350.3,1681 L346,1687.7 L341.8,1694.1 L337.9,1700.4 L334.2,1706.8 L330.7,1713.3 L327.9,1720.2 L325.4,1727.5 L323.3,1735.2 L321.5,1743.5 L320.1,1752.4 L319,1762.1 L318.3,1772.6 L318,1784.2Z" fill="#64934a"/>
<path d="M323.7,1784.2 L323.6,1774 L322.7,1764.6 L321.1,1755.9 L318.9,1748 L316,1740.6 L312.6,1733.6 L308.6,1727.1 L304.1,1721 L298.8,1715.3 L293.2,1709.8 L287.3,1704.4 L281.2,1698.9 L274.8,1693.2 L268.1,1687.3 L268.1,1687.3 L274,1694 L279.7,1700.4 L285.2,1706.5 L290.5,1712.4 L295.4,1718.3 L299.9,1724.3 L304.2,1730.1 L308.3,1736.1 L311.8,1742.5 L314.9,1749.4 L317.4,1756.9 L319.2,1765.1 L320.4,1774.2 L320.9,1784.2Z" fill="#4c7834"/>
<path d="M320.7,1784.2 L320.6,1774.8 L320.1,1766.2 L319.1,1758.3 L317.8,1751 L316.1,1744.3 L314.1,1738 L311.7,1732 L309,1726.4 L305.7,1721.2 L302.2,1716.1 L298.5,1711 L294.6,1705.8 L290.6,1700.5 L286.3,1695 L286.3,1695 L289.7,1701.1 L293.1,1706.8 L296.4,1712.3 L299.5,1717.7 L302.4,1723.1 L305,1728.5 L307.7,1733.9 L310.2,1739.5 L312.4,1745.4 L314.4,1751.9 L315.9,1758.9 L317.2,1766.5 L318,1774.9 L318.4,1784.2Z" fill="#5a8a3c"/>
<path d="M318.2,1784.3 L319.6,1774.1 L321.6,1765.1 L324,1757.3 L326.9,1750.7 L330.3,1745.2 L334,1740.7 L338,1737.3 L342.3,1734.7 L346.7,1732.7 L351.6,1731.5 L356.8,1731.1 L362.3,1731.5 L368.1,1732.7 L374.2,1734.5 L374.2,1734.5 L368.4,1731.9 L362.6,1730.1 L356.9,1729.1 L351.3,1728.9 L345.8,1729.6 L340.6,1731.3 L335.8,1734.3 L331.4,1738.3 L327.6,1743.3 L324.3,1749.3 L321.4,1756.4 L319.2,1764.5 L317.4,1773.7 L316.3,1784.1Z" fill="#6e9d50"/>
<path d="M317.7,1784.2 L318,1767.4 L318.5,1752.1 L319.2,1738.1 L320.1,1725.2 L321.2,1713.3 L322.5,1702.2 L324,1691.8 L325.5,1681.8 L326.8,1672 L328.2,1662.4 L329.7,1652.8 L331.3,1642.9 L333,1632.7 L334.6,1621.9 L334.6,1621.9 L332.1,1632.5 L329.7,1642.6 L327.4,1652.3 L325.2,1661.9 L323.1,1671.4 L321.2,1681.1 L319.7,1691.2 L318.5,1701.8 L317.5,1713 L316.7,1724.9 L316,1737.9 L315.6,1752 L315.4,1767.4 L315.5,1784.2Z" fill="#5f8e44"/>
<path d="M318,1784.2 L318.1,1770.3 L318.2,1757.5 L318.2,1745.9 L318.3,1735.2 L318.3,1725.3 L318.3,1716.1 L318.4,1707.4 L318.2,1699.1 L317.8,1691.1 L317.3,1683.2 L316.8,1675.2 L316.3,1667.2 L315.7,1658.8 L315,1650 L315,1650 L314.8,1658.8 L314.6,1667.2 L314.4,1675.3 L314.3,1683.2 L314.1,1691.1 L313.9,1699.2 L314.1,1707.5 L314.3,1716.1 L314.6,1725.3 L314.8,1735.2 L315.1,1745.9 L315.3,1757.6 L315.6,1770.3 L315.8,1784.2Z" fill="#527f38"/>
<path d="M316.3,1784.2 L316.5,1772.9 L316.9,1762.6 L317.7,1753.2 L318.8,1744.6 L320.2,1736.7 L321.8,1729.3 L323.6,1722.4 L325.5,1715.7 L327.3,1709.2 L329.3,1702.8 L331.5,1696.3 L333.7,1689.6 L336,1682.8 L338.3,1675.5 L338.3,1675.5 L335.2,1682.5 L332.4,1689.1 L329.6,1695.6 L326.9,1701.9 L324.4,1708.2 L322.1,1714.7 L320.1,1721.5 L318.5,1728.6 L317.1,1736.1 L316,1744.2 L315.1,1753 L314.6,1762.5 L314.3,1772.9 L314.5,1784.2Z" fill="#5f8e44" fill-opacity="0.85"/>
<path d="M322.7,1784.2 L322.9,1770.8 L323,1758.5 L323,1747.3 L322.8,1737 L322.6,1727.5 L322.2,1718.6 L321.8,1710.2 L321.2,1702.2 L320.3,1694.5 L319.4,1686.9 L318.5,1679.2 L317.5,1671.5 L316.5,1663.5 L315.5,1655 L315.5,1655 L315.9,1663.5 L316.4,1671.6 L317,1679.4 L317.5,1687 L318,1694.7 L318.5,1702.4 L319.1,1710.4 L319.7,1718.7 L320.3,1727.6 L320.7,1737.1 L321.1,1747.3 L321.3,1758.5 L321.3,1770.8 L321.3,1784.2Z" fill="#4c7834" fill-opacity="0.85"/>
<path d="M322.5,1784.2 L322.7,1771.3 L322.5,1759.5 L322.1,1748.7 L321.5,1738.7 L320.6,1729.5 L319.5,1720.9 L318.1,1712.8 L316.6,1705.1 L314.7,1697.7 L312.6,1690.4 L310.5,1683.1 L308.2,1675.7 L305.9,1668 L303.5,1660 L303.5,1660 L305.3,1668.2 L307.1,1676 L308.9,1683.5 L310.6,1690.9 L312.2,1698.3 L313.7,1705.7 L315.3,1713.4 L316.8,1721.3 L318.1,1729.8 L319.2,1738.9 L320,1748.8 L320.6,1759.5 L321,1771.3 L321,1784.2Z" fill="#527f38" fill-opacity="0.85"/>
<path d="M316.3,1784.2 L316.3,1769.7 L316.5,1756.5 L316.7,1744.5 L317,1733.4 L317.5,1723.2 L318,1713.6 L318.5,1704.6 L319.1,1696 L319.5,1687.7 L319.9,1679.4 L320.3,1671.2 L320.8,1662.8 L321.2,1654.1 L321.6,1644.9 L321.6,1644.9 L320.6,1654 L319.6,1662.7 L318.7,1671.1 L317.8,1679.3 L317,1687.5 L316.2,1695.8 L315.7,1704.4 L315.3,1713.5 L315,1723.1 L314.7,1733.3 L314.6,1744.4 L314.6,1756.5 L314.6,1769.7 L314.8,1784.2Z" fill="#5a8a3c" fill-opacity="0.85"/>
<path d="M321.6,1784.2 L321.9,1773.8 L322.3,1764.3 L322.8,1755.6 L323.3,1747.6 L324,1740.3 L324.7,1733.5 L325.5,1727 L326.3,1720.9 L327,1714.9 L327.8,1709 L328.6,1703.1 L329.5,1697.1 L330.4,1690.8 L331.3,1684.3 L331.3,1684.3 L329.8,1690.7 L328.4,1696.9 L327.1,1702.8 L325.9,1708.7 L324.8,1714.6 L323.7,1720.5 L322.9,1726.7 L322.3,1733.2 L321.7,1740.1 L321.2,1747.5 L320.8,1755.5 L320.5,1764.2 L320.3,1773.7 L320.2,1784.2Z" fill="#77a458" fill-opacity="0.85"/>
<path d="M321.2,1784.2 L321.4,1769.7 L321.5,1756.4 L321.5,1744.3 L321.3,1733.1 L321.1,1722.8 L320.9,1713.2 L320.5,1704.1 L320.1,1695.5 L319.3,1687.1 L318.5,1678.9 L317.7,1670.6 L316.9,1662.2 L316,1653.5 L315.1,1644.3 L315.1,1644.3 L315.4,1653.5 L315.8,1662.3 L316.1,1670.7 L316.5,1679 L316.9,1687.3 L317.2,1695.7 L317.7,1704.3 L318.2,1713.3 L318.7,1722.9 L319.1,1733.2 L319.4,1744.3 L319.6,1756.4 L319.7,1769.7 L319.7,1784.2Z" fill="#6e9d50" fill-opacity="0.85"/>
<path d="M322.7,1784.2 L323.2,1773.9 L323.9,1764.5 L324.9,1755.8 L326.1,1748 L327.5,1740.7 L329.2,1733.9 L331,1727.6 L333,1721.5 L334.9,1715.6 L337.1,1709.7 L339.3,1703.8 L341.8,1697.7 L344.3,1691.4 L347,1684.8 L347,1684.8 L343.8,1691.2 L340.7,1697.3 L337.9,1703.1 L335.2,1708.9 L332.6,1714.7 L330.2,1720.6 L328.3,1726.8 L326.6,1733.3 L325.1,1740.2 L323.8,1747.6 L322.8,1755.6 L322,1764.3 L321.5,1773.8 L321.2,1784.2Z" fill="#64934a" fill-opacity="0.85"/>
<path d="M315.4,1784.2 L315.5,1773.5 L316.2,1763.9 L317.2,1755 L318.6,1746.9 L320.5,1739.5 L322.6,1732.6 L325.1,1726.1 L327.7,1719.8 L330.3,1713.7 L333.2,1707.6 L336.2,1701.4 L339.4,1695.1 L342.7,1688.6 L346,1681.7 L346,1681.7 L342,1688.2 L338.2,1694.4 L334.5,1700.5 L330.9,1706.4 L327.6,1712.3 L324.4,1718.4 L321.7,1724.8 L319.4,1731.5 L317.5,1738.7 L315.8,1746.4 L314.6,1754.7 L313.8,1763.7 L313.4,1773.5 L313.5,1784.2Z" fill="#5f8e44" fill-opacity="0.85"/>
<path d="M316.8,1784.2 L316.6,1774.8 L316.2,1766.3 L315.6,1758.5 L314.8,1751.3 L313.7,1744.6 L312.5,1738.4 L311.1,1732.6 L309.5,1727 L307.4,1721.7 L305.3,1716.5 L303,1711.3 L300.6,1706.1 L298,1700.6 L295.3,1694.9 L295.3,1694.9 L297.5,1700.9 L299.6,1706.5 L301.6,1711.9 L303.4,1717.2 L305.2,1722.5 L306.8,1727.9 L308.4,1733.3 L310,1739 L311.4,1745.1 L312.6,1751.6 L313.6,1758.7 L314.4,1766.4 L315,1774.9 L315.3,1784.2Z" fill="#4c7834" fill-opacity="0.85"/>
<path d="M321.4,1784.2 L321.6,1769 L321.8,1755 L322,1742.3 L322.1,1730.6 L322.2,1719.7 L322.2,1709.6 L322.3,1700.1 L322.2,1691 L321.9,1682.2 L321.6,1673.6 L321.2,1664.9 L320.9,1656 L320.5,1646.8 L320.1,1637.1 L320.1,1637.1 L319.8,1646.8 L319.6,1656 L319.4,1664.9 L319.2,1673.6 L319,1682.3 L318.9,1691.1 L319,1700.1 L319.1,1709.7 L319.3,1719.8 L319.4,1730.6 L319.5,1742.3 L319.6,1755 L319.7,1768.9 L319.6,1784.2Z" fill="#527f38" fill-opacity="0.85"/>
<path d="M283.7,1782.7 A31.7 5.8 0 0 0 347.1,1782.7" fill="none" stroke="#bb3b2b" stroke-width="3.4"/>
<path d="M283.4,1785.2 A32 6.5 0 0 0 347.4,1785.2" fill="none" stroke="#d4604c" stroke-width="1.3" stroke-opacity="0.75"/>
</g>
<rect x="392.8" y="1764.7" width="4.3" height="28.1" fill="#fff"/>
<rect x="410.5" y="1601.4" width="166.2" height="199.2" fill="#0e0e0b"/>
<g clip-path="url(#cp7)">
<path d="M463,1782.5 L466,1800.6 L519.9,1800.6 L522.4,1782.5 Z" fill="#aa3224"/>
<ellipse cx="492.7" cy="1780.5" rx="33.2" ry="7.5" fill="#bb3b2b"/>
<ellipse cx="492.7" cy="1779.1" rx="29.7" ry="5" fill="#9d3a30"/>
<ellipse cx="492.7" cy="1780.7" rx="16.6" ry="3" fill="#3f332b"/>
<path d="M493.5,1782 L493.7,1770.6 L493.8,1760.2 L494.1,1750.7 L494.3,1741.9 L494.6,1733.8 L495,1726.3 L495.3,1719.3 L495.5,1712.5 L495.3,1706 L495.2,1699.5 L495,1693 L494.7,1686.4 L494.5,1679.6 L494.1,1672.4 L494.1,1672.4 L493.3,1679.5 L492.5,1686.3 L491.8,1692.9 L491.2,1699.4 L490.5,1705.8 L489.9,1712.3 L489.7,1719.1 L489.8,1726.2 L489.8,1733.8 L489.9,1741.9 L490,1750.6 L490.1,1760.2 L490.3,1770.6 L490.6,1782Z" fill="#5a8a3c"/>
<path d="M493.1,1781.9 L492.6,1772.8 L491.5,1764.3 L489.8,1756.6 L487.6,1749.5 L484.8,1742.8 L481.5,1736.6 L477.8,1730.8 L473.5,1725.3 L468.7,1720.3 L463.5,1715.3 L458,1710.4 L452.2,1705.5 L446.1,1700.3 L439.7,1695 L439.7,1695 L445.5,1701 L451,1706.6 L456.4,1712.1 L461.4,1717.4 L466.1,1722.7 L470.3,1728 L474.4,1733.2 L478.2,1738.6 L481.6,1744.4 L484.5,1750.6 L486.9,1757.4 L488.8,1764.9 L490.2,1773 L490.9,1782.1Z" fill="#6e9d50"/>
<path d="M494.6,1782.1 L495.4,1772 L496.9,1763 L498.9,1754.7 L501.6,1747.2 L504.9,1740.4 L508.6,1734 L512.9,1728 L517.4,1722.2 L522.2,1716.2 L527.3,1710.3 L532.9,1704.3 L538.7,1698.2 L544.9,1691.9 L551.2,1685.1 L551.2,1685.1 L544.1,1691 L537.3,1696.7 L530.8,1702.2 L524.6,1707.6 L518.7,1713.1 L513.3,1718.7 L508.5,1724.8 L504.3,1731.4 L500.7,1738.3 L497.6,1745.7 L495.2,1753.7 L493.4,1762.3 L492.2,1771.7 L491.8,1781.9Z" fill="#5f8e44"/>
<path d="M496.4,1782 L496.2,1773.1 L495.6,1765 L494.6,1757.5 L493.1,1750.6 L491.2,1744.2 L488.9,1738.2 L486.3,1732.6 L483.3,1727.3 L479.8,1722.3 L476,1717.5 L472,1712.7 L467.8,1707.9 L463.5,1702.9 L458.9,1697.7 L458.9,1697.7 L462.8,1703.5 L466.5,1708.9 L470.2,1714.1 L473.6,1719.2 L476.8,1724.3 L479.8,1729.4 L482.7,1734.5 L485.4,1739.8 L487.8,1745.4 L489.9,1751.5 L491.6,1758.1 L492.9,1765.3 L493.8,1773.2 L494.2,1782Z" fill="#527f38"/>
<path d="M494.6,1782 L495,1773 L495.7,1764.8 L496.7,1757.4 L498,1750.6 L499.5,1744.3 L501.2,1738.5 L503.2,1733 L505.2,1727.8 L507.1,1722.6 L509.2,1717.4 L511.4,1712.2 L513.8,1706.9 L516.3,1701.4 L518.8,1695.5 L518.8,1695.5 L515.4,1700.9 L512.3,1706.1 L509.2,1711.1 L506.4,1716 L503.7,1721 L501.1,1726.1 L499,1731.6 L497.3,1737.3 L495.8,1743.4 L494.6,1749.9 L493.6,1756.9 L492.9,1764.6 L492.4,1772.9 L492.3,1782Z" fill="#77a458"/>
<path d="M490.4,1782 L490.8,1773.4 L491.8,1765.6 L493.4,1758.6 L495.5,1752.2 L498.1,1746.3 L501.2,1740.9 L504.6,1735.8 L508.3,1730.9 L512,1725.7 L516.1,1720.6 L520.5,1715.5 L525.1,1710.2 L529.9,1704.7 L534.7,1698.8 L534.7,1698.8 L528.9,1703.8 L523.4,1708.5 L518.1,1713.2 L513.1,1717.8 L508.2,1722.4 L503.7,1727.2 L499.8,1732.5 L496.4,1738.2 L493.5,1744.2 L491.1,1750.6 L489.3,1757.6 L488,1765.1 L487.3,1773.2 L487.3,1782Z" fill="#64934a"/>
<path d="M496.8,1782.1 L497.4,1773.6 L498.3,1766 L499.5,1759 L500.9,1752.6 L502.7,1746.8 L504.7,1741.4 L506.9,1736.4 L509.2,1731.5 L511.5,1726.6 L513.9,1721.7 L516.6,1716.8 L519.4,1711.8 L522.4,1706.5 L525.4,1701 L525.4,1701 L521.5,1706 L517.8,1710.8 L514.4,1715.4 L511,1720 L507.9,1724.6 L505,1729.4 L502.6,1734.5 L500.6,1739.9 L498.8,1745.6 L497.3,1751.8 L496.1,1758.4 L495.2,1765.6 L494.6,1773.4 L494.3,1781.9Z" fill="#4c7834"/>
<path d="M497.7,1782 L497.8,1773.5 L497.7,1765.8 L497.3,1758.6 L496.6,1752.1 L495.7,1746 L494.6,1740.3 L493.2,1734.9 L491.6,1729.8 L489.3,1725.1 L487,1720.5 L484.6,1715.9 L482,1711.3 L479.3,1706.5 L476.5,1701.5 L476.5,1701.5 L478.2,1707 L480,1712.1 L481.7,1717.1 L483.4,1722 L484.9,1726.8 L486.3,1731.7 L487.9,1736.5 L489.6,1741.5 L491,1746.9 L492.3,1752.7 L493.3,1759.1 L494.1,1766 L494.6,1773.6 L494.8,1782Z" fill="#5a8a3c"/>
<path d="M489.8,1781.9 L489.2,1774.4 L488.2,1767.6 L486.7,1761.3 L484.9,1755.5 L482.6,1750.1 L479.9,1745 L476.9,1740.3 L473.4,1735.8 L469.4,1731.8 L465.1,1727.9 L460.5,1724 L455.7,1720.1 L450.6,1716.1 L445.2,1712 L445.2,1712 L449.9,1716.9 L454.4,1721.5 L458.7,1726 L462.7,1730.3 L466.4,1734.6 L469.8,1738.9 L473.1,1743.1 L476.2,1747.3 L478.9,1751.9 L481.4,1756.9 L483.4,1762.3 L485.1,1768.3 L486.4,1774.8 L487.3,1782.1Z" fill="#6e9d50"/>
<path d="M492.6,1781.9 L492.3,1773.8 L491.7,1766.3 L490.7,1759.5 L489.4,1753.2 L487.8,1747.3 L485.9,1741.8 L483.7,1736.7 L481.1,1731.8 L478.1,1727.3 L474.9,1722.9 L471.4,1718.5 L467.8,1714.1 L464,1709.5 L460,1704.8 L460,1704.8 L463.3,1710.1 L466.5,1715.1 L469.6,1719.8 L472.5,1724.5 L475.1,1729.2 L477.5,1733.8 L480,1738.5 L482.3,1743.3 L484.4,1748.4 L486.2,1754 L487.7,1760.1 L489,1766.7 L489.9,1774 L490.5,1782.1Z" fill="#5f8e44"/>
<path d="M496.9,1782.1 L498.4,1772 L500.5,1763.2 L503.1,1755.5 L506.1,1748.9 L509.6,1743.5 L513.5,1739.2 L517.8,1735.9 L522.3,1733.3 L527.2,1731.4 L532.5,1730.3 L538.2,1730 L544.4,1730.4 L550.9,1731.6 L557.8,1733.4 L557.8,1733.4 L551.1,1730.8 L544.6,1729 L538.4,1727.9 L532.3,1727.7 L526.4,1728.4 L520.8,1730 L515.7,1732.8 L511.1,1736.8 L507.1,1741.7 L503.6,1747.6 L500.6,1754.5 L498.1,1762.5 L496.3,1771.6 L495,1781.9Z" fill="#527f38"/>
<path d="M494.3,1782.1 L495.6,1772.9 L497.4,1765 L499.7,1758.3 L502.4,1752.6 L505.5,1748.1 L508.9,1744.5 L512.6,1741.9 L516.5,1740.1 L520.7,1738.7 L525.3,1738.1 L530.2,1738.2 L535.5,1738.9 L541,1740.3 L546.8,1742.2 L546.8,1742.2 L541.3,1739.5 L535.8,1737.5 L530.5,1736.2 L525.3,1735.5 L520.2,1735.7 L515.3,1736.7 L510.7,1738.8 L506.7,1742 L503,1746.2 L499.9,1751.2 L497.2,1757.3 L495.1,1764.4 L493.5,1772.6 L492.4,1781.9Z" fill="#77a458"/>
<path d="M494.7,1781.9 L493.6,1774.4 L491.9,1768.1 L489.6,1762.8 L486.8,1758.5 L483.4,1755.1 L479.6,1752.6 L475.3,1751 L470.6,1750.2 L465.7,1750.5 L460.6,1751.4 L455.3,1752.8 L449.9,1754.7 L444.3,1757.1 L438.6,1759.8 L438.6,1759.8 L444.5,1757.7 L450.3,1755.9 L455.8,1754.5 L461,1753.6 L465.9,1753.2 L470.4,1753.4 L474.5,1754 L478.3,1755.2 L481.8,1757.2 L484.9,1760.1 L487.6,1763.9 L489.9,1768.8 L491.8,1774.9 L493.1,1782.1Z" fill="#64934a"/>
<path d="M495.1,1782.2 L496,1777.8 L497.2,1774.7 L498.6,1772.7 L500.1,1771.8 L501.6,1771.5 L503.5,1771.8 L505.8,1772.6 L508.4,1774 L511.5,1775.5 L514.9,1777.4 L518.5,1779.6 L522.2,1782 L526.2,1784.4 L530.3,1786.7 L530.3,1786.7 L526.6,1783.8 L523.1,1780.8 L519.6,1778 L516.3,1775.3 L513.2,1772.9 L510.2,1770.8 L507.1,1769.3 L504.2,1768.5 L501.4,1768.4 L498.8,1769.2 L496.7,1771 L495.1,1773.7 L494,1777.3 L493.3,1781.8Z" fill="#4c7834"/>
<path d="M492,1781.9 L491.5,1776.2 L490.7,1771.6 L489.6,1767.9 L488.2,1765.1 L486.4,1763.2 L484.1,1762 L481.6,1761.8 L479.1,1762.4 L476.6,1763.8 L474,1765.6 L471.4,1767.8 L468.6,1770.2 L465.7,1772.9 L462.7,1775.7 L462.7,1775.7 L466.1,1773.4 L469.4,1771.2 L472.4,1769.3 L475.3,1767.6 L477.9,1766.3 L480.2,1765.5 L482,1765 L483.4,1765 L484.8,1765.5 L486.1,1766.7 L487.4,1768.8 L488.6,1772.1 L489.6,1776.5 L490.3,1782.1Z" fill="#5a8a3c"/>
<path d="M491.1,1782 L491.2,1773.4 L491.5,1765.6 L492.1,1758.6 L492.9,1752.1 L493.9,1746.1 L495.1,1740.6 L496.4,1735.4 L497.7,1730.5 L498.8,1725.5 L499.9,1720.7 L501.2,1715.7 L502.5,1710.7 L503.8,1705.5 L505,1700 L505,1700 L502.7,1705.2 L500.6,1710.1 L498.5,1714.8 L496.5,1719.5 L494.6,1724.3 L492.8,1729.1 L491.5,1734.3 L490.5,1739.7 L489.6,1745.5 L489,1751.6 L488.5,1758.3 L488.2,1765.5 L488.2,1773.4 L488.4,1782Z" fill="#6e9d50"/>
<path d="M490.4,1782 L490.5,1773.8 L490.8,1766.4 L491.3,1759.7 L492.1,1753.5 L493.1,1747.8 L494.3,1742.5 L495.7,1737.6 L497.1,1732.8 L498.4,1728.2 L499.8,1723.5 L501.3,1718.9 L502.9,1714.1 L504.5,1709.2 L506,1704 L506,1704 L503.8,1708.9 L501.6,1713.6 L499.5,1718.2 L497.5,1722.7 L495.6,1727.2 L493.8,1731.8 L492.3,1736.7 L491.1,1741.8 L490.1,1747.3 L489.3,1753.1 L488.8,1759.4 L488.5,1766.3 L488.4,1773.8 L488.6,1782Z" fill="#5a8a3c" fill-opacity="0.85"/>
<path d="M491,1782 L491.1,1775.4 L491.5,1769.5 L492.2,1764.2 L493.2,1759.3 L494.5,1754.8 L496,1750.6 L497.7,1746.7 L499.4,1743 L501.1,1739.2 L503,1735.5 L505,1731.7 L507.1,1727.9 L509.2,1723.9 L511.3,1719.7 L511.3,1719.7 L508.5,1723.5 L505.9,1727.1 L503.3,1730.7 L500.8,1734.2 L498.4,1737.7 L496.2,1741.4 L494.3,1745.3 L492.8,1749.5 L491.5,1753.9 L490.4,1758.7 L489.6,1763.8 L489.1,1769.3 L489,1775.4 L489.1,1782Z" fill="#77a458" fill-opacity="0.85"/>
<path d="M492.1,1782 L492.1,1772.9 L492.2,1764.6 L492.3,1757.1 L492.4,1750.2 L492.6,1743.8 L492.8,1737.8 L493,1732.2 L493.2,1726.9 L493.2,1721.7 L493.2,1716.6 L493.2,1711.5 L493.2,1706.3 L493.2,1700.9 L493.1,1695.2 L493.1,1695.2 L492.6,1700.9 L492.2,1706.2 L491.8,1711.4 L491.4,1716.5 L491,1721.6 L490.6,1726.8 L490.5,1732.1 L490.4,1737.7 L490.4,1743.7 L490.3,1750.1 L490.4,1757.1 L490.5,1764.6 L490.6,1772.9 L490.8,1782Z" fill="#6e9d50" fill-opacity="0.85"/>
<path d="M498.5,1782 L498.9,1776 L499.5,1770.4 L500.2,1765.4 L501,1760.8 L502,1756.6 L503.1,1752.7 L504.3,1749.1 L505.5,1745.6 L506.6,1742.1 L507.8,1738.7 L509.2,1735.3 L510.6,1731.7 L512.1,1728.1 L513.7,1724.2 L513.7,1724.2 L511.5,1727.8 L509.4,1731.2 L507.5,1734.5 L505.7,1737.8 L504,1741.1 L502.4,1744.5 L501.1,1748.1 L500.1,1751.9 L499.2,1756 L498.5,1760.4 L497.8,1765.1 L497.3,1770.2 L497,1775.8 L496.7,1782Z" fill="#64934a" fill-opacity="0.85"/>
<path d="M495.8,1782 L496,1773.7 L496.1,1766.1 L496.2,1759.1 L496.4,1752.8 L496.4,1746.9 L496.5,1741.4 L496.6,1736.3 L496.6,1731.4 L496.4,1726.7 L496.2,1722 L496,1717.4 L495.8,1712.6 L495.6,1707.7 L495.4,1702.6 L495.4,1702.6 L495.1,1707.7 L494.8,1712.6 L494.6,1717.4 L494.4,1722 L494.3,1726.7 L494.1,1731.4 L494.1,1736.3 L494.2,1741.4 L494.3,1746.9 L494.4,1752.8 L494.4,1759.1 L494.5,1766.1 L494.5,1773.7 L494.5,1782Z" fill="#5f8e44" fill-opacity="0.85"/>
<path d="M492.7,1782 L492.6,1774.2 L492.1,1767.1 L491.3,1760.6 L490.2,1754.6 L488.8,1749.1 L487.2,1743.9 L485.3,1739 L483.1,1734.4 L480.5,1730.1 L477.6,1725.9 L474.6,1721.7 L471.5,1717.5 L468.2,1713.1 L464.7,1708.6 L464.7,1708.6 L467.5,1713.6 L470.3,1718.3 L472.9,1722.8 L475.4,1727.2 L477.8,1731.6 L479.9,1736 L482,1740.5 L484,1745.1 L485.8,1750 L487.4,1755.3 L488.7,1761.1 L489.7,1767.4 L490.4,1774.4 L490.8,1782Z" fill="#4c7834" fill-opacity="0.85"/>
<path d="M495.2,1782 L495.5,1772.4 L495.8,1763.7 L496.3,1755.7 L496.8,1748.4 L497.5,1741.6 L498.3,1735.3 L499.2,1729.4 L500.1,1723.8 L500.9,1718.3 L501.8,1712.9 L502.7,1707.5 L503.7,1701.9 L504.8,1696.2 L505.8,1690.2 L505.8,1690.2 L504.2,1696.1 L502.8,1701.7 L501.4,1707.2 L500,1712.5 L498.8,1717.9 L497.6,1723.4 L496.7,1729.1 L496,1735.1 L495.4,1741.4 L494.8,1748.2 L494.4,1755.6 L494.1,1763.6 L494,1772.4 L493.9,1782Z" fill="#527f38" fill-opacity="0.85"/>
<path d="M497.1,1782 L497.5,1775 L498.3,1768.6 L499.3,1762.8 L500.6,1757.4 L502.1,1752.6 L503.9,1748 L505.9,1743.8 L508,1739.7 L510.2,1735.7 L512.6,1731.7 L515.1,1727.6 L517.8,1723.5 L520.7,1719.2 L523.6,1714.7 L523.6,1714.7 L520.2,1718.8 L516.9,1722.8 L513.8,1726.7 L510.9,1730.5 L508.1,1734.4 L505.5,1738.3 L503.3,1742.5 L501.4,1747 L499.7,1751.8 L498.3,1756.9 L497.2,1762.4 L496.4,1768.3 L495.8,1774.8 L495.6,1782Z" fill="#5a8a3c" fill-opacity="0.85"/>
<path d="M496.1,1782 L496.1,1775 L495.6,1768.6 L494.7,1762.8 L493.3,1757.4 L491.6,1752.4 L489.6,1747.7 L487.2,1743.3 L484.4,1739.2 L481.3,1735.3 L477.9,1731.6 L474.4,1727.9 L470.7,1724.1 L466.8,1720.2 L462.8,1716.2 L462.8,1716.2 L466.4,1720.7 L469.8,1724.9 L473.2,1728.9 L476.4,1732.9 L479.3,1736.8 L482.1,1740.8 L484.7,1744.8 L487.2,1748.9 L489.3,1753.3 L491.2,1758 L492.6,1763.2 L493.7,1768.9 L494.4,1775.1 L494.6,1782Z" fill="#77a458" fill-opacity="0.85"/>
<path d="M492.7,1782 L492.6,1775.5 L492.3,1769.6 L491.8,1764.1 L491.1,1759.1 L490.2,1754.5 L489.2,1750.2 L488,1746.2 L486.6,1742.3 L484.8,1738.7 L482.9,1735.2 L480.9,1731.8 L478.8,1728.3 L476.6,1724.6 L474.2,1720.9 L474.2,1720.9 L476,1725 L477.7,1728.8 L479.3,1732.6 L480.8,1736.2 L482.3,1739.9 L483.5,1743.5 L484.9,1747.2 L486.3,1751.1 L487.5,1755.2 L488.5,1759.6 L489.4,1764.5 L490.1,1769.8 L490.6,1775.6 L490.9,1782Z" fill="#6e9d50" fill-opacity="0.85"/>
<path d="M461.3,1780.5 A31.4 5.8 0 0 0 524.1,1780.5" fill="none" stroke="#bb3b2b" stroke-width="3.4"/>
<path d="M461,1783 A31.7 6.5 0 0 0 524.4,1783" fill="none" stroke="#d4604c" stroke-width="1.3" stroke-opacity="0.75"/>
<rect x="504" y="1770" width="3" height="6" fill="#e890c8"/>
</g>
<rect x="567.1" y="1762.5" width="4.3" height="27.5" fill="#fff"/>
<rect x="581.5" y="1601.6" width="166.5" height="199" fill="#0e0e0b"/>
<g clip-path="url(#cp8)">
<path d="M634.7,1784 L638.4,1800.6 L688.9,1800.6 L691.4,1784 Z" fill="#aa3224"/>
<ellipse cx="663" cy="1782" rx="31.8" ry="7.5" fill="#bb3b2b"/>
<ellipse cx="663" cy="1780.6" rx="28.3" ry="5" fill="#9d3a30"/>
<ellipse cx="663" cy="1782.2" rx="15.9" ry="3" fill="#3f332b"/>
<path d="M668.1,1783.5 L668,1768.8 L667.4,1755.3 L666.4,1743 L664.8,1731.7 L662.9,1721.1 L660.6,1711.3 L657.9,1702 L654.7,1693.2 L651,1684.8 L647,1676.5 L642.8,1668.3 L638.3,1659.9 L633.7,1651.3 L628.9,1642.2 L628.9,1642.2 L632.9,1651.7 L636.8,1660.7 L640.5,1669.3 L644.1,1677.8 L647.5,1686.2 L650.6,1694.8 L653.7,1703.4 L656.6,1712.4 L659.2,1722 L661.4,1732.2 L663.2,1743.4 L664.5,1755.6 L665.4,1768.9 L665.8,1783.5Z" fill="#64934a"/>
<path d="M669.3,1783.5 L669.6,1768.5 L669.8,1754.8 L669.8,1742.2 L669.7,1730.7 L669.4,1720 L669.1,1710 L668.6,1700.6 L668,1691.6 L666.9,1683 L665.7,1674.5 L664.5,1665.9 L663.3,1657.3 L662,1648.3 L660.6,1638.8 L660.6,1638.8 L660.9,1648.4 L661.3,1657.4 L661.8,1666.2 L662.2,1674.8 L662.6,1683.4 L663,1692 L663.7,1700.9 L664.5,1710.3 L665.1,1720.2 L665.7,1730.8 L666.2,1742.3 L666.5,1754.8 L666.7,1768.5 L666.7,1783.5Z" fill="#4c7834"/>
<path d="M664.4,1783.5 L664.8,1768.7 L665.4,1755.2 L666.3,1742.9 L667.4,1731.5 L668.7,1721.1 L670.2,1711.4 L671.9,1702.2 L673.6,1693.4 L675.1,1684.8 L676.8,1676.3 L678.5,1667.8 L680.4,1659.1 L682.3,1650 L684.2,1640.5 L684.2,1640.5 L681.2,1649.7 L678.4,1658.6 L675.7,1667.1 L673.2,1675.5 L670.8,1683.8 L668.5,1692.4 L666.8,1701.3 L665.4,1710.6 L664.2,1720.5 L663.2,1731.1 L662.5,1742.6 L662,1755 L661.7,1768.6 L661.7,1783.5Z" fill="#5a8a3c"/>
<path d="M662.2,1783.5 L662.1,1770.1 L661.9,1757.9 L661.7,1746.8 L661.5,1736.5 L661.2,1727.1 L660.9,1718.2 L660.5,1709.9 L659.9,1701.9 L658.9,1694.2 L657.9,1686.7 L656.8,1679.1 L655.6,1671.4 L654.3,1663.5 L652.9,1655.1 L652.9,1655.1 L653.4,1663.6 L653.9,1671.6 L654.4,1679.4 L654.8,1687 L655.2,1694.6 L655.5,1702.3 L656.1,1710.2 L656.8,1718.4 L657.4,1727.2 L658,1736.7 L658.5,1746.9 L659,1758 L659.5,1770.2 L659.9,1783.5Z" fill="#6e9d50"/>
<path d="M664.5,1783.5 L665,1772.9 L665.9,1763.2 L667.3,1754.4 L669.1,1746.3 L671.3,1738.9 L673.8,1732 L676.6,1725.5 L679.6,1719.3 L682.6,1713.1 L685.9,1706.9 L689.4,1700.7 L693.1,1694.4 L697,1687.8 L700.9,1680.8 L700.9,1680.8 L696.1,1687.2 L691.6,1693.4 L687.3,1699.4 L683.2,1705.3 L679.3,1711.2 L675.6,1717.2 L672.5,1723.7 L669.9,1730.5 L667.6,1737.7 L665.6,1745.5 L664.1,1753.8 L663,1762.9 L662.3,1772.7 L662.1,1783.5Z" fill="#5f8e44"/>
<path d="M666.8,1783.5 L666.7,1770.6 L666,1758.8 L665,1748 L663.5,1738.1 L661.6,1728.9 L659.3,1720.2 L656.7,1712.1 L653.6,1704.4 L649.9,1697 L646,1689.9 L641.8,1682.8 L637.5,1675.5 L632.9,1668 L628.1,1660.2 L628.1,1660.2 L632,1668.5 L635.8,1676.4 L639.5,1684 L642.9,1691.4 L646.2,1698.8 L649.1,1706.2 L652.2,1713.7 L655,1721.6 L657.5,1729.9 L659.7,1738.8 L661.5,1748.5 L662.9,1759.1 L663.8,1770.7 L664.3,1783.5Z" fill="#527f38"/>
<path d="M664.1,1783.4 L663.8,1774.6 L663,1766.5 L661.7,1759 L659.9,1752.1 L657.7,1745.7 L655.2,1739.7 L652.2,1734.1 L648.8,1728.8 L644.8,1723.9 L640.6,1719.2 L636.1,1714.4 L631.4,1709.6 L626.4,1704.7 L621.2,1699.6 L621.2,1699.6 L625.7,1705.4 L630,1710.8 L634.2,1716.1 L638.1,1721.2 L641.7,1726.3 L645,1731.4 L648.3,1736.4 L651.4,1741.7 L654.1,1747.2 L656.5,1753.2 L658.4,1759.8 L660,1766.9 L661.1,1774.8 L661.8,1783.6Z" fill="#77a458"/>
<path d="M662.9,1783.5 L663.3,1775.6 L664.3,1768.5 L665.8,1762 L667.6,1756.1 L669.9,1750.7 L672.6,1745.8 L675.6,1741.1 L678.8,1736.6 L682,1731.9 L685.5,1727.2 L689.3,1722.5 L693.3,1717.7 L697.5,1712.6 L701.7,1707.3 L701.7,1707.3 L696.6,1711.8 L691.8,1716.2 L687.1,1720.5 L682.7,1724.7 L678.5,1728.9 L674.5,1733.3 L671.1,1738.2 L668.2,1743.4 L665.7,1748.9 L663.6,1754.8 L662,1761.1 L660.8,1768 L660.2,1775.4 L660.1,1783.5Z" fill="#64934a"/>
<path d="M668.4,1783.4 L667.5,1774.1 L666.1,1765.9 L664.2,1758.8 L661.8,1752.7 L658.9,1747.7 L655.7,1743.5 L652,1740.3 L648,1738.1 L643.6,1737.1 L639.2,1736.9 L634.7,1737.4 L630.2,1738.7 L625.6,1740.7 L621.2,1743.3 L621.2,1743.3 L625.9,1741.3 L630.5,1739.9 L634.9,1739.1 L639.2,1739.1 L643.1,1739.7 L646.8,1741 L650.3,1742.9 L653.6,1745.5 L656.7,1749.2 L659.6,1753.8 L662,1759.5 L664.1,1766.4 L665.7,1774.4 L666.8,1783.6Z" fill="#4c7834"/>
<path d="M667.5,1783.6 L668.7,1774.2 L670.4,1766 L672.5,1758.9 L674.9,1753 L677.7,1748.2 L680.8,1744.4 L684.2,1741.6 L687.7,1739.6 L691.6,1738.1 L695.8,1737.4 L700.4,1737.4 L705.4,1738.2 L710.7,1739.5 L716.3,1741.5 L716.3,1741.5 L710.9,1738.9 L705.7,1737 L700.6,1735.8 L695.7,1735.3 L691,1735.6 L686.5,1736.8 L682.4,1739.1 L678.7,1742.5 L675.5,1746.8 L672.7,1752 L670.4,1758.2 L668.5,1765.5 L667,1773.9 L665.9,1783.4Z" fill="#5a8a3c"/>
<path d="M667.5,1783.6 L668.2,1778.9 L669.3,1774.6 L670.7,1770.8 L672.5,1767.4 L674.6,1764.3 L677.1,1761.4 L679.8,1758.7 L682.8,1756 L685.8,1753.2 L689.2,1750.3 L692.9,1747.4 L696.8,1744.5 L700.9,1741.4 L705.1,1738.1 L705.1,1738.1 L700.3,1740.6 L695.8,1743 L691.5,1745.4 L687.4,1747.7 L683.5,1750.1 L679.9,1752.6 L676.7,1755.5 L673.9,1758.7 L671.5,1762.1 L669.4,1765.7 L667.7,1769.6 L666.4,1773.9 L665.6,1778.4 L665.2,1783.4Z" fill="#6e9d50"/>
<path d="M665.9,1783.5 L666.3,1770.4 L666.8,1758.5 L667.6,1747.7 L668.5,1737.7 L669.6,1728.5 L670.9,1719.9 L672.3,1711.8 L673.7,1704.1 L674.8,1696.6 L676.1,1689.1 L677.5,1681.6 L679,1673.9 L680.5,1666 L682,1657.6 L682,1657.6 L679.5,1665.7 L677.1,1673.5 L674.9,1681 L672.8,1688.3 L670.8,1695.7 L668.9,1703.2 L667.6,1711 L666.5,1719.3 L665.5,1728 L664.7,1737.3 L664.1,1747.4 L663.7,1758.4 L663.4,1770.4 L663.4,1783.5Z" fill="#5f8e44"/>
<path d="M668.8,1783.5 L669.2,1773 L669.6,1763.4 L670,1754.6 L670.4,1746.6 L670.8,1739.1 L671.3,1732.2 L671.7,1725.7 L672,1719.5 L671.9,1713.4 L671.9,1707.5 L671.8,1701.5 L671.8,1695.4 L671.8,1689.1 L671.7,1682.5 L671.7,1682.5 L670.6,1689 L669.6,1695.3 L668.8,1701.3 L668,1707.3 L667.2,1713.2 L666.5,1719.2 L666.3,1725.5 L666.2,1732 L666.1,1739 L666.1,1746.4 L666,1754.5 L666,1763.3 L666,1772.9 L665.9,1783.5Z" fill="#527f38"/>
<path d="M661.6,1783.5 L661.3,1772.7 L661,1762.8 L660.5,1753.7 L660,1745.4 L659.3,1737.7 L658.4,1730.6 L657.5,1723.8 L656.4,1717.4 L654.8,1711.2 L653.1,1705.2 L651.3,1699.1 L649.3,1693 L647.3,1686.6 L645,1680 L645,1680 L646.4,1686.9 L647.7,1693.4 L649,1699.7 L650.2,1705.8 L651.2,1712 L652.2,1718.2 L653.4,1724.5 L654.6,1731.1 L655.7,1738.2 L656.6,1745.8 L657.5,1754 L658.2,1762.9 L658.9,1772.8 L659.4,1783.5Z" fill="#77a458"/>
<path d="M662.6,1783.5 L662.6,1771.8 L662.6,1761.1 L662.7,1751.3 L662.8,1742.3 L662.9,1734 L663.1,1726.3 L663.3,1719 L663.4,1712.1 L663.2,1705.4 L663,1698.7 L662.8,1692.1 L662.6,1685.3 L662.3,1678.3 L661.9,1671 L661.9,1671 L661.5,1678.3 L661.1,1685.3 L660.8,1692.1 L660.4,1698.7 L660.1,1705.3 L659.8,1712.1 L659.7,1719 L659.8,1726.3 L659.9,1734 L660,1742.3 L660.1,1751.3 L660.3,1761.1 L660.5,1771.8 L660.7,1783.5Z" fill="#64934a" fill-opacity="0.85"/>
<path d="M660.5,1783.5 L660.6,1770.8 L661.1,1759.2 L662,1748.6 L663.2,1738.9 L664.8,1730 L666.7,1721.7 L668.9,1713.8 L671.2,1706.4 L673.5,1699 L676,1691.7 L678.6,1684.4 L681.4,1677 L684.2,1669.2 L687,1661.1 L687,1661.1 L683.6,1669 L680.2,1676.5 L677,1683.8 L673.9,1690.9 L670.9,1698.1 L668.1,1705.4 L665.8,1713 L663.8,1721 L662.1,1729.5 L660.7,1738.6 L659.7,1748.4 L659,1759.1 L658.7,1770.8 L658.9,1783.5Z" fill="#5f8e44" fill-opacity="0.85"/>
<path d="M666.6,1783.5 L667,1775.3 L667.6,1767.8 L668.4,1760.9 L669.5,1754.7 L670.7,1748.9 L672.2,1743.6 L673.8,1738.6 L675.6,1733.8 L677.2,1729.1 L679,1724.4 L681,1719.7 L683,1714.9 L685.2,1709.9 L687.4,1704.6 L687.4,1704.6 L684.6,1709.5 L681.9,1714.3 L679.3,1718.9 L676.9,1723.4 L674.6,1728 L672.4,1732.6 L670.7,1737.6 L669.2,1742.8 L667.9,1748.3 L666.9,1754.2 L666,1760.6 L665.4,1767.6 L665,1775.2 L664.9,1783.5Z" fill="#4c7834" fill-opacity="0.85"/>
<path d="M667.9,1783.5 L668.1,1773.2 L668.3,1763.8 L668.3,1755.2 L668.2,1747.3 L668.1,1739.9 L667.9,1733.1 L667.6,1726.7 L667.2,1720.6 L666.6,1714.7 L665.9,1708.9 L665.2,1703.1 L664.6,1697.2 L663.8,1691.1 L663.1,1684.7 L663.1,1684.7 L663.3,1691.1 L663.5,1697.3 L663.8,1703.2 L664.1,1709.1 L664.3,1714.9 L664.6,1720.8 L665,1726.9 L665.4,1733.3 L665.8,1740 L666.1,1747.3 L666.4,1755.2 L666.5,1763.8 L666.6,1773.2 L666.5,1783.5Z" fill="#527f38" fill-opacity="0.85"/>
<path d="M661.8,1783.5 L661.8,1774.4 L662.1,1766.1 L662.5,1758.5 L663.1,1751.5 L663.9,1745.1 L664.9,1739.2 L666,1733.6 L667.1,1728.3 L668,1723.1 L669.1,1717.9 L670.2,1712.7 L671.3,1707.4 L672.4,1701.9 L673.5,1696.1 L673.5,1696.1 L671.7,1701.7 L670,1707.1 L668.3,1712.2 L666.7,1717.3 L665.2,1722.4 L663.8,1727.6 L662.7,1733 L661.8,1738.7 L661.1,1744.8 L660.5,1751.3 L660.1,1758.3 L659.8,1766 L659.8,1774.4 L660,1783.5Z" fill="#5a8a3c" fill-opacity="0.85"/>
<path d="M667.2,1783.5 L667.3,1775.6 L667.1,1768.4 L666.6,1761.8 L665.8,1755.7 L664.8,1750.1 L663.6,1744.8 L662.2,1739.9 L660.6,1735.2 L658.5,1730.8 L656.4,1726.4 L654.1,1722.1 L651.7,1717.8 L649.2,1713.3 L646.7,1708.6 L646.7,1708.6 L648.6,1713.6 L650.6,1718.3 L652.6,1722.9 L654.4,1727.3 L656.1,1731.8 L657.7,1736.3 L659.4,1740.8 L660.9,1745.6 L662.3,1750.6 L663.5,1756.1 L664.4,1762 L665.1,1768.5 L665.5,1775.6 L665.6,1783.5Z" fill="#77a458" fill-opacity="0.85"/>
<path d="M663.5,1783.5 L663.6,1775.7 L663.7,1768.5 L664,1762 L664.3,1756.1 L664.7,1750.6 L665.2,1745.4 L665.7,1740.6 L666.2,1736.1 L666.5,1731.6 L666.9,1727.2 L667.2,1722.8 L667.6,1718.4 L668,1713.7 L668.4,1708.8 L668.4,1708.8 L667.5,1713.6 L666.6,1718.2 L665.7,1722.6 L664.9,1727 L664.2,1731.3 L663.5,1735.8 L663,1740.4 L662.6,1745.2 L662.4,1750.4 L662.1,1756 L662,1762 L661.9,1768.5 L662,1775.7 L662.1,1783.5Z" fill="#6e9d50" fill-opacity="0.85"/>
<path d="M661.8,1783.5 L661.8,1775.3 L662.1,1767.9 L662.5,1761.1 L663.2,1754.9 L664,1749.2 L665,1743.8 L666.1,1738.9 L667.2,1734.1 L668.2,1729.4 L669.3,1724.8 L670.4,1720.2 L671.6,1715.4 L672.8,1710.5 L673.9,1705.3 L673.9,1705.3 L672.1,1710.3 L670.3,1715 L668.6,1719.6 L667,1724.1 L665.4,1728.7 L663.9,1733.3 L662.8,1738.2 L661.9,1743.3 L661.1,1748.7 L660.5,1754.6 L660.1,1760.9 L659.9,1767.8 L659.8,1775.3 L660,1783.5Z" fill="#64934a" fill-opacity="0.85"/>
<path d="M664.7,1783.5 L664.8,1774.2 L664.8,1765.7 L664.7,1757.9 L664.6,1750.8 L664.4,1744.2 L664.2,1738 L663.9,1732.3 L663.5,1726.8 L662.7,1721.5 L661.9,1716.3 L661.1,1711 L660.2,1705.8 L659.2,1700.3 L658.2,1694.5 L658.2,1694.5 L658.4,1700.4 L658.8,1705.9 L659.1,1711.3 L659.4,1716.5 L659.6,1721.8 L659.9,1727.1 L660.3,1732.5 L660.9,1738.3 L661.4,1744.3 L661.8,1750.9 L662.1,1758 L662.4,1765.7 L662.7,1774.2 L662.9,1783.5Z" fill="#5f8e44" fill-opacity="0.85"/>
<path d="M668.9,1783.5 L669.2,1775.6 L669.4,1768.5 L669.6,1761.9 L669.7,1755.9 L669.8,1750.3 L669.8,1745.1 L669.8,1740.3 L669.7,1735.7 L669.4,1731.2 L669.1,1726.8 L668.8,1722.4 L668.5,1718 L668.3,1713.3 L668,1708.5 L668,1708.5 L667.7,1713.3 L667.5,1718 L667.4,1722.5 L667.3,1726.9 L667.2,1731.3 L667.1,1735.7 L667.2,1740.3 L667.4,1745.2 L667.5,1750.3 L667.6,1755.9 L667.7,1761.9 L667.7,1768.4 L667.6,1775.6 L667.5,1783.5Z" fill="#4c7834" fill-opacity="0.85"/>
<path d="M633,1782 A30 5.8 0 0 0 693.1,1782" fill="none" stroke="#bb3b2b" stroke-width="3.4"/>
<path d="M632.7,1784.5 A30.3 6.5 0 0 0 693.4,1784.5" fill="none" stroke="#d4604c" stroke-width="1.3" stroke-opacity="0.75"/>
</g>
<rect x="734.2" y="1763.3" width="4.3" height="26.7" fill="#fff"/>
<rect x="753.9" y="1600.3" width="167" height="200.3" fill="#0e0e0b"/>
<g clip-path="url(#cp9)">
<path d="M812.7,1785.6 L815.6,1800.6 L870.4,1800.6 L872.9,1785.6 Z" fill="#aa3224"/>
<ellipse cx="842.8" cy="1783.6" rx="33.6" ry="7.5" fill="#bb3b2b"/>
<ellipse cx="842.8" cy="1782.2" rx="30.1" ry="5" fill="#9d3a30"/>
<ellipse cx="842.8" cy="1783.8" rx="16.8" ry="3" fill="#3f332b"/>
<path d="M849.3,1785.1 L849.4,1769.6 L849,1755.5 L848.2,1742.5 L847,1730.5 L845.4,1719.5 L843.5,1709.1 L841.3,1699.3 L838.7,1690 L835.4,1681.2 L832,1672.5 L828.3,1663.8 L824.5,1654.9 L820.6,1645.8 L816.4,1636.2 L816.4,1636.2 L819.5,1646.2 L822.6,1655.6 L825.7,1664.8 L828.6,1673.7 L831.3,1682.6 L833.8,1691.5 L836.4,1700.6 L838.9,1710.1 L841.1,1720.2 L843,1731.1 L844.5,1742.8 L845.7,1755.7 L846.4,1769.7 L846.6,1785.1Z" fill="#527f38"/>
<path d="M842.4,1785.1 L842.6,1769.4 L842.9,1755.1 L843.3,1742 L843.9,1730 L844.7,1718.9 L845.5,1708.6 L846.5,1698.8 L847.3,1689.5 L847.8,1680.4 L848.4,1671.4 L849,1662.4 L849.6,1653.3 L850.2,1643.7 L850.7,1633.7 L850.7,1633.7 L848.9,1643.6 L847.3,1653 L845.8,1662.1 L844.3,1671 L842.8,1679.9 L841.5,1688.9 L840.6,1698.3 L840.1,1708.2 L839.6,1718.6 L839.3,1729.8 L839.1,1741.9 L839,1755 L839.1,1769.4 L839.4,1785.1Z" fill="#77a458"/>
<path d="M844.5,1785.1 L844.9,1769.9 L845.5,1756 L846.4,1743.3 L847.5,1731.6 L848.8,1720.9 L850.4,1710.9 L852.1,1701.4 L853.9,1692.4 L855.4,1683.6 L857,1674.8 L858.7,1666 L860.6,1657 L862.5,1647.7 L864.4,1637.9 L864.4,1637.9 L861.3,1647.4 L858.5,1656.5 L855.8,1665.3 L853.2,1673.9 L850.7,1682.5 L848.4,1691.3 L846.7,1700.5 L845.3,1710.1 L844.1,1720.3 L843.1,1731.2 L842.4,1743 L841.9,1755.8 L841.6,1769.8 L841.6,1785.1Z" fill="#64934a"/>
<path d="M840.7,1785.1 L840.6,1770.7 L840.4,1757.5 L840.2,1745.5 L840.1,1734.5 L839.9,1724.3 L839.7,1714.7 L839.5,1705.7 L839.1,1697.2 L838.4,1688.9 L837.6,1680.7 L836.7,1672.5 L835.8,1664.2 L834.8,1655.6 L833.6,1646.5 L833.6,1646.5 L833.8,1655.6 L834.1,1664.3 L834.3,1672.7 L834.5,1680.9 L834.7,1689.1 L834.8,1697.4 L835.2,1705.9 L835.7,1714.9 L836.2,1724.4 L836.6,1734.6 L837.1,1745.6 L837.5,1757.6 L838,1770.7 L838.5,1785.1Z" fill="#4c7834"/>
<path d="M849.5,1785.2 L850.2,1771.9 L851.2,1759.8 L852.5,1748.7 L854.1,1738.6 L855.9,1729.2 L857.9,1720.6 L860.2,1712.4 L862.5,1704.6 L864.6,1696.9 L867,1689.2 L869.5,1681.5 L872.3,1673.6 L875.2,1665.4 L878.1,1656.8 L878.1,1656.8 L874,1665 L870.2,1672.8 L866.7,1680.4 L863.3,1687.8 L860.1,1695.3 L857.2,1702.9 L854.8,1710.9 L852.9,1719.4 L851.2,1728.3 L849.7,1737.9 L848.5,1748.2 L847.6,1759.4 L846.9,1771.7 L846.6,1785Z" fill="#5a8a3c"/>
<path d="M840.8,1785.1 L840.9,1772.1 L841.2,1760.3 L841.8,1749.5 L842.7,1739.6 L843.7,1730.5 L845,1722 L846.4,1714 L847.8,1706.4 L849,1698.9 L850.3,1691.5 L851.6,1684 L853,1676.4 L854.5,1668.5 L855.8,1660.2 L855.8,1660.2 L853.4,1668.3 L851.1,1675.9 L849,1683.4 L846.9,1690.7 L844.8,1698 L843,1705.4 L841.5,1713.2 L840.4,1721.4 L839.5,1730 L838.8,1739.3 L838.3,1749.3 L838,1760.2 L838,1772.1 L838.2,1785.1Z" fill="#6e9d50"/>
<path d="M844.3,1785 L843.9,1775.2 L843,1766.3 L841.5,1758 L839.6,1750.4 L837.2,1743.3 L834.3,1736.7 L831,1730.4 L827.2,1724.6 L822.8,1719.1 L818.1,1713.8 L813.1,1708.5 L807.9,1703.2 L802.4,1697.7 L796.7,1691.9 L796.7,1691.9 L801.7,1698.3 L806.6,1704.3 L811.3,1710.1 L815.7,1715.8 L819.8,1721.4 L823.5,1727.1 L827.2,1732.7 L830.6,1738.6 L833.6,1744.8 L836.2,1751.5 L838.4,1758.7 L840.1,1766.7 L841.3,1775.5 L842,1785.2Z" fill="#5f8e44"/>
<path d="M841.4,1785 L841.1,1774.7 L840.5,1765.2 L839.7,1756.5 L838.6,1748.4 L837.4,1741 L835.8,1734.1 L834.1,1727.5 L832.1,1721.3 L829.5,1715.4 L826.7,1709.7 L823.8,1703.9 L820.7,1698.1 L817.4,1692.2 L813.9,1685.9 L813.9,1685.9 L816.5,1692.6 L819.1,1698.9 L821.5,1705 L823.7,1711 L825.8,1716.9 L827.7,1722.8 L829.7,1728.9 L831.7,1735.2 L833.5,1741.8 L835,1749.1 L836.4,1756.9 L837.5,1765.4 L838.4,1774.8 L839,1785.2Z" fill="#527f38"/>
<path d="M841.7,1785.1 L842.1,1775.3 L843,1766.5 L844.5,1758.4 L846.4,1751.1 L848.7,1744.3 L851.4,1738 L854.5,1732.1 L857.8,1726.4 L861.2,1720.7 L864.8,1715.1 L868.7,1709.4 L872.9,1703.5 L877.1,1697.4 L881.5,1691 L881.5,1691 L876.4,1696.8 L871.5,1702.4 L866.8,1707.9 L862.3,1713.2 L858.1,1718.6 L854.1,1724.1 L850.7,1730 L847.7,1736.3 L845.1,1743 L843,1750.1 L841.3,1757.8 L840.2,1766.1 L839.5,1775.2 L839.4,1785.1Z" fill="#77a458"/>
<path d="M848.3,1785.2 L849.2,1778.7 L850.5,1772.9 L852.3,1767.6 L854.6,1762.9 L857.3,1758.5 L860.4,1754.5 L863.9,1750.7 L867.7,1747 L871.6,1743.1 L875.9,1739.2 L880.5,1735.3 L885.5,1731.3 L890.7,1727.1 L896.1,1722.7 L896.1,1722.7 L890.1,1726.3 L884.4,1729.8 L879,1733.2 L873.9,1736.6 L869,1740 L864.5,1743.5 L860.5,1747.5 L857,1751.8 L853.9,1756.3 L851.3,1761.2 L849.1,1766.4 L847.5,1772.1 L846.4,1778.3 L845.9,1785Z" fill="#64934a"/>
<path d="M843.2,1785.2 L843.9,1779.4 L845.2,1774.3 L847.2,1769.8 L849.9,1765.6 L853,1761.8 L856.8,1758.2 L861.1,1754.9 L865.8,1751.6 L870.7,1748.1 L876.2,1744.5 L882,1741 L888.2,1737.4 L894.6,1733.6 L901.2,1729.6 L901.2,1729.6 L894.1,1732.7 L887.3,1735.7 L880.8,1738.7 L874.5,1741.6 L868.6,1744.5 L863.1,1747.6 L858.2,1751.1 L853.8,1754.9 L850,1759 L846.7,1763.5 L844.1,1768.2 L842.2,1773.4 L841.1,1779 L840.7,1785Z" fill="#4c7834"/>
<path d="M841.2,1785 L840.3,1777.6 L838.9,1771.4 L837.1,1766.2 L834.8,1761.9 L832.1,1758.5 L828.9,1756 L825.2,1754.4 L821.2,1753.7 L817,1754.1 L812.7,1755.1 L808.1,1756.6 L803.4,1758.6 L798.4,1761 L793.3,1763.8 L793.3,1763.8 L798.8,1761.7 L803.9,1760 L808.7,1758.6 L813.2,1757.7 L817.3,1757.3 L821,1757.5 L824.2,1758 L827.2,1759.1 L829.9,1760.9 L832.4,1763.6 L834.6,1767.3 L836.5,1772.1 L838.1,1778.1 L839.3,1785.2Z" fill="#5a8a3c"/>
<path d="M845.3,1785.1 L845.7,1778.5 L846.4,1772.5 L847.3,1767.1 L848.4,1762.2 L849.8,1757.6 L851.3,1753.5 L853,1749.6 L854.8,1745.8 L856.3,1742 L858.1,1738.2 L859.9,1734.3 L861.9,1730.3 L864,1726.2 L866.1,1721.8 L866.1,1721.8 L863,1725.6 L860.2,1729.2 L857.4,1732.8 L854.8,1736.3 L852.4,1739.8 L850,1743.5 L848.2,1747.5 L846.7,1751.8 L845.4,1756.4 L844.3,1761.2 L843.5,1766.5 L842.9,1772.2 L842.6,1778.3 L842.5,1785.1Z" fill="#6e9d50"/>
<path d="M849.3,1785.1 L849.6,1772.1 L849.8,1760.2 L849.7,1749.3 L849.5,1739.3 L849.2,1730.1 L848.8,1721.4 L848.3,1713.3 L847.5,1705.5 L846.4,1698.1 L845.2,1690.7 L844,1683.4 L842.7,1675.9 L841.4,1668.1 L840,1660 L840,1660 L840.5,1668.3 L841,1676.1 L841.6,1683.7 L842.2,1691.1 L842.8,1698.5 L843.3,1706 L844.1,1713.7 L844.9,1721.7 L845.6,1730.3 L846.2,1739.5 L846.6,1749.4 L847,1760.2 L847.1,1772.1 L847.1,1785.1Z" fill="#5f8e44"/>
<path d="M847,1785.1 L847.3,1774.3 L847.5,1764.4 L847.7,1755.4 L847.9,1747.1 L848.1,1739.4 L848.3,1732.2 L848.5,1725.5 L848.6,1719.1 L848.5,1712.9 L848.3,1706.8 L848.2,1700.7 L848.1,1694.4 L848,1688 L847.9,1681.2 L847.9,1681.2 L847.3,1687.9 L846.9,1694.4 L846.5,1700.6 L846.1,1706.8 L845.7,1712.9 L845.4,1719.1 L845.3,1725.5 L845.4,1732.2 L845.4,1739.4 L845.4,1747 L845.4,1755.3 L845.4,1764.4 L845.4,1774.3 L845.4,1785.1Z" fill="#527f38" fill-opacity="0.85"/>
<path d="M845,1785.1 L845.1,1772.4 L845.2,1760.8 L845.2,1750.2 L845.1,1740.5 L845,1731.5 L844.9,1723.1 L844.8,1715.1 L844.5,1707.6 L843.9,1700.3 L843.3,1693.1 L842.7,1685.9 L842,1678.6 L841.3,1671 L840.6,1663 L840.6,1663 L840.6,1671 L840.7,1678.7 L840.8,1686 L840.9,1693.2 L841,1700.4 L841.1,1707.7 L841.4,1715.3 L841.8,1723.1 L842.1,1731.5 L842.4,1740.5 L842.7,1750.2 L842.9,1760.8 L843.1,1772.4 L843.2,1785.1Z" fill="#5a8a3c" fill-opacity="0.85"/>
<path d="M844.8,1785.1 L845.1,1774.2 L845.7,1764.2 L846.7,1755.1 L848,1746.8 L849.5,1739.1 L851.3,1732 L853.3,1725.3 L855.5,1718.9 L857.6,1712.6 L859.9,1706.3 L862.4,1700 L865,1693.6 L867.7,1686.9 L870.4,1679.9 L870.4,1679.9 L867,1686.6 L863.7,1693 L860.6,1699.3 L857.7,1705.4 L854.9,1711.5 L852.3,1717.7 L850.1,1724.3 L848.2,1731.2 L846.6,1738.5 L845.3,1746.4 L844.2,1754.8 L843.5,1764.1 L843.1,1774.1 L843,1785.1Z" fill="#77a458" fill-opacity="0.85"/>
<path d="M846.8,1785.1 L847,1773.9 L847.1,1763.6 L847.1,1754.2 L847,1745.6 L846.9,1737.6 L846.6,1730.2 L846.3,1723.2 L845.9,1716.5 L845.1,1710.1 L844.3,1703.7 L843.4,1697.4 L842.6,1691 L841.7,1684.3 L840.7,1677.3 L840.7,1677.3 L840.9,1684.3 L841.2,1691.1 L841.5,1697.6 L841.8,1704 L842.1,1710.3 L842.4,1716.8 L842.8,1723.4 L843.4,1730.4 L843.9,1737.7 L844.3,1745.7 L844.6,1754.3 L844.8,1763.6 L845,1773.9 L845,1785.1Z" fill="#6e9d50" fill-opacity="0.85"/>
<path d="M841.7,1785.1 L841.7,1776.7 L842.1,1769.1 L842.8,1762.1 L843.6,1755.7 L844.8,1749.9 L846.1,1744.4 L847.6,1739.3 L849.2,1734.5 L850.8,1729.6 L852.4,1724.9 L854.2,1720.1 L856,1715.2 L857.9,1710.1 L859.8,1704.8 L859.8,1704.8 L857.3,1709.9 L854.9,1714.7 L852.6,1719.4 L850.4,1724 L848.3,1728.7 L846.3,1733.4 L844.7,1738.5 L843.3,1743.7 L842.2,1749.4 L841.2,1755.4 L840.5,1761.9 L840.1,1768.9 L839.9,1776.7 L840,1785.1Z" fill="#64934a" fill-opacity="0.85"/>
<path d="M842.2,1785.1 L842,1776.7 L841.6,1769 L840.9,1761.9 L839.9,1755.5 L838.7,1749.5 L837.3,1743.9 L835.7,1738.6 L833.8,1733.6 L831.5,1728.9 L829.1,1724.3 L826.5,1719.7 L823.7,1715 L820.8,1710.2 L817.8,1705.2 L817.8,1705.2 L820.2,1710.5 L822.6,1715.6 L824.9,1720.5 L827.1,1725.2 L829.1,1730 L830.9,1734.8 L832.8,1739.6 L834.6,1744.7 L836.1,1750.1 L837.5,1755.9 L838.7,1762.3 L839.6,1769.2 L840.2,1776.8 L840.6,1785.1Z" fill="#5f8e44" fill-opacity="0.85"/>
<path d="M844.3,1785.1 L844.5,1774.2 L844.8,1764.3 L845.3,1755.3 L845.9,1746.9 L846.6,1739.3 L847.5,1732.1 L848.5,1725.4 L849.4,1719 L850.3,1712.8 L851.2,1706.6 L852.1,1700.4 L853.2,1694.1 L854.2,1687.6 L855.3,1680.7 L855.3,1680.7 L853.6,1687.4 L852,1693.9 L850.5,1700.1 L849.1,1706.2 L847.7,1712.3 L846.4,1718.5 L845.5,1725 L844.7,1731.8 L844,1739 L843.5,1746.8 L843.1,1755.1 L842.8,1764.3 L842.7,1774.2 L842.8,1785.1Z" fill="#4c7834" fill-opacity="0.85"/>
<path d="M846.6,1785.1 L846.9,1775.1 L847.1,1766 L847.3,1757.7 L847.6,1750.1 L847.8,1743.1 L848.1,1736.5 L848.3,1730.3 L848.5,1724.5 L848.5,1718.8 L848.5,1713.1 L848.5,1707.5 L848.5,1701.8 L848.5,1695.9 L848.5,1689.6 L848.5,1689.6 L847.9,1695.8 L847.3,1701.7 L846.8,1707.4 L846.3,1713.1 L845.9,1718.7 L845.5,1724.4 L845.3,1730.3 L845.3,1736.4 L845.2,1743 L845.2,1750.1 L845.1,1757.7 L845.1,1766 L845.1,1775.1 L845.1,1785.1Z" fill="#527f38" fill-opacity="0.85"/>
<path d="M840.2,1785.1 L840.1,1772.5 L840,1761.1 L839.9,1750.6 L839.9,1741 L840,1732.1 L840,1723.8 L840.1,1716 L840,1708.5 L839.8,1701.3 L839.5,1694.2 L839.2,1687.1 L838.9,1679.8 L838.5,1672.3 L838,1664.4 L838,1664.4 L837.9,1672.3 L837.8,1679.8 L837.6,1687.1 L837.5,1694.2 L837.3,1701.3 L837.2,1708.5 L837.2,1716 L837.4,1723.8 L837.5,1732.1 L837.7,1741 L837.9,1750.6 L838.1,1761.1 L838.4,1772.6 L838.7,1785.1Z" fill="#5a8a3c" fill-opacity="0.85"/>
<path d="M841.5,1785.1 L841.6,1774.2 L842.2,1764.4 L843.2,1755.4 L844.6,1747.1 L846.3,1739.5 L848.3,1732.5 L850.6,1725.8 L853.1,1719.4 L855.7,1713.2 L858.4,1707 L861.3,1700.7 L864.4,1694.4 L867.5,1687.8 L870.7,1680.8 L870.7,1680.8 L867,1687.5 L863.3,1693.8 L859.8,1700 L856.5,1706 L853.3,1712.1 L850.3,1718.3 L847.8,1724.8 L845.6,1731.6 L843.7,1738.9 L842.2,1746.7 L841,1755.1 L840.2,1764.2 L839.8,1774.2 L839.9,1785.1Z" fill="#77a458" fill-opacity="0.85"/>
<path d="M811,1783.6 A31.8 5.8 0 0 0 874.6,1783.6" fill="none" stroke="#bb3b2b" stroke-width="3.4"/>
<path d="M810.7,1786.1 A32.1 6.5 0 0 0 874.9,1786.1" fill="none" stroke="#d4604c" stroke-width="1.3" stroke-opacity="0.75"/>
<rect x="853" y="1768" width="3" height="6" fill="#e890c8"/>
</g>
<rect x="905.1" y="1763.3" width="4.3" height="26.7" fill="#fff"/>
<text x="156.7" y="1588" font-size="27.4" text-anchor="middle" fill="#0d0b09">Control</text>
<text x="330.5" y="1588" font-size="25.5" font-style="italic" text-anchor="middle" fill="#0d0b09" textLength="89" lengthAdjust="spacingAndGlyphs">ObZNF1</text>
<text x="498.2" y="1588" font-size="25.5" font-style="italic" text-anchor="middle" fill="#0d0b09" textLength="89" lengthAdjust="spacingAndGlyphs">ObZNF2</text>
<text x="666.5" y="1588" font-size="25.5" font-style="italic" text-anchor="middle" fill="#0d0b09" textLength="89" lengthAdjust="spacingAndGlyphs">ObZNF3</text>
<text x="837" y="1588" font-size="25.5" font-style="italic" text-anchor="middle" fill="#0d0b09" textLength="89" lengthAdjust="spacingAndGlyphs">ObZNF4</text>
<text x="154.7" y="1822" font-size="25.5" font-style="italic" text-anchor="middle" fill="#0d0b09" textLength="89" lengthAdjust="spacingAndGlyphs">ObZNF5</text>
<text x="323" y="1822" font-size="25.5" font-style="italic" text-anchor="middle" fill="#0d0b09" textLength="89" lengthAdjust="spacingAndGlyphs">ObZNF6</text>
<text x="498.2" y="1822" font-size="25.5" font-style="italic" text-anchor="middle" fill="#0d0b09" textLength="89" lengthAdjust="spacingAndGlyphs">ObZNF7</text>
<text x="668.7" y="1822" font-size="25.5" font-style="italic" text-anchor="middle" fill="#0d0b09" textLength="89" lengthAdjust="spacingAndGlyphs">ObZNF8</text>
<text x="847" y="1822" font-size="25.5" font-style="italic" text-anchor="middle" fill="#0d0b09" textLength="89" lengthAdjust="spacingAndGlyphs">ObZNF9</text>
<text x="-1" y="1362" font-size="35.5" font-weight="bold" fill="#0d0b09">b</text>
<line x1="1166" y1="1383.7" x2="1166" y2="1708.6" stroke="#111" stroke-width="2.6"/>
<line x1="1152.5" y1="1707.3" x2="1491" y2="1707.3" stroke="#111" stroke-width="2.6"/>
<line x1="1152.5" y1="1707.3" x2="1166" y2="1707.3" stroke="#111" stroke-width="2.6"/>
<text x="1147.5" y="1715.3" font-size="23" text-anchor="end" fill="#0d0b09">0</text>
<line x1="1152.5" y1="1626.4" x2="1166" y2="1626.4" stroke="#111" stroke-width="2.6"/>
<text x="1147.5" y="1634.4" font-size="23" text-anchor="end" fill="#0d0b09">20</text>
<line x1="1152.5" y1="1545.5" x2="1166" y2="1545.5" stroke="#111" stroke-width="2.6"/>
<text x="1147.5" y="1553.5" font-size="23" text-anchor="end" fill="#0d0b09">40</text>
<line x1="1152.5" y1="1464.6" x2="1166" y2="1464.6" stroke="#111" stroke-width="2.6"/>
<text x="1147.5" y="1472.6" font-size="23" text-anchor="end" fill="#0d0b09">60</text>
<line x1="1152.5" y1="1383.7" x2="1166" y2="1383.7" stroke="#111" stroke-width="2.6"/>
<text x="1147.5" y="1391.7" font-size="23" text-anchor="end" fill="#0d0b09">80</text>
<line x1="1186.6" y1="1707.3" x2="1186.6" y2="1721.3" stroke="#111" stroke-width="2.6"/>
<text x="1191.1" y="1738.8" font-size="24.3" text-anchor="end" fill="#0d0b09" transform="rotate(-45 1191.1 1738.8)">Control</text>
<line x1="1217.8" y1="1707.3" x2="1217.8" y2="1721.3" stroke="#111" stroke-width="2.6"/>
<text x="1225.3" y="1739.8" font-size="23.1" text-anchor="end" fill="#0d0b09" transform="rotate(-45 1225.3 1739.8)">ObZNF1</text>
<line x1="1249" y1="1707.3" x2="1249" y2="1721.3" stroke="#111" stroke-width="2.6"/>
<text x="1256.5" y="1739.8" font-size="23.1" text-anchor="end" fill="#0d0b09" transform="rotate(-45 1256.5 1739.8)">ObZNF2</text>
<line x1="1280.2" y1="1707.3" x2="1280.2" y2="1721.3" stroke="#111" stroke-width="2.6"/>
<text x="1287.7" y="1739.8" font-size="23.1" text-anchor="end" fill="#0d0b09" transform="rotate(-45 1287.7 1739.8)">ObZNF3</text>
<line x1="1311.4" y1="1707.3" x2="1311.4" y2="1721.3" stroke="#111" stroke-width="2.6"/>
<text x="1318.9" y="1739.8" font-size="23.1" text-anchor="end" fill="#0d0b09" transform="rotate(-45 1318.9 1739.8)">ObZNF4</text>
<line x1="1342.6" y1="1707.3" x2="1342.6" y2="1721.3" stroke="#111" stroke-width="2.6"/>
<text x="1350.1" y="1739.8" font-size="23.1" text-anchor="end" fill="#0d0b09" transform="rotate(-45 1350.1 1739.8)">ObZNF5</text>
<line x1="1373.8" y1="1707.3" x2="1373.8" y2="1721.3" stroke="#111" stroke-width="2.6"/>
<text x="1381.3" y="1739.8" font-size="23.1" text-anchor="end" fill="#0d0b09" transform="rotate(-45 1381.3 1739.8)">ObZNF6</text>
<line x1="1405" y1="1707.3" x2="1405" y2="1721.3" stroke="#111" stroke-width="2.6"/>
<text x="1412.5" y="1739.8" font-size="23.1" text-anchor="end" fill="#0d0b09" transform="rotate(-45 1412.5 1739.8)">ObZNF7</text>
<line x1="1436.2" y1="1707.3" x2="1436.2" y2="1721.3" stroke="#111" stroke-width="2.6"/>
<text x="1443.7" y="1739.8" font-size="23.1" text-anchor="end" fill="#0d0b09" transform="rotate(-45 1443.7 1739.8)">ObZNF8</text>
<line x1="1467.4" y1="1707.3" x2="1467.4" y2="1721.3" stroke="#111" stroke-width="2.6"/>
<text x="1474.9" y="1739.8" font-size="23.1" text-anchor="end" fill="#0d0b09" transform="rotate(-45 1474.9 1739.8)">ObZNF9</text>
<text x="1100.5" y="1737.8" font-size="23.6" fill="#0d0b09">(n=10)</text>
<text x="1099.7" y="1538.8" font-size="27.5" text-anchor="middle" fill="#0d0b09" transform="rotate(-90 1099.7 1538.8)">Tiller angle (°)</text>
<text x="1071.8" y="1362" font-size="36.5" font-weight="bold" fill="#0d0b09">c</text>
<line x1="1186.6" y1="1647.4" x2="1186.6" y2="1657.5" stroke="#c8955b" stroke-width="2"/>
<line x1="1186.6" y1="1664.8" x2="1186.6" y2="1670.9" stroke="#c8955b" stroke-width="2"/>
<line x1="1181.6" y1="1647.4" x2="1191.6" y2="1647.4" stroke="#c8955b" stroke-width="2"/>
<line x1="1181.6" y1="1670.9" x2="1191.6" y2="1670.9" stroke="#c8955b" stroke-width="2"/>
<rect x="1176.6" y="1657.5" width="20" height="7.3" fill="none" stroke="#c8955b" stroke-width="2"/>
<line x1="1175.1" y1="1660.8" x2="1198.1" y2="1660.8" stroke="#c8955b" stroke-width="2"/>
<circle cx="1186.6" cy="1646.6" r="2.8" fill="#0d0d0d"/>
<circle cx="1180.6" cy="1650.7" r="2.8" fill="#0d0d0d"/>
<circle cx="1192.6" cy="1654.7" r="2.8" fill="#0d0d0d"/>
<circle cx="1180.6" cy="1654.7" r="2.8" fill="#0d0d0d"/>
<circle cx="1193.6" cy="1658.8" r="2.8" fill="#0d0d0d"/>
<circle cx="1186.6" cy="1662.8" r="2.8" fill="#0d0d0d"/>
<circle cx="1179.6" cy="1662.8" r="2.8" fill="#0d0d0d"/>
<circle cx="1180.6" cy="1666.8" r="2.8" fill="#0d0d0d"/>
<circle cx="1189.6" cy="1666.8" r="2.8" fill="#0d0d0d"/>
<circle cx="1193.6" cy="1670.9" r="2.8" fill="#0d0d0d"/>
<text x="1186.6" y="1639.8" font-size="24" text-anchor="middle" fill="#0d0b09">d</text>
<line x1="1217.8" y1="1436.3" x2="1217.8" y2="1446.8" stroke="#d62b21" stroke-width="2"/>
<line x1="1217.8" y1="1452.5" x2="1217.8" y2="1464.6" stroke="#d62b21" stroke-width="2"/>
<line x1="1212.8" y1="1436.3" x2="1222.8" y2="1436.3" stroke="#d62b21" stroke-width="2"/>
<line x1="1212.8" y1="1464.6" x2="1222.8" y2="1464.6" stroke="#d62b21" stroke-width="2"/>
<rect x="1207.8" y="1446.8" width="20" height="5.7" fill="none" stroke="#d62b21" stroke-width="2"/>
<line x1="1206.3" y1="1450" x2="1229.3" y2="1450" stroke="#d62b21" stroke-width="2"/>
<circle cx="1214.8" cy="1436.3" r="2.8" fill="#0d0d0d"/>
<circle cx="1220.8" cy="1440.3" r="2.8" fill="#0d0d0d"/>
<circle cx="1225.8" cy="1444.4" r="2.8" fill="#0d0d0d"/>
<circle cx="1214.8" cy="1444.4" r="2.8" fill="#0d0d0d"/>
<circle cx="1208.8" cy="1448.4" r="2.8" fill="#0d0d0d"/>
<circle cx="1220.8" cy="1448.4" r="2.8" fill="#0d0d0d"/>
<circle cx="1211.8" cy="1452.5" r="2.8" fill="#0d0d0d"/>
<circle cx="1217.8" cy="1452.5" r="2.8" fill="#0d0d0d"/>
<circle cx="1223.8" cy="1456.5" r="2.8" fill="#0d0d0d"/>
<circle cx="1217.8" cy="1464.6" r="2.8" fill="#0d0d0d"/>
<text x="1217.8" y="1429" font-size="24" text-anchor="middle" fill="#0d0b09">a</text>
<line x1="1249" y1="1646.6" x2="1249" y2="1654.7" stroke="#e2582b" stroke-width="2"/>
<line x1="1249" y1="1662.8" x2="1249" y2="1670.9" stroke="#e2582b" stroke-width="2"/>
<line x1="1244" y1="1646.6" x2="1254" y2="1646.6" stroke="#e2582b" stroke-width="2"/>
<line x1="1244" y1="1670.9" x2="1254" y2="1670.9" stroke="#e2582b" stroke-width="2"/>
<rect x="1239" y="1654.7" width="20" height="8.1" fill="none" stroke="#e2582b" stroke-width="2"/>
<line x1="1237.5" y1="1658.8" x2="1260.5" y2="1658.8" stroke="#e2582b" stroke-width="2"/>
<circle cx="1249" cy="1646.6" r="2.8" fill="#0d0d0d"/>
<circle cx="1243" cy="1650.7" r="2.8" fill="#0d0d0d"/>
<circle cx="1249" cy="1654.7" r="2.8" fill="#0d0d0d"/>
<circle cx="1255" cy="1654.7" r="2.8" fill="#0d0d0d"/>
<circle cx="1240" cy="1658.8" r="2.8" fill="#0d0d0d"/>
<circle cx="1249" cy="1658.8" r="2.8" fill="#0d0d0d"/>
<circle cx="1258" cy="1658.8" r="2.8" fill="#0d0d0d"/>
<circle cx="1246" cy="1662.8" r="2.8" fill="#0d0d0d"/>
<circle cx="1252" cy="1666.8" r="2.8" fill="#0d0d0d"/>
<circle cx="1252" cy="1670.9" r="2.8" fill="#0d0d0d"/>
<text x="1249" y="1639.8" font-size="24" text-anchor="middle" fill="#0d0b09">d</text>
<line x1="1280.2" y1="1456.5" x2="1280.2" y2="1458.5" stroke="#c2b535" stroke-width="2"/>
<line x1="1280.2" y1="1462.6" x2="1280.2" y2="1480.8" stroke="#c2b535" stroke-width="2"/>
<line x1="1275.2" y1="1456.5" x2="1285.2" y2="1456.5" stroke="#c2b535" stroke-width="2"/>
<line x1="1275.2" y1="1480.8" x2="1285.2" y2="1480.8" stroke="#c2b535" stroke-width="2"/>
<rect x="1270.2" y="1458.5" width="20" height="4" fill="none" stroke="#c2b535" stroke-width="2"/>
<line x1="1268.7" y1="1460.6" x2="1291.7" y2="1460.6" stroke="#c2b535" stroke-width="2"/>
<circle cx="1277.2" cy="1456.5" r="2.8" fill="#0d0d0d"/>
<circle cx="1280.2" cy="1456.5" r="2.8" fill="#0d0d0d"/>
<circle cx="1283.2" cy="1456.5" r="2.8" fill="#0d0d0d"/>
<circle cx="1286.2" cy="1456.5" r="2.8" fill="#0d0d0d"/>
<circle cx="1289.2" cy="1456.5" r="2.8" fill="#0d0d0d"/>
<circle cx="1271.2" cy="1460.6" r="2.8" fill="#0d0d0d"/>
<circle cx="1274.2" cy="1460.6" r="2.8" fill="#0d0d0d"/>
<circle cx="1277.2" cy="1464.6" r="2.8" fill="#0d0d0d"/>
<circle cx="1283.2" cy="1468.6" r="2.8" fill="#0d0d0d"/>
<circle cx="1280.2" cy="1480.8" r="2.8" fill="#0d0d0d"/>
<text x="1280.2" y="1448.4" font-size="24" text-anchor="middle" fill="#0d0b09">b</text>
<line x1="1311.4" y1="1646.6" x2="1311.4" y2="1650.7" stroke="#2f8a40" stroke-width="2"/>
<line x1="1311.4" y1="1664.8" x2="1311.4" y2="1670.9" stroke="#2f8a40" stroke-width="2"/>
<line x1="1306.4" y1="1646.6" x2="1316.4" y2="1646.6" stroke="#2f8a40" stroke-width="2"/>
<line x1="1306.4" y1="1670.9" x2="1316.4" y2="1670.9" stroke="#2f8a40" stroke-width="2"/>
<rect x="1301.4" y="1650.7" width="20" height="14.2" fill="none" stroke="#2f8a40" stroke-width="2"/>
<line x1="1299.9" y1="1658.8" x2="1322.9" y2="1658.8" stroke="#2f8a40" stroke-width="2"/>
<circle cx="1308.4" cy="1646.6" r="2.8" fill="#0d0d0d"/>
<circle cx="1314.4" cy="1646.6" r="2.8" fill="#0d0d0d"/>
<circle cx="1317.4" cy="1650.7" r="2.8" fill="#0d0d0d"/>
<circle cx="1302.4" cy="1658.8" r="2.8" fill="#0d0d0d"/>
<circle cx="1311.4" cy="1658.8" r="2.8" fill="#0d0d0d"/>
<circle cx="1320.4" cy="1658.8" r="2.8" fill="#0d0d0d"/>
<circle cx="1305.4" cy="1662.8" r="2.8" fill="#0d0d0d"/>
<circle cx="1308.4" cy="1666.8" r="2.8" fill="#0d0d0d"/>
<circle cx="1314.4" cy="1666.8" r="2.8" fill="#0d0d0d"/>
<circle cx="1317.4" cy="1670.9" r="2.8" fill="#0d0d0d"/>
<text x="1311.4" y="1639.8" font-size="24" text-anchor="middle" fill="#0d0b09">d</text>
<line x1="1342.6" y1="1650.7" x2="1342.6" y2="1656.7" stroke="#3a9b6f" stroke-width="2"/>
<line x1="1342.6" y1="1662.8" x2="1342.6" y2="1670.9" stroke="#3a9b6f" stroke-width="2"/>
<line x1="1337.6" y1="1650.7" x2="1347.6" y2="1650.7" stroke="#3a9b6f" stroke-width="2"/>
<line x1="1337.6" y1="1670.9" x2="1347.6" y2="1670.9" stroke="#3a9b6f" stroke-width="2"/>
<rect x="1332.6" y="1656.7" width="20" height="6.1" fill="none" stroke="#3a9b6f" stroke-width="2"/>
<line x1="1331.1" y1="1660.8" x2="1354.1" y2="1660.8" stroke="#3a9b6f" stroke-width="2"/>
<circle cx="1336.6" cy="1650.7" r="2.8" fill="#0d0d0d"/>
<circle cx="1342.6" cy="1654.7" r="2.8" fill="#0d0d0d"/>
<circle cx="1348.6" cy="1654.7" r="2.8" fill="#0d0d0d"/>
<circle cx="1345.6" cy="1658.8" r="2.8" fill="#0d0d0d"/>
<circle cx="1351.6" cy="1658.8" r="2.8" fill="#0d0d0d"/>
<circle cx="1333.6" cy="1662.8" r="2.8" fill="#0d0d0d"/>
<circle cx="1339.6" cy="1662.8" r="2.8" fill="#0d0d0d"/>
<circle cx="1345.6" cy="1662.8" r="2.8" fill="#0d0d0d"/>
<circle cx="1339.6" cy="1666.8" r="2.8" fill="#0d0d0d"/>
<circle cx="1342.6" cy="1670.9" r="2.8" fill="#0d0d0d"/>
<text x="1342.6" y="1644.8" font-size="24" text-anchor="middle" fill="#0d0b09">d</text>
<line x1="1373.8" y1="1646.6" x2="1373.8" y2="1654.7" stroke="#ea7b85" stroke-width="2"/>
<line x1="1373.8" y1="1662.8" x2="1373.8" y2="1666.8" stroke="#ea7b85" stroke-width="2"/>
<line x1="1368.8" y1="1646.6" x2="1378.8" y2="1646.6" stroke="#ea7b85" stroke-width="2"/>
<line x1="1368.8" y1="1666.8" x2="1378.8" y2="1666.8" stroke="#ea7b85" stroke-width="2"/>
<rect x="1363.8" y="1654.7" width="20" height="8.1" fill="none" stroke="#ea7b85" stroke-width="2"/>
<line x1="1362.3" y1="1658.8" x2="1385.3" y2="1658.8" stroke="#ea7b85" stroke-width="2"/>
<circle cx="1373.8" cy="1646.6" r="2.8" fill="#0d0d0d"/>
<circle cx="1367.8" cy="1650.7" r="2.8" fill="#0d0d0d"/>
<circle cx="1370.8" cy="1654.7" r="2.8" fill="#0d0d0d"/>
<circle cx="1379.8" cy="1654.7" r="2.8" fill="#0d0d0d"/>
<circle cx="1364.8" cy="1658.8" r="2.8" fill="#0d0d0d"/>
<circle cx="1373.8" cy="1658.8" r="2.8" fill="#0d0d0d"/>
<circle cx="1376.8" cy="1658.8" r="2.8" fill="#0d0d0d"/>
<circle cx="1373.8" cy="1662.8" r="2.8" fill="#0d0d0d"/>
<circle cx="1379.8" cy="1666.8" r="2.8" fill="#0d0d0d"/>
<circle cx="1382.8" cy="1666.8" r="2.8" fill="#0d0d0d"/>
<text x="1373.8" y="1639.8" font-size="24" text-anchor="middle" fill="#0d0b09">d</text>
<line x1="1405" y1="1565.7" x2="1405" y2="1577.9" stroke="#f29c52" stroke-width="2"/>
<line x1="1405" y1="1596.1" x2="1405" y2="1606.2" stroke="#f29c52" stroke-width="2"/>
<line x1="1400" y1="1565.7" x2="1410" y2="1565.7" stroke="#f29c52" stroke-width="2"/>
<line x1="1400" y1="1606.2" x2="1410" y2="1606.2" stroke="#f29c52" stroke-width="2"/>
<rect x="1395" y="1577.9" width="20" height="18.2" fill="none" stroke="#f29c52" stroke-width="2"/>
<line x1="1393.5" y1="1588" x2="1416.5" y2="1588" stroke="#f29c52" stroke-width="2"/>
<circle cx="1401" cy="1565.7" r="2.8" fill="#0d0d0d"/>
<circle cx="1409" cy="1565.7" r="2.8" fill="#0d0d0d"/>
<circle cx="1405" cy="1577.9" r="2.8" fill="#0d0d0d"/>
<circle cx="1402" cy="1586" r="2.8" fill="#0d0d0d"/>
<circle cx="1411" cy="1586" r="2.8" fill="#0d0d0d"/>
<circle cx="1405" cy="1590" r="2.8" fill="#0d0d0d"/>
<circle cx="1396" cy="1594" r="2.8" fill="#0d0d0d"/>
<circle cx="1411" cy="1598.1" r="2.8" fill="#0d0d0d"/>
<circle cx="1402" cy="1598.1" r="2.8" fill="#0d0d0d"/>
<circle cx="1405" cy="1606.2" r="2.8" fill="#0d0d0d"/>
<text x="1405" y="1559" font-size="24" text-anchor="middle" fill="#0d0b09">c</text>
<line x1="1436.2" y1="1646.6" x2="1436.2" y2="1654.7" stroke="#7d6b2b" stroke-width="2"/>
<line x1="1436.2" y1="1662.8" x2="1436.2" y2="1670.9" stroke="#7d6b2b" stroke-width="2"/>
<line x1="1431.2" y1="1646.6" x2="1441.2" y2="1646.6" stroke="#7d6b2b" stroke-width="2"/>
<line x1="1431.2" y1="1670.9" x2="1441.2" y2="1670.9" stroke="#7d6b2b" stroke-width="2"/>
<rect x="1426.2" y="1654.7" width="20" height="8.1" fill="none" stroke="#7d6b2b" stroke-width="2"/>
<line x1="1424.7" y1="1658.8" x2="1447.7" y2="1658.8" stroke="#7d6b2b" stroke-width="2"/>
<circle cx="1436.2" cy="1646.6" r="2.8" fill="#0d0d0d"/>
<circle cx="1430.2" cy="1650.7" r="2.8" fill="#0d0d0d"/>
<circle cx="1442.2" cy="1654.7" r="2.8" fill="#0d0d0d"/>
<circle cx="1430.2" cy="1654.7" r="2.8" fill="#0d0d0d"/>
<circle cx="1427.2" cy="1658.8" r="2.8" fill="#0d0d0d"/>
<circle cx="1436.2" cy="1658.8" r="2.8" fill="#0d0d0d"/>
<circle cx="1445.2" cy="1658.8" r="2.8" fill="#0d0d0d"/>
<circle cx="1439.2" cy="1662.8" r="2.8" fill="#0d0d0d"/>
<circle cx="1433.2" cy="1666.8" r="2.8" fill="#0d0d0d"/>
<circle cx="1436.2" cy="1670.9" r="2.8" fill="#0d0d0d"/>
<text x="1436.2" y="1639.8" font-size="24" text-anchor="middle" fill="#0d0b09">d</text>
<line x1="1467.4" y1="1646.6" x2="1467.4" y2="1654.7" stroke="#84d5b2" stroke-width="2"/>
<line x1="1467.4" y1="1666.8" x2="1467.4" y2="1670.9" stroke="#84d5b2" stroke-width="2"/>
<line x1="1462.4" y1="1646.6" x2="1472.4" y2="1646.6" stroke="#84d5b2" stroke-width="2"/>
<line x1="1462.4" y1="1670.9" x2="1472.4" y2="1670.9" stroke="#84d5b2" stroke-width="2"/>
<rect x="1457.4" y="1654.7" width="20" height="12.1" fill="none" stroke="#84d5b2" stroke-width="2"/>
<line x1="1455.9" y1="1658.8" x2="1478.9" y2="1658.8" stroke="#84d5b2" stroke-width="2"/>
<circle cx="1467.4" cy="1646.6" r="2.8" fill="#0d0d0d"/>
<circle cx="1470.4" cy="1650.7" r="2.8" fill="#0d0d0d"/>
<circle cx="1461.4" cy="1654.7" r="2.8" fill="#0d0d0d"/>
<circle cx="1476.4" cy="1654.7" r="2.8" fill="#0d0d0d"/>
<circle cx="1458.4" cy="1658.8" r="2.8" fill="#0d0d0d"/>
<circle cx="1464.4" cy="1658.8" r="2.8" fill="#0d0d0d"/>
<circle cx="1473.4" cy="1662.8" r="2.8" fill="#0d0d0d"/>
<circle cx="1461.4" cy="1666.8" r="2.8" fill="#0d0d0d"/>
<circle cx="1467.4" cy="1666.8" r="2.8" fill="#0d0d0d"/>
<circle cx="1470.4" cy="1670.9" r="2.8" fill="#0d0d0d"/>
<text x="1467.4" y="1639.8" font-size="24" text-anchor="middle" fill="#0d0b09">d</text>
<line x1="1694.5" y1="1385" x2="1694.5" y2="1708.9" stroke="#111" stroke-width="2.6"/>
<line x1="1681" y1="1707.6" x2="2025.5" y2="1707.6" stroke="#111" stroke-width="2.6"/>
<line x1="1681" y1="1707.6" x2="1694.5" y2="1707.6" stroke="#111" stroke-width="2.6"/>
<text x="1675.5" y="1715.6" font-size="23" text-anchor="end" fill="#0d0b09">0</text>
<line x1="1681" y1="1626.9" x2="1694.5" y2="1626.9" stroke="#111" stroke-width="2.6"/>
<text x="1675.5" y="1634.9" font-size="23" text-anchor="end" fill="#0d0b09">10</text>
<line x1="1681" y1="1546.3" x2="1694.5" y2="1546.3" stroke="#111" stroke-width="2.6"/>
<text x="1675.5" y="1554.3" font-size="23" text-anchor="end" fill="#0d0b09">20</text>
<line x1="1681" y1="1465.7" x2="1694.5" y2="1465.7" stroke="#111" stroke-width="2.6"/>
<text x="1675.5" y="1473.7" font-size="23" text-anchor="end" fill="#0d0b09">30</text>
<line x1="1681" y1="1385" x2="1694.5" y2="1385" stroke="#111" stroke-width="2.6"/>
<text x="1675.5" y="1393" font-size="23" text-anchor="end" fill="#0d0b09">40</text>
<line x1="1715" y1="1707.6" x2="1715" y2="1721.6" stroke="#111" stroke-width="2.6"/>
<text x="1719.5" y="1739.1" font-size="24.3" text-anchor="end" fill="#0d0b09" transform="rotate(-45 1719.5 1739.1)">Control</text>
<line x1="1746.3" y1="1707.6" x2="1746.3" y2="1721.6" stroke="#111" stroke-width="2.6"/>
<text x="1753.8" y="1740.1" font-size="23.1" text-anchor="end" fill="#0d0b09" transform="rotate(-45 1753.8 1740.1)">ObZNF1</text>
<line x1="1777.4" y1="1707.6" x2="1777.4" y2="1721.6" stroke="#111" stroke-width="2.6"/>
<text x="1784.9" y="1740.1" font-size="23.1" text-anchor="end" fill="#0d0b09" transform="rotate(-45 1784.9 1740.1)">ObZNF2</text>
<line x1="1808.6" y1="1707.6" x2="1808.6" y2="1721.6" stroke="#111" stroke-width="2.6"/>
<text x="1816.1" y="1740.1" font-size="23.1" text-anchor="end" fill="#0d0b09" transform="rotate(-45 1816.1 1740.1)">ObZNF3</text>
<line x1="1839.7" y1="1707.6" x2="1839.7" y2="1721.6" stroke="#111" stroke-width="2.6"/>
<text x="1847.2" y="1740.1" font-size="23.1" text-anchor="end" fill="#0d0b09" transform="rotate(-45 1847.2 1740.1)">ObZNF4</text>
<line x1="1871" y1="1707.6" x2="1871" y2="1721.6" stroke="#111" stroke-width="2.6"/>
<text x="1878.5" y="1740.1" font-size="23.1" text-anchor="end" fill="#0d0b09" transform="rotate(-45 1878.5 1740.1)">ObZNF5</text>
<line x1="1902" y1="1707.6" x2="1902" y2="1721.6" stroke="#111" stroke-width="2.6"/>
<text x="1909.5" y="1740.1" font-size="23.1" text-anchor="end" fill="#0d0b09" transform="rotate(-45 1909.5 1740.1)">ObZNF6</text>
<line x1="1933.3" y1="1707.6" x2="1933.3" y2="1721.6" stroke="#111" stroke-width="2.6"/>
<text x="1940.8" y="1740.1" font-size="23.1" text-anchor="end" fill="#0d0b09" transform="rotate(-45 1940.8 1740.1)">ObZNF7</text>
<line x1="1964.3" y1="1707.6" x2="1964.3" y2="1721.6" stroke="#111" stroke-width="2.6"/>
<text x="1971.8" y="1740.1" font-size="23.1" text-anchor="end" fill="#0d0b09" transform="rotate(-45 1971.8 1740.1)">ObZNF8</text>
<line x1="1995.6" y1="1707.6" x2="1995.6" y2="1721.6" stroke="#111" stroke-width="2.6"/>
<text x="2003.1" y="1740.1" font-size="23.1" text-anchor="end" fill="#0d0b09" transform="rotate(-45 2003.1 1740.1)">ObZNF9</text>
<text x="1615" y="1738.1" font-size="23.6" fill="#0d0b09">(n=10)</text>
<text x="1631.2" y="1538" font-size="27.5" text-anchor="middle" fill="#0d0b09" transform="rotate(-90 1631.2 1538)">Tiller number</text>
<text x="1589.5" y="1362" font-size="36.5" font-weight="bold" fill="#0d0b09">d</text>
<line x1="1715" y1="1594.7" x2="1715" y2="1602.8" stroke="#c8955b" stroke-width="2"/>
<line x1="1715" y1="1618.9" x2="1715" y2="1635" stroke="#c8955b" stroke-width="2"/>
<line x1="1710" y1="1594.7" x2="1720" y2="1594.7" stroke="#c8955b" stroke-width="2"/>
<line x1="1710" y1="1635" x2="1720" y2="1635" stroke="#c8955b" stroke-width="2"/>
<rect x="1705" y="1602.8" width="20" height="16.1" fill="none" stroke="#c8955b" stroke-width="2"/>
<line x1="1703.5" y1="1606.8" x2="1726.5" y2="1606.8" stroke="#c8955b" stroke-width="2"/>
<circle cx="1711" cy="1594.7" r="2.8" fill="#0d0d0d"/>
<circle cx="1719" cy="1594.7" r="2.8" fill="#0d0d0d"/>
<circle cx="1707" cy="1602.8" r="2.8" fill="#0d0d0d"/>
<circle cx="1715" cy="1602.8" r="2.8" fill="#0d0d0d"/>
<circle cx="1723" cy="1602.8" r="2.8" fill="#0d0d0d"/>
<circle cx="1711" cy="1610.8" r="2.8" fill="#0d0d0d"/>
<circle cx="1719" cy="1610.8" r="2.8" fill="#0d0d0d"/>
<circle cx="1715" cy="1618.9" r="2.8" fill="#0d0d0d"/>
<circle cx="1715" cy="1626.9" r="2.8" fill="#0d0d0d"/>
<circle cx="1715" cy="1635" r="2.8" fill="#0d0d0d"/>
<text x="1715" y="1587" font-size="24" text-anchor="middle" fill="#0d0b09">c</text>
<line x1="1746.3" y1="1441.5" x2="1746.3" y2="1464" stroke="#d62b21" stroke-width="2"/>
<line x1="1746.3" y1="1489.8" x2="1746.3" y2="1506" stroke="#d62b21" stroke-width="2"/>
<line x1="1741.3" y1="1441.5" x2="1751.3" y2="1441.5" stroke="#d62b21" stroke-width="2"/>
<line x1="1741.3" y1="1506" x2="1751.3" y2="1506" stroke="#d62b21" stroke-width="2"/>
<rect x="1736.3" y="1464" width="20" height="25.8" fill="none" stroke="#d62b21" stroke-width="2"/>
<line x1="1734.8" y1="1473.7" x2="1757.8" y2="1473.7" stroke="#d62b21" stroke-width="2"/>
<circle cx="1746.3" cy="1441.5" r="2.8" fill="#0d0d0d"/>
<circle cx="1746.3" cy="1449.5" r="2.8" fill="#0d0d0d"/>
<circle cx="1742.3" cy="1465.7" r="2.8" fill="#0d0d0d"/>
<circle cx="1750.3" cy="1465.7" r="2.8" fill="#0d0d0d"/>
<circle cx="1742.3" cy="1473.7" r="2.8" fill="#0d0d0d"/>
<circle cx="1750.3" cy="1473.7" r="2.8" fill="#0d0d0d"/>
<circle cx="1746.3" cy="1481.8" r="2.8" fill="#0d0d0d"/>
<circle cx="1746.3" cy="1489.8" r="2.8" fill="#0d0d0d"/>
<circle cx="1746.3" cy="1497.9" r="2.8" fill="#0d0d0d"/>
<circle cx="1746.3" cy="1506" r="2.8" fill="#0d0d0d"/>
<text x="1746.3" y="1432" font-size="24" text-anchor="middle" fill="#0d0b09">a</text>
<line x1="1777.4" y1="1586.6" x2="1777.4" y2="1596.3" stroke="#e2582b" stroke-width="2"/>
<line x1="1777.4" y1="1617.3" x2="1777.4" y2="1626.9" stroke="#e2582b" stroke-width="2"/>
<line x1="1772.4" y1="1586.6" x2="1782.4" y2="1586.6" stroke="#e2582b" stroke-width="2"/>
<line x1="1772.4" y1="1626.9" x2="1782.4" y2="1626.9" stroke="#e2582b" stroke-width="2"/>
<rect x="1767.4" y="1596.3" width="20" height="21" fill="none" stroke="#e2582b" stroke-width="2"/>
<line x1="1765.9" y1="1606.8" x2="1788.9" y2="1606.8" stroke="#e2582b" stroke-width="2"/>
<circle cx="1777.4" cy="1586.6" r="2.8" fill="#0d0d0d"/>
<circle cx="1773.4" cy="1594.7" r="2.8" fill="#0d0d0d"/>
<circle cx="1781.4" cy="1594.7" r="2.8" fill="#0d0d0d"/>
<circle cx="1773.4" cy="1602.8" r="2.8" fill="#0d0d0d"/>
<circle cx="1781.4" cy="1602.8" r="2.8" fill="#0d0d0d"/>
<circle cx="1773.4" cy="1610.8" r="2.8" fill="#0d0d0d"/>
<circle cx="1781.4" cy="1610.8" r="2.8" fill="#0d0d0d"/>
<circle cx="1773.4" cy="1618.9" r="2.8" fill="#0d0d0d"/>
<circle cx="1781.4" cy="1618.9" r="2.8" fill="#0d0d0d"/>
<circle cx="1777.4" cy="1626.9" r="2.8" fill="#0d0d0d"/>
<text x="1777.4" y="1577.5" font-size="24" text-anchor="middle" fill="#0d0b09">c</text>
<line x1="1808.6" y1="1441.5" x2="1808.6" y2="1473.7" stroke="#c2b535" stroke-width="2"/>
<line x1="1808.6" y1="1510" x2="1808.6" y2="1530.2" stroke="#c2b535" stroke-width="2"/>
<line x1="1803.6" y1="1441.5" x2="1813.6" y2="1441.5" stroke="#c2b535" stroke-width="2"/>
<line x1="1803.6" y1="1530.2" x2="1813.6" y2="1530.2" stroke="#c2b535" stroke-width="2"/>
<rect x="1798.6" y="1473.7" width="20" height="36.3" fill="none" stroke="#c2b535" stroke-width="2"/>
<line x1="1797.1" y1="1489.8" x2="1820.1" y2="1489.8" stroke="#c2b535" stroke-width="2"/>
<circle cx="1808.6" cy="1441.5" r="2.8" fill="#0d0d0d"/>
<circle cx="1808.6" cy="1465.7" r="2.8" fill="#0d0d0d"/>
<circle cx="1808.6" cy="1473.7" r="2.8" fill="#0d0d0d"/>
<circle cx="1808.6" cy="1481.8" r="2.8" fill="#0d0d0d"/>
<circle cx="1804.6" cy="1489.8" r="2.8" fill="#0d0d0d"/>
<circle cx="1812.6" cy="1489.8" r="2.8" fill="#0d0d0d"/>
<circle cx="1808.6" cy="1497.9" r="2.8" fill="#0d0d0d"/>
<circle cx="1808.6" cy="1506" r="2.8" fill="#0d0d0d"/>
<circle cx="1805.6" cy="1530.2" r="2.8" fill="#0d0d0d"/>
<circle cx="1811.6" cy="1530.2" r="2.8" fill="#0d0d0d"/>
<text x="1808.6" y="1432" font-size="24" text-anchor="middle" fill="#0d0b09">a</text>
<line x1="1839.7" y1="1586.6" x2="1839.7" y2="1596.3" stroke="#2f8a40" stroke-width="2"/>
<line x1="1839.7" y1="1625.3" x2="1839.7" y2="1635" stroke="#2f8a40" stroke-width="2"/>
<line x1="1834.7" y1="1586.6" x2="1844.7" y2="1586.6" stroke="#2f8a40" stroke-width="2"/>
<line x1="1834.7" y1="1635" x2="1844.7" y2="1635" stroke="#2f8a40" stroke-width="2"/>
<rect x="1829.7" y="1596.3" width="20" height="29" fill="none" stroke="#2f8a40" stroke-width="2"/>
<line x1="1828.2" y1="1614.9" x2="1851.2" y2="1614.9" stroke="#2f8a40" stroke-width="2"/>
<circle cx="1839.7" cy="1586.6" r="2.8" fill="#0d0d0d"/>
<circle cx="1836.7" cy="1594.7" r="2.8" fill="#0d0d0d"/>
<circle cx="1842.7" cy="1594.7" r="2.8" fill="#0d0d0d"/>
<circle cx="1839.7" cy="1602.8" r="2.8" fill="#0d0d0d"/>
<circle cx="1839.7" cy="1610.8" r="2.8" fill="#0d0d0d"/>
<circle cx="1839.7" cy="1618.9" r="2.8" fill="#0d0d0d"/>
<circle cx="1835.7" cy="1626.9" r="2.8" fill="#0d0d0d"/>
<circle cx="1843.7" cy="1626.9" r="2.8" fill="#0d0d0d"/>
<circle cx="1839.7" cy="1626.9" r="2.8" fill="#0d0d0d"/>
<circle cx="1839.7" cy="1635" r="2.8" fill="#0d0d0d"/>
<text x="1839.7" y="1577.5" font-size="24" text-anchor="middle" fill="#0d0b09">c</text>
<line x1="1871" y1="1586.6" x2="1871" y2="1604.4" stroke="#3a9b6f" stroke-width="2"/>
<line x1="1871" y1="1625.3" x2="1871" y2="1635" stroke="#3a9b6f" stroke-width="2"/>
<line x1="1866" y1="1586.6" x2="1876" y2="1586.6" stroke="#3a9b6f" stroke-width="2"/>
<line x1="1866" y1="1635" x2="1876" y2="1635" stroke="#3a9b6f" stroke-width="2"/>
<rect x="1861" y="1604.4" width="20" height="21" fill="none" stroke="#3a9b6f" stroke-width="2"/>
<line x1="1859.5" y1="1606.8" x2="1882.5" y2="1606.8" stroke="#3a9b6f" stroke-width="2"/>
<circle cx="1871" cy="1586.6" r="2.8" fill="#0d0d0d"/>
<circle cx="1871" cy="1594.7" r="2.8" fill="#0d0d0d"/>
<circle cx="1863" cy="1602.8" r="2.8" fill="#0d0d0d"/>
<circle cx="1871" cy="1602.8" r="2.8" fill="#0d0d0d"/>
<circle cx="1879" cy="1602.8" r="2.8" fill="#0d0d0d"/>
<circle cx="1867" cy="1610.8" r="2.8" fill="#0d0d0d"/>
<circle cx="1875" cy="1610.8" r="2.8" fill="#0d0d0d"/>
<circle cx="1867" cy="1626.9" r="2.8" fill="#0d0d0d"/>
<circle cx="1875" cy="1626.9" r="2.8" fill="#0d0d0d"/>
<circle cx="1871" cy="1635" r="2.8" fill="#0d0d0d"/>
<text x="1871" y="1577.5" font-size="24" text-anchor="middle" fill="#0d0b09">c</text>
<line x1="1902" y1="1586.6" x2="1902" y2="1602.8" stroke="#ea7b85" stroke-width="2"/>
<line x1="1902" y1="1618.9" x2="1902" y2="1626.9" stroke="#ea7b85" stroke-width="2"/>
<line x1="1897" y1="1586.6" x2="1907" y2="1586.6" stroke="#ea7b85" stroke-width="2"/>
<line x1="1897" y1="1626.9" x2="1907" y2="1626.9" stroke="#ea7b85" stroke-width="2"/>
<rect x="1892" y="1602.8" width="20" height="16.1" fill="none" stroke="#ea7b85" stroke-width="2"/>
<line x1="1890.5" y1="1610.8" x2="1913.5" y2="1610.8" stroke="#ea7b85" stroke-width="2"/>
<circle cx="1902" cy="1586.6" r="2.8" fill="#0d0d0d"/>
<circle cx="1902" cy="1594.7" r="2.8" fill="#0d0d0d"/>
<circle cx="1902" cy="1602.8" r="2.8" fill="#0d0d0d"/>
<circle cx="1894" cy="1610.8" r="2.8" fill="#0d0d0d"/>
<circle cx="1902" cy="1610.8" r="2.8" fill="#0d0d0d"/>
<circle cx="1910" cy="1610.8" r="2.8" fill="#0d0d0d"/>
<circle cx="1898" cy="1618.9" r="2.8" fill="#0d0d0d"/>
<circle cx="1906" cy="1618.9" r="2.8" fill="#0d0d0d"/>
<circle cx="1898" cy="1626.9" r="2.8" fill="#0d0d0d"/>
<circle cx="1906" cy="1626.9" r="2.8" fill="#0d0d0d"/>
<text x="1902" y="1577.5" font-size="24" text-anchor="middle" fill="#0d0b09">c</text>
<line x1="1933.3" y1="1506" x2="1933.3" y2="1506" stroke="#f29c52" stroke-width="2"/>
<line x1="1933.3" y1="1546.3" x2="1933.3" y2="1554.4" stroke="#f29c52" stroke-width="2"/>
<line x1="1928.3" y1="1506" x2="1938.3" y2="1506" stroke="#f29c52" stroke-width="2"/>
<line x1="1928.3" y1="1554.4" x2="1938.3" y2="1554.4" stroke="#f29c52" stroke-width="2"/>
<rect x="1923.3" y="1506" width="20" height="40.3" fill="none" stroke="#f29c52" stroke-width="2"/>
<line x1="1921.8" y1="1526.1" x2="1944.8" y2="1526.1" stroke="#f29c52" stroke-width="2"/>
<circle cx="1925.3" cy="1506" r="2.8" fill="#0d0d0d"/>
<circle cx="1933.3" cy="1506" r="2.8" fill="#0d0d0d"/>
<circle cx="1941.3" cy="1506" r="2.8" fill="#0d0d0d"/>
<circle cx="1929.3" cy="1522.1" r="2.8" fill="#0d0d0d"/>
<circle cx="1937.3" cy="1522.1" r="2.8" fill="#0d0d0d"/>
<circle cx="1929.3" cy="1530.2" r="2.8" fill="#0d0d0d"/>
<circle cx="1937.3" cy="1530.2" r="2.8" fill="#0d0d0d"/>
<circle cx="1933.3" cy="1546.3" r="2.8" fill="#0d0d0d"/>
<circle cx="1929.3" cy="1554.4" r="2.8" fill="#0d0d0d"/>
<circle cx="1937.3" cy="1554.4" r="2.8" fill="#0d0d0d"/>
<text x="1933.3" y="1498.6" font-size="24" text-anchor="middle" fill="#0d0b09">b</text>
<line x1="1964.3" y1="1586.6" x2="1964.3" y2="1594.7" stroke="#7d6b2b" stroke-width="2"/>
<line x1="1964.3" y1="1618.9" x2="1964.3" y2="1643.1" stroke="#7d6b2b" stroke-width="2"/>
<line x1="1959.3" y1="1586.6" x2="1969.3" y2="1586.6" stroke="#7d6b2b" stroke-width="2"/>
<line x1="1959.3" y1="1643.1" x2="1969.3" y2="1643.1" stroke="#7d6b2b" stroke-width="2"/>
<rect x="1954.3" y="1594.7" width="20" height="24.2" fill="none" stroke="#7d6b2b" stroke-width="2"/>
<line x1="1952.8" y1="1610.8" x2="1975.8" y2="1610.8" stroke="#7d6b2b" stroke-width="2"/>
<circle cx="1960.3" cy="1586.6" r="2.8" fill="#0d0d0d"/>
<circle cx="1968.3" cy="1586.6" r="2.8" fill="#0d0d0d"/>
<circle cx="1964.3" cy="1594.7" r="2.8" fill="#0d0d0d"/>
<circle cx="1964.3" cy="1602.8" r="2.8" fill="#0d0d0d"/>
<circle cx="1956.3" cy="1610.8" r="2.8" fill="#0d0d0d"/>
<circle cx="1964.3" cy="1610.8" r="2.8" fill="#0d0d0d"/>
<circle cx="1972.3" cy="1610.8" r="2.8" fill="#0d0d0d"/>
<circle cx="1964.3" cy="1618.9" r="2.8" fill="#0d0d0d"/>
<circle cx="1964.3" cy="1626.9" r="2.8" fill="#0d0d0d"/>
<circle cx="1964.3" cy="1643.1" r="2.8" fill="#0d0d0d"/>
<text x="1964.3" y="1577.5" font-size="24" text-anchor="middle" fill="#0d0b09">c</text>
<line x1="1995.6" y1="1586.6" x2="1995.6" y2="1602.8" stroke="#84d5b2" stroke-width="2"/>
<line x1="1995.6" y1="1618.9" x2="1995.6" y2="1635" stroke="#84d5b2" stroke-width="2"/>
<line x1="1990.6" y1="1586.6" x2="2000.6" y2="1586.6" stroke="#84d5b2" stroke-width="2"/>
<line x1="1990.6" y1="1635" x2="2000.6" y2="1635" stroke="#84d5b2" stroke-width="2"/>
<rect x="1985.6" y="1602.8" width="20" height="16.1" fill="none" stroke="#84d5b2" stroke-width="2"/>
<line x1="1984.1" y1="1610.8" x2="2007.1" y2="1610.8" stroke="#84d5b2" stroke-width="2"/>
<circle cx="1995.6" cy="1586.6" r="2.8" fill="#0d0d0d"/>
<circle cx="1995.6" cy="1594.7" r="2.8" fill="#0d0d0d"/>
<circle cx="1985.6" cy="1602.8" r="2.8" fill="#0d0d0d"/>
<circle cx="1992.6" cy="1602.8" r="2.8" fill="#0d0d0d"/>
<circle cx="1998.6" cy="1602.8" r="2.8" fill="#0d0d0d"/>
<circle cx="2005.6" cy="1602.8" r="2.8" fill="#0d0d0d"/>
<circle cx="1995.6" cy="1610.8" r="2.8" fill="#0d0d0d"/>
<circle cx="1995.6" cy="1618.9" r="2.8" fill="#0d0d0d"/>
<circle cx="1995.6" cy="1626.9" r="2.8" fill="#0d0d0d"/>
<circle cx="1995.6" cy="1635" r="2.8" fill="#0d0d0d"/>
<text x="1995.6" y="1577.5" font-size="24" text-anchor="middle" fill="#0d0b09">c</text>
</svg>
</body></html>
